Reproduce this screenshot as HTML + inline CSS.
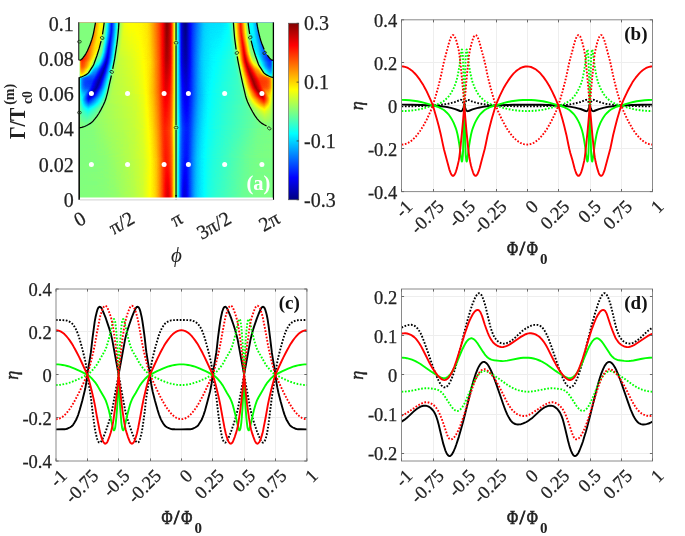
<!DOCTYPE html>
<html><head><meta charset="utf-8"><title>fig</title>
<style>html,body{margin:0;padding:0;background:#fff}svg{display:block}</style></head>
<body>
<svg width="685" height="536" viewBox="0 0 685 536">
<rect width="685" height="536" fill="#fff"/>
<g opacity="0.999">
<defs>
<filter id="jet" filterUnits="userSpaceOnUse" x="70" y="15" width="240" height="195" color-interpolation-filters="sRGB"><feComponentTransfer><feFuncR type="table" tableValues="0 0 0 0 .5 1 1 1 .5"/><feFuncG type="table" tableValues="0 0 .5 1 1 1 .5 0 0"/><feFuncB type="table" tableValues=".5 1 1 1 .5 0 0 0 0"/></feComponentTransfer></filter><filter id="inv" filterUnits="userSpaceOnUse" x="70" y="15" width="240" height="195" color-interpolation-filters="sRGB"><feComponentTransfer><feFuncR type="table" tableValues="1 0"/><feFuncG type="table" tableValues="1 0"/><feFuncB type="table" tableValues="1 0"/></feComponentTransfer></filter>
<linearGradient id="b0" gradientUnits="userSpaceOnUse" x1="79.1" x2="273.3" y1="0" y2="0"><stop offset="0" stop-color="#9d9d9d"/><stop offset=".2085" stop-color="#9d9d9d"/><stop offset=".3186" stop-color="#a2a2a2"/><stop offset=".3495" stop-color="#a6a6a6"/><stop offset=".3617" stop-color="#ababab"/><stop offset=".3946" stop-color="#c1c1c1"/><stop offset=".4119" stop-color="#cecece"/><stop offset=".4313" stop-color="#e1e1e1"/><stop offset=".4467" stop-color="#f9f9f9"/><stop offset=".4506" stop-color="#fdfdfd"/><stop offset=".4538" stop-color="#fdfdfd"/><stop offset=".4589" stop-color="#f9f9f9"/><stop offset=".4654" stop-color="#f2f2f2"/><stop offset=".4692" stop-color="#ececec"/><stop offset=".4731" stop-color="#e2e2e2"/><stop offset=".4815" stop-color="#c4c4c4"/><stop offset=".4898" stop-color="#9f9f9f"/><stop offset=".495" stop-color="#8d8d8d"/><stop offset=".5033" stop-color="#757575"/><stop offset=".5079" stop-color="#666"/><stop offset=".5111" stop-color="#5a5a5a"/><stop offset=".5182" stop-color="#3a3a3a"/><stop offset=".5246" stop-color="#232323"/><stop offset=".5278" stop-color="#181818"/><stop offset=".531" stop-color="#111"/><stop offset=".5375" stop-color="#080808"/><stop offset=".5426" stop-color="#030303"/><stop offset=".5471" stop-color="#010101"/><stop offset=".5503" stop-color="#020202"/><stop offset=".5542" stop-color="#060606"/><stop offset=".569" stop-color="#1e1e1e"/><stop offset=".5857" stop-color="#2e2e2e"/><stop offset=".6089" stop-color="#3f3f3f"/><stop offset=".6398" stop-color="#525252"/><stop offset=".6488" stop-color="#555"/><stop offset=".6752" stop-color="#585858"/><stop offset=".7273" stop-color="#595959"/><stop offset=".7924" stop-color="#5e5e5e"/><stop offset=".8381" stop-color="#5f5f5f"/><stop offset=".9996" stop-color="#626262"/></linearGradient>
<linearGradient id="b1" gradientUnits="userSpaceOnUse" x1="79.1" x2="273.3" y1="0" y2="0"><stop offset="0" stop-color="#909090"/><stop offset=".2015" stop-color="#919191"/><stop offset=".271" stop-color="#979797"/><stop offset=".3148" stop-color="#9d9d9d"/><stop offset=".3437" stop-color="#a2a2a2"/><stop offset=".3662" stop-color="#a8a8a8"/><stop offset=".3804" stop-color="#b1b1b1"/><stop offset=".4016" stop-color="#c1c1c1"/><stop offset=".4145" stop-color="#ccc"/><stop offset=".4454" stop-color="#f1f1f1"/><stop offset=".4493" stop-color="#f3f3f3"/><stop offset=".4531" stop-color="#f3f3f3"/><stop offset=".4602" stop-color="#efefef"/><stop offset=".4679" stop-color="#e8e8e8"/><stop offset=".4705" stop-color="#e4e4e4"/><stop offset=".4737" stop-color="#dcdcdc"/><stop offset=".4815" stop-color="#c2c2c2"/><stop offset=".4879" stop-color="#a6a6a6"/><stop offset=".4905" stop-color="#9d9d9d"/><stop offset=".4956" stop-color="#8b8b8b"/><stop offset=".5027" stop-color="#777"/><stop offset=".5072" stop-color="#686868"/><stop offset=".5111" stop-color="#5a5a5a"/><stop offset=".5182" stop-color="#3c3c3c"/><stop offset=".5239" stop-color="#292929"/><stop offset=".5278" stop-color="#1d1d1d"/><stop offset=".531" stop-color="#171717"/><stop offset=".5375" stop-color="#111"/><stop offset=".5433" stop-color="#0d0d0d"/><stop offset=".549" stop-color="#0b0b0b"/><stop offset=".5516" stop-color="#0c0c0c"/><stop offset=".5548" stop-color="#0e0e0e"/><stop offset=".5819" stop-color="#2e2e2e"/><stop offset=".598" stop-color="#3c3c3c"/><stop offset=".6276" stop-color="#515151"/><stop offset=".6347" stop-color="#545454"/><stop offset=".6482" stop-color="#585858"/><stop offset=".6861" stop-color="#5e5e5e"/><stop offset=".8072" stop-color="#6b6b6b"/><stop offset=".8947" stop-color="#6e6e6e"/><stop offset=".9996" stop-color="#6e6e6e"/></linearGradient>
<linearGradient id="mg1" gradientUnits="userSpaceOnUse" x1="0" x2="0" y1="22.6" y2="60"><stop offset="0" stop-color="#fff" stop-opacity="0"/><stop offset="1" stop-color="#fff" stop-opacity="1"/></linearGradient>
<mask id="m1" maskUnits="userSpaceOnUse" x="70" y="15" width="240" height="195"><rect x="70" y="22.6" width="240" height="187.4" fill="url(#mg1)"/></mask>
<linearGradient id="b2" gradientUnits="userSpaceOnUse" x1="79.1" x2="273.3" y1="0" y2="0"><stop offset="0" stop-color="#808080"/><stop offset=".0747" stop-color="#888"/><stop offset=".1815" stop-color="#8d8d8d"/><stop offset=".2588" stop-color="#929292"/><stop offset=".298" stop-color="#969696"/><stop offset=".3289" stop-color="#9b9b9b"/><stop offset=".354" stop-color="#a3a3a3"/><stop offset=".3811" stop-color="#b1b1b1"/><stop offset=".4062" stop-color="#c3c3c3"/><stop offset=".4248" stop-color="#d5d5d5"/><stop offset=".4383" stop-color="#e0e0e0"/><stop offset=".4441" stop-color="#e3e3e3"/><stop offset=".4493" stop-color="#e3e3e3"/><stop offset=".4576" stop-color="#e0e0e0"/><stop offset=".4667" stop-color="#dadada"/><stop offset=".4705" stop-color="#d4d4d4"/><stop offset=".4757" stop-color="#cacaca"/><stop offset=".4815" stop-color="#bbb"/><stop offset=".4905" stop-color="#9b9b9b"/><stop offset=".5104" stop-color="#5f5f5f"/><stop offset=".5182" stop-color="#434343"/><stop offset=".5233" stop-color="#363636"/><stop offset=".5278" stop-color="#2c2c2c"/><stop offset=".5323" stop-color="#252525"/><stop offset=".5375" stop-color="#212121"/><stop offset=".5458" stop-color="#1c1c1c"/><stop offset=".5529" stop-color="#1b1b1b"/><stop offset=".5568" stop-color="#1c1c1c"/><stop offset=".5619" stop-color="#1f1f1f"/><stop offset=".5748" stop-color="#292929"/><stop offset=".5928" stop-color="#393939"/><stop offset=".6147" stop-color="#4a4a4a"/><stop offset=".6398" stop-color="#565656"/><stop offset=".6591" stop-color="#5d5d5d"/><stop offset=".6861" stop-color="#626262"/><stop offset=".7196" stop-color="#666"/><stop offset=".8406" stop-color="#717171"/><stop offset=".9365" stop-color="#787878"/><stop offset=".9996" stop-color="#7f7f7f"/></linearGradient>
<linearGradient id="mg2" gradientUnits="userSpaceOnUse" x1="0" x2="0" y1="60" y2="94"><stop offset="0" stop-color="#fff" stop-opacity="0"/><stop offset="1" stop-color="#fff" stop-opacity="1"/></linearGradient>
<mask id="m2" maskUnits="userSpaceOnUse" x="70" y="15" width="240" height="195"><rect x="70" y="60" width="240" height="150" fill="url(#mg2)"/></mask>
<linearGradient id="b3" gradientUnits="userSpaceOnUse" x1="79.1" x2="273.3" y1="0" y2="0"><stop offset="0" stop-color="#808080"/><stop offset=".0708" stop-color="#818181"/><stop offset=".1558" stop-color="#898989"/><stop offset=".2375" stop-color="#8d8d8d"/><stop offset=".2871" stop-color="#919191"/><stop offset=".3238" stop-color="#969696"/><stop offset=".3559" stop-color="#9f9f9f"/><stop offset=".3759" stop-color="#a7a7a7"/><stop offset=".3907" stop-color="#b0b0b0"/><stop offset=".4016" stop-color="#b7b7b7"/><stop offset=".4126" stop-color="#c0c0c0"/><stop offset=".4287" stop-color="#d0d0d0"/><stop offset=".4396" stop-color="#d6d6d6"/><stop offset=".4473" stop-color="#d6d6d6"/><stop offset=".4564" stop-color="#d3d3d3"/><stop offset=".4654" stop-color="#cfcfcf"/><stop offset=".4712" stop-color="#c8c8c8"/><stop offset=".4776" stop-color="#bdbdbd"/><stop offset=".4802" stop-color="#b6b6b6"/><stop offset=".486" stop-color="#a1a1a1"/><stop offset=".4905" stop-color="#959595"/><stop offset=".4956" stop-color="#888"/><stop offset=".504" stop-color="#767676"/><stop offset=".5091" stop-color="#6a6a6a"/><stop offset=".5136" stop-color="#5d5d5d"/><stop offset=".5188" stop-color="#4a4a4a"/><stop offset=".5207" stop-color="#444"/><stop offset=".5272" stop-color="#393939"/><stop offset=".5317" stop-color="#323232"/><stop offset=".5362" stop-color="#2e2e2e"/><stop offset=".5471" stop-color="#292929"/><stop offset=".5561" stop-color="#282828"/><stop offset=".5619" stop-color="#292929"/><stop offset=".5716" stop-color="#2f2f2f"/><stop offset=".5928" stop-color="#424242"/><stop offset=".605" stop-color="#4b4b4b"/><stop offset=".616" stop-color="#515151"/><stop offset=".6385" stop-color="#5b5b5b"/><stop offset=".6668" stop-color="#626262"/><stop offset=".7035" stop-color="#676767"/><stop offset=".8355" stop-color="#737373"/><stop offset=".9217" stop-color="#7d7d7d"/><stop offset=".9996" stop-color="#7f7f7f"/></linearGradient>
<linearGradient id="mg3" gradientUnits="userSpaceOnUse" x1="0" x2="0" y1="94" y2="130"><stop offset="0" stop-color="#fff" stop-opacity="0"/><stop offset="1" stop-color="#fff" stop-opacity="1"/></linearGradient>
<mask id="m3" maskUnits="userSpaceOnUse" x="70" y="15" width="240" height="195"><rect x="70" y="94" width="240" height="116" fill="url(#mg3)"/></mask>
<linearGradient id="b4" gradientUnits="userSpaceOnUse" x1="79.1" x2="273.3" y1="0" y2="0"><stop offset="0" stop-color="#808080"/><stop offset=".0863" stop-color="#818181"/><stop offset=".1384" stop-color="#838383"/><stop offset=".2787" stop-color="#8f8f8f"/><stop offset=".3296" stop-color="#959595"/><stop offset=".365" stop-color="#9f9f9f"/><stop offset=".3849" stop-color="#a8a8a8"/><stop offset=".3978" stop-color="#afafaf"/><stop offset=".4081" stop-color="#b8b8b8"/><stop offset=".4177" stop-color="#c0c0c0"/><stop offset=".4338" stop-color="#d2d2d2"/><stop offset=".4441" stop-color="#d9d9d9"/><stop offset=".4512" stop-color="#d9d9d9"/><stop offset=".4596" stop-color="#d6d6d6"/><stop offset=".4692" stop-color="#cfcfcf"/><stop offset=".4737" stop-color="#cacaca"/><stop offset=".4789" stop-color="#c0c0c0"/><stop offset=".4821" stop-color="#b8b8b8"/><stop offset=".4873" stop-color="#a3a3a3"/><stop offset=".4924" stop-color="#929292"/><stop offset=".4969" stop-color="#868686"/><stop offset=".504" stop-color="#757575"/><stop offset=".5091" stop-color="#666"/><stop offset=".5124" stop-color="#5c5c5c"/><stop offset=".5162" stop-color="#4b4b4b"/><stop offset=".5182" stop-color="#454545"/><stop offset=".5239" stop-color="#383838"/><stop offset=".5291" stop-color="#313131"/><stop offset=".5349" stop-color="#2c2c2c"/><stop offset=".5439" stop-color="#262626"/><stop offset=".551" stop-color="#252525"/><stop offset=".5568" stop-color="#262626"/><stop offset=".5664" stop-color="#2d2d2d"/><stop offset=".5877" stop-color="#434343"/><stop offset=".5986" stop-color="#4b4b4b"/><stop offset=".6083" stop-color="#525252"/><stop offset=".6289" stop-color="#5b5b5b"/><stop offset=".6585" stop-color="#636363"/><stop offset=".6887" stop-color="#686868"/><stop offset=".8657" stop-color="#7b7b7b"/><stop offset=".9166" stop-color="#7e7e7e"/><stop offset=".9996" stop-color="#7f7f7f"/></linearGradient>
<linearGradient id="mg4" gradientUnits="userSpaceOnUse" x1="0" x2="0" y1="130" y2="158"><stop offset="0" stop-color="#fff" stop-opacity="0"/><stop offset="1" stop-color="#fff" stop-opacity="1"/></linearGradient>
<mask id="m4" maskUnits="userSpaceOnUse" x="70" y="15" width="240" height="195"><rect x="70" y="130" width="240" height="80" fill="url(#mg4)"/></mask>
<linearGradient id="b5" gradientUnits="userSpaceOnUse" x1="79.1" x2="273.3" y1="0" y2="0"><stop offset="0" stop-color="#808080"/><stop offset=".1126" stop-color="#818181"/><stop offset=".1757" stop-color="#838383"/><stop offset=".2781" stop-color="#8c8c8c"/><stop offset=".3257" stop-color="#939393"/><stop offset=".3733" stop-color="#a2a2a2"/><stop offset=".3868" stop-color="#a7a7a7"/><stop offset=".3971" stop-color="#adadad"/><stop offset=".4055" stop-color="#b4b4b4"/><stop offset=".4184" stop-color="#c1c1c1"/><stop offset=".448" stop-color="#e5e5e5"/><stop offset=".4525" stop-color="#e9e9e9"/><stop offset=".457" stop-color="#eaeaea"/><stop offset=".4609" stop-color="#e8e8e8"/><stop offset=".4654" stop-color="#e2e2e2"/><stop offset=".4737" stop-color="#d4d4d4"/><stop offset=".477" stop-color="#ccc"/><stop offset=".4815" stop-color="#bdbdbd"/><stop offset=".4873" stop-color="#a5a5a5"/><stop offset=".4898" stop-color="#9b9b9b"/><stop offset=".4956" stop-color="#8a8a8a"/><stop offset=".5033" stop-color="#777"/><stop offset=".5079" stop-color="#696969"/><stop offset=".5117" stop-color="#5c5c5c"/><stop offset=".5182" stop-color="#414141"/><stop offset=".5239" stop-color="#2f2f2f"/><stop offset=".5297" stop-color="#242424"/><stop offset=".5355" stop-color="#1a1a1a"/><stop offset=".5394" stop-color="#161616"/><stop offset=".5433" stop-color="#151515"/><stop offset=".5471" stop-color="#161616"/><stop offset=".5516" stop-color="#191919"/><stop offset=".5812" stop-color="#3d3d3d"/><stop offset=".5941" stop-color="#4a4a4a"/><stop offset=".6018" stop-color="#505050"/><stop offset=".6224" stop-color="#595959"/><stop offset=".6656" stop-color="#666"/><stop offset=".6997" stop-color="#6b6b6b"/><stop offset=".8432" stop-color="#7a7a7a"/><stop offset=".9095" stop-color="#7e7e7e"/><stop offset=".9996" stop-color="#7f7f7f"/></linearGradient>
<linearGradient id="mg5" gradientUnits="userSpaceOnUse" x1="0" x2="0" y1="158" y2="198.9"><stop offset="0" stop-color="#fff" stop-opacity="0"/><stop offset="1" stop-color="#fff" stop-opacity="1"/></linearGradient>
<mask id="m5" maskUnits="userSpaceOnUse" x="70" y="15" width="240" height="195"><rect x="70" y="158" width="240" height="52" fill="url(#mg5)"/></mask>
<linearGradient id="c0" gradientUnits="userSpaceOnUse" x1="79.1" x2="131.0" y1="0" y2="0"><stop offset="0" stop-color="#808080"/><stop offset=".3131" stop-color="#808080"/><stop offset=".3179" stop-color="#bababa"/><stop offset=".4046" stop-color="#a0a0a0"/><stop offset=".4624" stop-color="#9f9f9f"/><stop offset=".4672" stop-color="#9c9c9c"/><stop offset=".4817" stop-color="#818181"/><stop offset=".501" stop-color="#7c7c7c"/><stop offset=".5202" stop-color="#727272"/><stop offset=".6021" stop-color="#343434"/><stop offset=".6262" stop-color="#242424"/><stop offset=".6503" stop-color="#313131"/><stop offset=".7659" stop-color="#7f7f7f"/><stop offset=".8333" stop-color="#939393"/><stop offset=".8719" stop-color="#9b9b9b"/><stop offset=".9104" stop-color="#9e9e9e"/><stop offset=".9971" stop-color="#a0a0a0"/></linearGradient>
<linearGradient id="d0" gradientUnits="userSpaceOnUse" x1="221.30" x2="273.3" y1="0" y2="0"><stop offset="0" stop-color="#595959"/><stop offset=".0865" stop-color="#5b5b5b"/><stop offset=".125" stop-color="#5f5f5f"/><stop offset=".1635" stop-color="#676767"/><stop offset=".2308" stop-color="#7b7b7b"/><stop offset=".2356" stop-color="#818181"/><stop offset=".3365" stop-color="#c6c6c6"/><stop offset=".3654" stop-color="#d8d8d8"/><stop offset=".375" stop-color="#dbdbdb"/><stop offset=".476" stop-color="#8f8f8f"/><stop offset=".5" stop-color="#828282"/><stop offset=".5144" stop-color="#808080"/><stop offset=".5192" stop-color="#7a7a7a"/><stop offset=".5337" stop-color="#606060"/><stop offset=".5913" stop-color="#606060"/><stop offset=".6827" stop-color="#444"/><stop offset=".6875" stop-color="#808080"/><stop offset="1" stop-color="#808080"/></linearGradient>
<linearGradient id="c1" gradientUnits="userSpaceOnUse" x1="79.1" x2="131.0" y1="0" y2="0"><stop offset="0" stop-color="#808080"/><stop offset=".3083" stop-color="#808080"/><stop offset=".3131" stop-color="#bbb"/><stop offset=".4046" stop-color="#9f9f9f"/><stop offset=".4624" stop-color="#9f9f9f"/><stop offset=".4769" stop-color="#868686"/><stop offset=".4817" stop-color="#808080"/><stop offset=".4961" stop-color="#7e7e7e"/><stop offset=".5154" stop-color="#757575"/><stop offset=".6069" stop-color="#303030"/><stop offset=".6262" stop-color="#242424"/><stop offset=".6503" stop-color="#323232"/><stop offset=".7659" stop-color="#808080"/><stop offset=".8333" stop-color="#939393"/><stop offset=".8719" stop-color="#9b9b9b"/><stop offset=".9104" stop-color="#9e9e9e"/><stop offset=".9971" stop-color="#a0a0a0"/></linearGradient>
<linearGradient id="d1" gradientUnits="userSpaceOnUse" x1="221.30" x2="273.3" y1="0" y2="0"><stop offset="0" stop-color="#5a5a5a"/><stop offset=".125" stop-color="#5f5f5f"/><stop offset=".1635" stop-color="#676767"/><stop offset=".2308" stop-color="#7a7a7a"/><stop offset=".2356" stop-color="#808080"/><stop offset=".3413" stop-color="#c8c8c8"/><stop offset=".3654" stop-color="#d8d8d8"/><stop offset=".375" stop-color="#dbdbdb"/><stop offset=".4808" stop-color="#8c8c8c"/><stop offset=".5" stop-color="#828282"/><stop offset=".5192" stop-color="#7f7f7f"/><stop offset=".5337" stop-color="#646464"/><stop offset=".5385" stop-color="#606060"/><stop offset=".5962" stop-color="#5f5f5f"/><stop offset=".6827" stop-color="#454545"/><stop offset=".6875" stop-color="#808080"/><stop offset="1" stop-color="#808080"/></linearGradient>
<linearGradient id="c2" gradientUnits="userSpaceOnUse" x1="79.1" x2="131.0" y1="0" y2="0"><stop offset="0" stop-color="#808080"/><stop offset=".3035" stop-color="#808080"/><stop offset=".3083" stop-color="#bcbcbc"/><stop offset=".3998" stop-color="#a0a0a0"/><stop offset=".4576" stop-color="#9f9f9f"/><stop offset=".4624" stop-color="#9c9c9c"/><stop offset=".4769" stop-color="#818181"/><stop offset=".4961" stop-color="#7e7e7e"/><stop offset=".5154" stop-color="#747474"/><stop offset=".6069" stop-color="#2f2f2f"/><stop offset=".6262" stop-color="#242424"/><stop offset=".6503" stop-color="#323232"/><stop offset=".7659" stop-color="#808080"/><stop offset=".8333" stop-color="#939393"/><stop offset=".8719" stop-color="#9b9b9b"/><stop offset=".9971" stop-color="#a0a0a0"/></linearGradient>
<linearGradient id="d2" gradientUnits="userSpaceOnUse" x1="221.30" x2="273.3" y1="0" y2="0"><stop offset="0" stop-color="#5a5a5a"/><stop offset=".0913" stop-color="#5c5c5c"/><stop offset=".1298" stop-color="#5f5f5f"/><stop offset=".1683" stop-color="#686868"/><stop offset=".2308" stop-color="#7a7a7a"/><stop offset=".2356" stop-color="#808080"/><stop offset=".3413" stop-color="#c8c8c8"/><stop offset=".3654" stop-color="#d7d7d7"/><stop offset=".375" stop-color="#dbdbdb"/><stop offset=".399" stop-color="#cbcbcb"/><stop offset=".4808" stop-color="#8d8d8d"/><stop offset=".5048" stop-color="#818181"/><stop offset=".5192" stop-color="#808080"/><stop offset=".524" stop-color="#7a7a7a"/><stop offset=".5385" stop-color="#606060"/><stop offset=".5962" stop-color="#606060"/><stop offset=".6875" stop-color="#444"/><stop offset=".6923" stop-color="#808080"/><stop offset="1" stop-color="#808080"/></linearGradient>
<linearGradient id="c3" gradientUnits="userSpaceOnUse" x1="79.1" x2="131.0" y1="0" y2="0"><stop offset="0" stop-color="#808080"/><stop offset=".3035" stop-color="#808080"/><stop offset=".3083" stop-color="#bbb"/><stop offset=".3998" stop-color="#a0a0a0"/><stop offset=".4576" stop-color="#a0a0a0"/><stop offset=".4721" stop-color="#858585"/><stop offset=".4769" stop-color="#808080"/><stop offset=".4913" stop-color="#7f7f7f"/><stop offset=".5154" stop-color="#737373"/><stop offset=".6069" stop-color="#2e2e2e"/><stop offset=".6262" stop-color="#242424"/><stop offset=".6455" stop-color="#2f2f2f"/><stop offset=".7659" stop-color="#808080"/><stop offset=".8285" stop-color="#929292"/><stop offset=".8671" stop-color="#9a9a9a"/><stop offset=".9056" stop-color="#9d9d9d"/><stop offset=".9971" stop-color="#9f9f9f"/></linearGradient>
<linearGradient id="d3" gradientUnits="userSpaceOnUse" x1="221.30" x2="273.3" y1="0" y2="0"><stop offset="0" stop-color="#5a5a5a"/><stop offset=".1298" stop-color="#5f5f5f"/><stop offset=".1683" stop-color="#676767"/><stop offset=".2356" stop-color="#7b7b7b"/><stop offset=".2404" stop-color="#828282"/><stop offset=".3173" stop-color="#b7b7b7"/><stop offset=".3606" stop-color="#d4d4d4"/><stop offset=".375" stop-color="#dbdbdb"/><stop offset=".3942" stop-color="#cfcfcf"/><stop offset=".4856" stop-color="#8b8b8b"/><stop offset=".5048" stop-color="#818181"/><stop offset=".524" stop-color="#7f7f7f"/><stop offset=".5385" stop-color="#646464"/><stop offset=".5433" stop-color="#5f5f5f"/><stop offset=".601" stop-color="#5f5f5f"/><stop offset=".6923" stop-color="#444"/><stop offset=".6971" stop-color="#808080"/><stop offset="1" stop-color="#808080"/></linearGradient>
<linearGradient id="c4" gradientUnits="userSpaceOnUse" x1="79.1" x2="131.0" y1="0" y2="0"><stop offset="0" stop-color="#808080"/><stop offset=".2987" stop-color="#808080"/><stop offset=".3035" stop-color="#bcbcbc"/><stop offset=".395" stop-color="#a0a0a0"/><stop offset=".4528" stop-color="#a0a0a0"/><stop offset=".4576" stop-color="#9c9c9c"/><stop offset=".4721" stop-color="#808080"/><stop offset=".4913" stop-color="#7e7e7e"/><stop offset=".5106" stop-color="#757575"/><stop offset=".6069" stop-color="#2e2e2e"/><stop offset=".6262" stop-color="#252525"/><stop offset=".6503" stop-color="#333"/><stop offset=".7611" stop-color="#7f7f7f"/><stop offset=".8285" stop-color="#939393"/><stop offset=".8671" stop-color="#9a9a9a"/><stop offset=".9971" stop-color="#9f9f9f"/></linearGradient>
<linearGradient id="d4" gradientUnits="userSpaceOnUse" x1="221.30" x2="273.3" y1="0" y2="0"><stop offset="0" stop-color="#5a5a5a"/><stop offset=".0962" stop-color="#5d5d5d"/><stop offset=".1346" stop-color="#606060"/><stop offset=".1731" stop-color="#686868"/><stop offset=".2356" stop-color="#7b7b7b"/><stop offset=".2404" stop-color="#818181"/><stop offset=".3221" stop-color="#bababa"/><stop offset=".3606" stop-color="#d4d4d4"/><stop offset=".375" stop-color="#dbdbdb"/><stop offset=".3942" stop-color="#d0d0d0"/><stop offset=".4856" stop-color="#8c8c8c"/><stop offset=".5096" stop-color="#808080"/><stop offset=".524" stop-color="#808080"/><stop offset=".5288" stop-color="#7b7b7b"/><stop offset=".5433" stop-color="#606060"/><stop offset=".6058" stop-color="#5f5f5f"/><stop offset=".6971" stop-color="#434343"/><stop offset=".7019" stop-color="#808080"/><stop offset="1" stop-color="#808080"/></linearGradient>
<linearGradient id="c5" gradientUnits="userSpaceOnUse" x1="79.1" x2="131.0" y1="0" y2="0"><stop offset="0" stop-color="#808080"/><stop offset=".2938" stop-color="#808080"/><stop offset=".2987" stop-color="#bcbcbc"/><stop offset=".3902" stop-color="#a1a1a1"/><stop offset=".4528" stop-color="#a0a0a0"/><stop offset=".4672" stop-color="#848484"/><stop offset=".4721" stop-color="#808080"/><stop offset=".4865" stop-color="#7f7f7f"/><stop offset=".5106" stop-color="#747474"/><stop offset=".6021" stop-color="#303030"/><stop offset=".6214" stop-color="#242424"/><stop offset=".631" stop-color="#272727"/><stop offset=".6455" stop-color="#303030"/><stop offset=".7611" stop-color="#808080"/><stop offset=".8237" stop-color="#929292"/><stop offset=".8622" stop-color="#9a9a9a"/><stop offset=".9008" stop-color="#9d9d9d"/><stop offset=".9971" stop-color="#9f9f9f"/></linearGradient>
<linearGradient id="d5" gradientUnits="userSpaceOnUse" x1="221.30" x2="273.3" y1="0" y2="0"><stop offset="0" stop-color="#5b5b5b"/><stop offset=".1346" stop-color="#606060"/><stop offset=".1731" stop-color="#686868"/><stop offset=".2356" stop-color="#7a7a7a"/><stop offset=".2404" stop-color="#808080"/><stop offset=".3269" stop-color="#bdbdbd"/><stop offset=".3606" stop-color="#d3d3d3"/><stop offset=".375" stop-color="#dbdbdb"/><stop offset=".3942" stop-color="#d1d1d1"/><stop offset=".4904" stop-color="#898989"/><stop offset=".5096" stop-color="#808080"/><stop offset=".5288" stop-color="#808080"/><stop offset=".5433" stop-color="#656565"/><stop offset=".5481" stop-color="#5f5f5f"/><stop offset=".6058" stop-color="#5f5f5f"/><stop offset=".6971" stop-color="#444"/><stop offset=".7019" stop-color="#808080"/><stop offset="1" stop-color="#808080"/></linearGradient>
<linearGradient id="c6" gradientUnits="userSpaceOnUse" x1="79.1" x2="131.0" y1="0" y2="0"><stop offset="0" stop-color="#808080"/><stop offset=".289" stop-color="#808080"/><stop offset=".2938" stop-color="#bdbdbd"/><stop offset=".3902" stop-color="#a0a0a0"/><stop offset=".448" stop-color="#a0a0a0"/><stop offset=".4528" stop-color="#9a9a9a"/><stop offset=".4672" stop-color="#808080"/><stop offset=".4865" stop-color="#7f7f7f"/><stop offset=".5058" stop-color="#767676"/><stop offset=".5299" stop-color="#666"/><stop offset=".6021" stop-color="#2f2f2f"/><stop offset=".6214" stop-color="#232323"/><stop offset=".6407" stop-color="#2d2d2d"/><stop offset=".7611" stop-color="#808080"/><stop offset=".8237" stop-color="#929292"/><stop offset=".8622" stop-color="#9a9a9a"/><stop offset=".9971" stop-color="#9e9e9e"/></linearGradient>
<linearGradient id="d6" gradientUnits="userSpaceOnUse" x1="221.30" x2="273.3" y1="0" y2="0"><stop offset="0" stop-color="#5b5b5b"/><stop offset=".101" stop-color="#5d5d5d"/><stop offset=".1394" stop-color="#616161"/><stop offset=".1779" stop-color="#696969"/><stop offset=".2404" stop-color="#7b7b7b"/><stop offset=".2452" stop-color="#828282"/><stop offset=".351" stop-color="#cdcdcd"/><stop offset=".375" stop-color="#dbdbdb"/><stop offset=".3942" stop-color="#d2d2d2"/><stop offset=".4904" stop-color="#8a8a8a"/><stop offset=".5096" stop-color="#818181"/><stop offset=".5288" stop-color="#808080"/><stop offset=".5337" stop-color="#7c7c7c"/><stop offset=".5481" stop-color="#616161"/><stop offset=".5529" stop-color="#5f5f5f"/><stop offset=".6106" stop-color="#5f5f5f"/><stop offset=".7019" stop-color="#434343"/><stop offset=".7067" stop-color="#808080"/><stop offset="1" stop-color="#808080"/></linearGradient>
<linearGradient id="c7" gradientUnits="userSpaceOnUse" x1="79.1" x2="131.0" y1="0" y2="0"><stop offset="0" stop-color="#808080"/><stop offset=".289" stop-color="#808080"/><stop offset=".2938" stop-color="#bcbcbc"/><stop offset=".3854" stop-color="#a1a1a1"/><stop offset=".4432" stop-color="#a0a0a0"/><stop offset=".448" stop-color="#9e9e9e"/><stop offset=".4624" stop-color="#838383"/><stop offset=".4672" stop-color="#808080"/><stop offset=".4865" stop-color="#7f7f7f"/><stop offset=".5058" stop-color="#767676"/><stop offset=".6021" stop-color="#2e2e2e"/><stop offset=".6214" stop-color="#232323"/><stop offset=".6407" stop-color="#2e2e2e"/><stop offset=".7563" stop-color="#7f7f7f"/><stop offset=".7611" stop-color="#818181"/><stop offset=".8237" stop-color="#929292"/><stop offset=".8622" stop-color="#9a9a9a"/><stop offset=".9971" stop-color="#9e9e9e"/></linearGradient>
<linearGradient id="d7" gradientUnits="userSpaceOnUse" x1="221.30" x2="273.3" y1="0" y2="0"><stop offset="0" stop-color="#5b5b5b"/><stop offset=".1394" stop-color="#616161"/><stop offset=".1779" stop-color="#686868"/><stop offset=".2404" stop-color="#7b7b7b"/><stop offset=".2452" stop-color="#818181"/><stop offset=".3413" stop-color="#c5c5c5"/><stop offset=".3702" stop-color="#d8d8d8"/><stop offset=".3798" stop-color="#dcdcdc"/><stop offset=".399" stop-color="#d0d0d0"/><stop offset=".4712" stop-color="#989898"/><stop offset=".4952" stop-color="#888"/><stop offset=".5144" stop-color="#808080"/><stop offset=".5337" stop-color="#808080"/><stop offset=".5529" stop-color="#5f5f5f"/><stop offset=".6154" stop-color="#5e5e5e"/><stop offset=".7067" stop-color="#424242"/><stop offset=".7115" stop-color="#808080"/><stop offset="1" stop-color="#808080"/></linearGradient>
<linearGradient id="c8" gradientUnits="userSpaceOnUse" x1="79.1" x2="131.0" y1="0" y2="0"><stop offset="0" stop-color="#808080"/><stop offset=".2842" stop-color="#808080"/><stop offset=".289" stop-color="#bdbdbd"/><stop offset=".3805" stop-color="#a1a1a1"/><stop offset=".4432" stop-color="#a1a1a1"/><stop offset=".4576" stop-color="#868686"/><stop offset=".4624" stop-color="#808080"/><stop offset=".4817" stop-color="#808080"/><stop offset=".501" stop-color="#777"/><stop offset=".525" stop-color="#676767"/><stop offset=".6021" stop-color="#2d2d2d"/><stop offset=".6214" stop-color="#242424"/><stop offset=".6455" stop-color="#323232"/><stop offset=".7563" stop-color="#808080"/><stop offset=".8189" stop-color="#929292"/><stop offset=".8574" stop-color="#999"/><stop offset=".9971" stop-color="#9e9e9e"/></linearGradient>
<linearGradient id="d8" gradientUnits="userSpaceOnUse" x1="221.30" x2="273.3" y1="0" y2="0"><stop offset="0" stop-color="#5b5b5b"/><stop offset=".1394" stop-color="#616161"/><stop offset=".1779" stop-color="#686868"/><stop offset=".2404" stop-color="#7a7a7a"/><stop offset=".2452" stop-color="#808080"/><stop offset=".3413" stop-color="#c4c4c4"/><stop offset=".3702" stop-color="#d8d8d8"/><stop offset=".3798" stop-color="#dcdcdc"/><stop offset=".399" stop-color="#d1d1d1"/><stop offset=".4952" stop-color="#898989"/><stop offset=".5144" stop-color="#808080"/><stop offset=".5385" stop-color="#7e7e7e"/><stop offset=".5529" stop-color="#636363"/><stop offset=".5577" stop-color="#5e5e5e"/><stop offset=".6154" stop-color="#5e5e5e"/><stop offset=".7115" stop-color="#414141"/><stop offset=".7163" stop-color="#808080"/><stop offset="1" stop-color="#808080"/></linearGradient>
<linearGradient id="c9" gradientUnits="userSpaceOnUse" x1="79.1" x2="131.0" y1="0" y2="0"><stop offset="0" stop-color="#808080"/><stop offset=".2794" stop-color="#808080"/><stop offset=".2842" stop-color="#bebebe"/><stop offset=".3757" stop-color="#a2a2a2"/><stop offset=".4383" stop-color="#a1a1a1"/><stop offset=".4432" stop-color="#9c9c9c"/><stop offset=".4576" stop-color="#808080"/><stop offset=".4817" stop-color="#7f7f7f"/><stop offset=".501" stop-color="#767676"/><stop offset=".5973" stop-color="#2f2f2f"/><stop offset=".6166" stop-color="#232323"/><stop offset=".6358" stop-color="#2c2c2c"/><stop offset=".7563" stop-color="#808080"/><stop offset=".8189" stop-color="#929292"/><stop offset=".8574" stop-color="#999"/><stop offset=".9971" stop-color="#9e9e9e"/></linearGradient>
<linearGradient id="d9" gradientUnits="userSpaceOnUse" x1="221.30" x2="273.3" y1="0" y2="0"><stop offset="0" stop-color="#5c5c5c"/><stop offset=".1442" stop-color="#616161"/><stop offset=".1827" stop-color="#696969"/><stop offset=".2452" stop-color="#7b7b7b"/><stop offset=".25" stop-color="#828282"/><stop offset=".3558" stop-color="#cdcdcd"/><stop offset=".3798" stop-color="#dcdcdc"/><stop offset=".399" stop-color="#d2d2d2"/><stop offset=".476" stop-color="#989898"/><stop offset=".5" stop-color="#888"/><stop offset=".5192" stop-color="#808080"/><stop offset=".5385" stop-color="#808080"/><stop offset=".5433" stop-color="#7b7b7b"/><stop offset=".5577" stop-color="#5f5f5f"/><stop offset=".6202" stop-color="#5e5e5e"/><stop offset=".7163" stop-color="#404040"/><stop offset=".7212" stop-color="#808080"/><stop offset="1" stop-color="#808080"/></linearGradient>
<linearGradient id="c10" gradientUnits="userSpaceOnUse" x1="79.1" x2="131.0" y1="0" y2="0"><stop offset="0" stop-color="#808080"/><stop offset=".2746" stop-color="#808080"/><stop offset=".2794" stop-color="#bfbfbf"/><stop offset=".3757" stop-color="#a2a2a2"/><stop offset=".4335" stop-color="#a2a2a2"/><stop offset=".4383" stop-color="#9f9f9f"/><stop offset=".4528" stop-color="#848484"/><stop offset=".4576" stop-color="#808080"/><stop offset=".4817" stop-color="#7f7f7f"/><stop offset=".4961" stop-color="#787878"/><stop offset=".525" stop-color="#646464"/><stop offset=".5973" stop-color="#2d2d2d"/><stop offset=".6166" stop-color="#232323"/><stop offset=".6358" stop-color="#2e2e2e"/><stop offset=".7514" stop-color="#7f7f7f"/><stop offset=".7563" stop-color="#818181"/><stop offset=".8141" stop-color="#919191"/><stop offset=".8526" stop-color="#999"/><stop offset=".9971" stop-color="#9d9d9d"/></linearGradient>
<linearGradient id="d10" gradientUnits="userSpaceOnUse" x1="221.30" x2="273.3" y1="0" y2="0"><stop offset="0" stop-color="#5c5c5c"/><stop offset=".1442" stop-color="#616161"/><stop offset=".1827" stop-color="#696969"/><stop offset=".2452" stop-color="#7b7b7b"/><stop offset=".25" stop-color="#818181"/><stop offset=".3462" stop-color="#c6c6c6"/><stop offset=".375" stop-color="#d9d9d9"/><stop offset=".3846" stop-color="#dcdcdc"/><stop offset=".4038" stop-color="#d1d1d1"/><stop offset=".5" stop-color="#898989"/><stop offset=".5192" stop-color="#808080"/><stop offset=".5433" stop-color="#808080"/><stop offset=".5625" stop-color="#5d5d5d"/><stop offset=".625" stop-color="#5d5d5d"/><stop offset=".7212" stop-color="#3f3f3f"/><stop offset=".726" stop-color="#808080"/><stop offset="1" stop-color="#808080"/></linearGradient>
<linearGradient id="c11" gradientUnits="userSpaceOnUse" x1="79.1" x2="131.0" y1="0" y2="0"><stop offset="0" stop-color="#808080"/><stop offset=".2697" stop-color="#808080"/><stop offset=".2746" stop-color="#c0c0c0"/><stop offset=".3709" stop-color="#a2a2a2"/><stop offset=".4335" stop-color="#a2a2a2"/><stop offset=".448" stop-color="#868686"/><stop offset=".4528" stop-color="#808080"/><stop offset=".4769" stop-color="#7f7f7f"/><stop offset=".4961" stop-color="#767676"/><stop offset=".5925" stop-color="#2e2e2e"/><stop offset=".6118" stop-color="#222"/><stop offset=".6214" stop-color="#262626"/><stop offset=".6358" stop-color="#2f2f2f"/><stop offset=".7514" stop-color="#808080"/><stop offset=".8141" stop-color="#919191"/><stop offset=".8526" stop-color="#999"/><stop offset=".9971" stop-color="#9d9d9d"/></linearGradient>
<linearGradient id="d11" gradientUnits="userSpaceOnUse" x1="221.30" x2="273.3" y1="0" y2="0"><stop offset="0" stop-color="#5c5c5c"/><stop offset=".149" stop-color="#626262"/><stop offset=".1875" stop-color="#6a6a6a"/><stop offset=".2452" stop-color="#7a7a7a"/><stop offset=".25" stop-color="#808080"/><stop offset=".3462" stop-color="#c4c4c4"/><stop offset=".3846" stop-color="#dcdcdc"/><stop offset=".4038" stop-color="#d3d3d3"/><stop offset=".476" stop-color="#9c9c9c"/><stop offset=".5048" stop-color="#888"/><stop offset=".5192" stop-color="#818181"/><stop offset=".5481" stop-color="#7e7e7e"/><stop offset=".5625" stop-color="#626262"/><stop offset=".5673" stop-color="#5d5d5d"/><stop offset=".6298" stop-color="#5c5c5c"/><stop offset=".726" stop-color="#3e3e3e"/><stop offset=".7308" stop-color="#808080"/><stop offset="1" stop-color="#808080"/></linearGradient>
<linearGradient id="c12" gradientUnits="userSpaceOnUse" x1="79.1" x2="131.0" y1="0" y2="0"><stop offset="0" stop-color="#808080"/><stop offset=".2649" stop-color="#808080"/><stop offset=".2697" stop-color="#c1c1c1"/><stop offset=".3661" stop-color="#a3a3a3"/><stop offset=".4287" stop-color="#a2a2a2"/><stop offset=".4335" stop-color="#9c9c9c"/><stop offset=".448" stop-color="#808080"/><stop offset=".4769" stop-color="#7f7f7f"/><stop offset=".4913" stop-color="#777"/><stop offset=".5202" stop-color="#646464"/><stop offset=".5925" stop-color="#2c2c2c"/><stop offset=".6118" stop-color="#222"/><stop offset=".631" stop-color="#2d2d2d"/><stop offset=".7514" stop-color="#808080"/><stop offset=".8092" stop-color="#919191"/><stop offset=".8478" stop-color="#989898"/><stop offset=".9971" stop-color="#9d9d9d"/></linearGradient>
<linearGradient id="d12" gradientUnits="userSpaceOnUse" x1="221.30" x2="273.3" y1="0" y2="0"><stop offset="0" stop-color="#5d5d5d"/><stop offset=".149" stop-color="#626262"/><stop offset=".1875" stop-color="#696969"/><stop offset=".25" stop-color="#7b7b7b"/><stop offset=".2548" stop-color="#828282"/><stop offset=".3462" stop-color="#c3c3c3"/><stop offset=".375" stop-color="#d6d6d6"/><stop offset=".3894" stop-color="#ddd"/><stop offset=".4087" stop-color="#d1d1d1"/><stop offset=".4808" stop-color="#9a9a9a"/><stop offset=".5096" stop-color="#878787"/><stop offset=".524" stop-color="#808080"/><stop offset=".5481" stop-color="#808080"/><stop offset=".5529" stop-color="#7b7b7b"/><stop offset=".5673" stop-color="#5f5f5f"/><stop offset=".5721" stop-color="#5d5d5d"/><stop offset=".6346" stop-color="#5c5c5c"/><stop offset=".726" stop-color="#3f3f3f"/><stop offset=".7308" stop-color="#808080"/><stop offset="1" stop-color="#808080"/></linearGradient>
<linearGradient id="c13" gradientUnits="userSpaceOnUse" x1="79.1" x2="131.0" y1="0" y2="0"><stop offset="0" stop-color="#808080"/><stop offset=".2601" stop-color="#808080"/><stop offset=".2649" stop-color="#c1c1c1"/><stop offset=".3613" stop-color="#a3a3a3"/><stop offset=".4239" stop-color="#a3a3a3"/><stop offset=".4287" stop-color="#9e9e9e"/><stop offset=".4432" stop-color="#828282"/><stop offset=".448" stop-color="#808080"/><stop offset=".4721" stop-color="#7f7f7f"/><stop offset=".4865" stop-color="#787878"/><stop offset=".5154" stop-color="#656565"/><stop offset=".5877" stop-color="#2e2e2e"/><stop offset=".6069" stop-color="#222"/><stop offset=".6166" stop-color="#252525"/><stop offset=".631" stop-color="#2e2e2e"/><stop offset=".7466" stop-color="#808080"/><stop offset=".8044" stop-color="#909090"/><stop offset=".843" stop-color="#979797"/><stop offset=".9971" stop-color="#9d9d9d"/></linearGradient>
<linearGradient id="d13" gradientUnits="userSpaceOnUse" x1="221.30" x2="273.3" y1="0" y2="0"><stop offset="0" stop-color="#5d5d5d"/><stop offset=".1538" stop-color="#626262"/><stop offset=".1923" stop-color="#6a6a6a"/><stop offset=".25" stop-color="#7b7b7b"/><stop offset=".2548" stop-color="#818181"/><stop offset=".3413" stop-color="#bebebe"/><stop offset=".375" stop-color="#d5d5d5"/><stop offset=".3894" stop-color="#ddd"/><stop offset=".4087" stop-color="#d3d3d3"/><stop offset=".4856" stop-color="#999"/><stop offset=".5144" stop-color="#858585"/><stop offset=".5288" stop-color="#808080"/><stop offset=".5529" stop-color="#808080"/><stop offset=".5577" stop-color="#797979"/><stop offset=".5721" stop-color="#5d5d5d"/><stop offset=".6346" stop-color="#5c5c5c"/><stop offset=".7356" stop-color="#3d3d3d"/><stop offset=".7404" stop-color="#808080"/><stop offset="1" stop-color="#808080"/></linearGradient>
<linearGradient id="c14" gradientUnits="userSpaceOnUse" x1="79.1" x2="131.0" y1="0" y2="0"><stop offset="0" stop-color="#808080"/><stop offset=".2553" stop-color="#808080"/><stop offset=".2601" stop-color="#c2c2c2"/><stop offset=".3565" stop-color="#a4a4a4"/><stop offset=".4191" stop-color="#a3a3a3"/><stop offset=".4239" stop-color="#a1a1a1"/><stop offset=".4383" stop-color="#848484"/><stop offset=".4432" stop-color="#808080"/><stop offset=".4672" stop-color="#808080"/><stop offset=".4817" stop-color="#7a7a7a"/><stop offset=".5106" stop-color="#666"/><stop offset=".5877" stop-color="#2b2b2b"/><stop offset=".6069" stop-color="#222"/><stop offset=".631" stop-color="#303030"/><stop offset=".7466" stop-color="#808080"/><stop offset=".8044" stop-color="#909090"/><stop offset=".843" stop-color="#979797"/><stop offset=".9971" stop-color="#9c9c9c"/></linearGradient>
<linearGradient id="d14" gradientUnits="userSpaceOnUse" x1="221.30" x2="273.3" y1="0" y2="0"><stop offset="0" stop-color="#5d5d5d"/><stop offset=".1538" stop-color="#636363"/><stop offset=".1923" stop-color="#6a6a6a"/><stop offset=".2548" stop-color="#7c7c7c"/><stop offset=".2596" stop-color="#838383"/><stop offset=".3365" stop-color="#b9b9b9"/><stop offset=".3798" stop-color="#d7d7d7"/><stop offset=".3942" stop-color="#dedede"/><stop offset=".4135" stop-color="#d2d2d2"/><stop offset=".4856" stop-color="#9b9b9b"/><stop offset=".5144" stop-color="#878787"/><stop offset=".5288" stop-color="#808080"/><stop offset=".5577" stop-color="#808080"/><stop offset=".5769" stop-color="#5c5c5c"/><stop offset=".6394" stop-color="#5c5c5c"/><stop offset=".7404" stop-color="#3c3c3c"/><stop offset=".7452" stop-color="#808080"/><stop offset="1" stop-color="#808080"/></linearGradient>
<linearGradient id="c15" gradientUnits="userSpaceOnUse" x1="79.1" x2="131.0" y1="0" y2="0"><stop offset="0" stop-color="#808080"/><stop offset=".2505" stop-color="#808080"/><stop offset=".2553" stop-color="#c2c2c2"/><stop offset=".3516" stop-color="#a4a4a4"/><stop offset=".4191" stop-color="#a2a2a2"/><stop offset=".4335" stop-color="#868686"/><stop offset=".4383" stop-color="#808080"/><stop offset=".4672" stop-color="#7f7f7f"/><stop offset=".4817" stop-color="#787878"/><stop offset=".5106" stop-color="#646464"/><stop offset=".5829" stop-color="#2c2c2c"/><stop offset=".6021" stop-color="#212121"/><stop offset=".6214" stop-color="#2b2b2b"/><stop offset=".7418" stop-color="#7f7f7f"/><stop offset=".7466" stop-color="#818181"/><stop offset=".8044" stop-color="#919191"/><stop offset=".843" stop-color="#979797"/><stop offset=".9971" stop-color="#9c9c9c"/></linearGradient>
<linearGradient id="d15" gradientUnits="userSpaceOnUse" x1="221.30" x2="273.3" y1="0" y2="0"><stop offset="0" stop-color="#5d5d5d"/><stop offset=".1587" stop-color="#636363"/><stop offset=".1971" stop-color="#6a6a6a"/><stop offset=".2548" stop-color="#7b7b7b"/><stop offset=".2596" stop-color="#818181"/><stop offset=".3125" stop-color="#a7a7a7"/><stop offset=".375" stop-color="#d2d2d2"/><stop offset=".3942" stop-color="#ddd"/><stop offset=".4038" stop-color="#dbdbdb"/><stop offset=".4135" stop-color="#d5d5d5"/><stop offset=".4904" stop-color="#9a9a9a"/><stop offset=".5192" stop-color="#868686"/><stop offset=".5337" stop-color="#808080"/><stop offset=".5625" stop-color="#7e7e7e"/><stop offset=".5769" stop-color="#626262"/><stop offset=".5817" stop-color="#5c5c5c"/><stop offset=".6442" stop-color="#5c5c5c"/><stop offset=".7452" stop-color="#3c3c3c"/><stop offset=".75" stop-color="#808080"/><stop offset="1" stop-color="#808080"/></linearGradient>
<linearGradient id="c16" gradientUnits="userSpaceOnUse" x1="79.1" x2="131.0" y1="0" y2="0"><stop offset="0" stop-color="#808080"/><stop offset=".2457" stop-color="#808080"/><stop offset=".2505" stop-color="#c3c3c3"/><stop offset=".3468" stop-color="#a4a4a4"/><stop offset=".4143" stop-color="#a4a4a4"/><stop offset=".4335" stop-color="#808080"/><stop offset=".4624" stop-color="#808080"/><stop offset=".4769" stop-color="#797979"/><stop offset=".5058" stop-color="#656565"/><stop offset=".5829" stop-color="#2a2a2a"/><stop offset=".5925" stop-color="#242424"/><stop offset=".6021" stop-color="#212121"/><stop offset=".6262" stop-color="#303030"/><stop offset=".7418" stop-color="#808080"/><stop offset=".7996" stop-color="#909090"/><stop offset=".8382" stop-color="#979797"/><stop offset=".9971" stop-color="#9c9c9c"/></linearGradient>
<linearGradient id="d16" gradientUnits="userSpaceOnUse" x1="221.30" x2="273.3" y1="0" y2="0"><stop offset="0" stop-color="#5e5e5e"/><stop offset=".1587" stop-color="#636363"/><stop offset=".1971" stop-color="#6a6a6a"/><stop offset=".2548" stop-color="#7b7b7b"/><stop offset=".2596" stop-color="#808080"/><stop offset=".3606" stop-color="#c7c7c7"/><stop offset=".3894" stop-color="#dadada"/><stop offset=".399" stop-color="#dedede"/><stop offset=".4183" stop-color="#d4d4d4"/><stop offset=".4952" stop-color="#999"/><stop offset=".524" stop-color="#858585"/><stop offset=".5385" stop-color="#808080"/><stop offset=".5625" stop-color="#808080"/><stop offset=".5673" stop-color="#7d7d7d"/><stop offset=".5817" stop-color="#616161"/><stop offset=".5865" stop-color="#5b5b5b"/><stop offset=".649" stop-color="#5b5b5b"/><stop offset=".75" stop-color="#3c3c3c"/><stop offset=".7548" stop-color="#808080"/><stop offset="1" stop-color="#808080"/></linearGradient>
<linearGradient id="c17" gradientUnits="userSpaceOnUse" x1="79.1" x2="131.0" y1="0" y2="0"><stop offset="0" stop-color="#808080"/><stop offset=".2408" stop-color="#808080"/><stop offset=".2457" stop-color="#c3c3c3"/><stop offset=".342" stop-color="#a5a5a5"/><stop offset=".4094" stop-color="#a4a4a4"/><stop offset=".4287" stop-color="#808080"/><stop offset=".4576" stop-color="#808080"/><stop offset=".4721" stop-color="#7a7a7a"/><stop offset=".501" stop-color="#666"/><stop offset=".578" stop-color="#2a2a2a"/><stop offset=".5973" stop-color="#202020"/><stop offset=".6214" stop-color="#2e2e2e"/><stop offset=".7418" stop-color="#808080"/><stop offset=".7996" stop-color="#909090"/><stop offset=".8333" stop-color="#969696"/><stop offset=".9971" stop-color="#9c9c9c"/></linearGradient>
<linearGradient id="d17" gradientUnits="userSpaceOnUse" x1="221.30" x2="273.3" y1="0" y2="0"><stop offset="0" stop-color="#5e5e5e"/><stop offset=".1635" stop-color="#646464"/><stop offset=".2019" stop-color="#6b6b6b"/><stop offset=".2596" stop-color="#7b7b7b"/><stop offset=".2644" stop-color="#828282"/><stop offset=".3654" stop-color="#c9c9c9"/><stop offset=".3942" stop-color="#dcdcdc"/><stop offset=".4038" stop-color="#dfdfdf"/><stop offset=".4231" stop-color="#d3d3d3"/><stop offset=".4952" stop-color="#9b9b9b"/><stop offset=".524" stop-color="#878787"/><stop offset=".5385" stop-color="#808080"/><stop offset=".5673" stop-color="#808080"/><stop offset=".5721" stop-color="#7c7c7c"/><stop offset=".5865" stop-color="#606060"/><stop offset=".5913" stop-color="#5b5b5b"/><stop offset=".6538" stop-color="#5b5b5b"/><stop offset=".7548" stop-color="#3b3b3b"/><stop offset=".7596" stop-color="#808080"/><stop offset="1" stop-color="#808080"/></linearGradient>
<linearGradient id="c18" gradientUnits="userSpaceOnUse" x1="79.1" x2="131.0" y1="0" y2="0"><stop offset="0" stop-color="#808080"/><stop offset=".2312" stop-color="#808080"/><stop offset=".236" stop-color="#c5c5c5"/><stop offset=".3372" stop-color="#a5a5a5"/><stop offset=".4046" stop-color="#a4a4a4"/><stop offset=".4239" stop-color="#808080"/><stop offset=".4576" stop-color="#7f7f7f"/><stop offset=".4672" stop-color="#7a7a7a"/><stop offset=".4961" stop-color="#676767"/><stop offset=".5732" stop-color="#2b2b2b"/><stop offset=".5925" stop-color="#1f1f1f"/><stop offset=".6166" stop-color="#2c2c2c"/><stop offset=".737" stop-color="#808080"/><stop offset=".7948" stop-color="#909090"/><stop offset=".8333" stop-color="#969696"/><stop offset=".9971" stop-color="#9b9b9b"/></linearGradient>
<linearGradient id="d18" gradientUnits="userSpaceOnUse" x1="221.30" x2="273.3" y1="0" y2="0"><stop offset="0" stop-color="#5e5e5e"/><stop offset=".1683" stop-color="#646464"/><stop offset=".2067" stop-color="#6b6b6b"/><stop offset=".2596" stop-color="#7b7b7b"/><stop offset=".2644" stop-color="#808080"/><stop offset=".3558" stop-color="#c0c0c0"/><stop offset=".3894" stop-color="#d7d7d7"/><stop offset=".4038" stop-color="#dfdfdf"/><stop offset=".4135" stop-color="#dcdcdc"/><stop offset=".4231" stop-color="#d6d6d6"/><stop offset=".5" stop-color="#9a9a9a"/><stop offset=".5288" stop-color="#868686"/><stop offset=".5433" stop-color="#808080"/><stop offset=".5721" stop-color="#808080"/><stop offset=".5769" stop-color="#7b7b7b"/><stop offset=".5913" stop-color="#5f5f5f"/><stop offset=".5962" stop-color="#5b5b5b"/><stop offset=".6587" stop-color="#5b5b5b"/><stop offset=".7596" stop-color="#3b3b3b"/><stop offset=".7644" stop-color="#808080"/><stop offset="1" stop-color="#808080"/></linearGradient>
<linearGradient id="c19" gradientUnits="userSpaceOnUse" x1="79.1" x2="131.0" y1="0" y2="0"><stop offset="0" stop-color="#808080"/><stop offset=".2264" stop-color="#808080"/><stop offset=".2312" stop-color="#c5c5c5"/><stop offset=".3324" stop-color="#a5a5a5"/><stop offset=".3998" stop-color="#a5a5a5"/><stop offset=".4191" stop-color="#808080"/><stop offset=".4528" stop-color="#808080"/><stop offset=".4624" stop-color="#7b7b7b"/><stop offset=".4913" stop-color="#686868"/><stop offset=".5732" stop-color="#282828"/><stop offset=".5829" stop-color="#222"/><stop offset=".5925" stop-color="#1f1f1f"/><stop offset=".6166" stop-color="#2e2e2e"/><stop offset=".737" stop-color="#808080"/><stop offset=".79" stop-color="#8f8f8f"/><stop offset=".8285" stop-color="#969696"/><stop offset=".9971" stop-color="#9b9b9b"/></linearGradient>
<linearGradient id="d19" gradientUnits="userSpaceOnUse" x1="221.30" x2="273.3" y1="0" y2="0"><stop offset="0" stop-color="#5e5e5e"/><stop offset=".1683" stop-color="#646464"/><stop offset=".2067" stop-color="#6b6b6b"/><stop offset=".2644" stop-color="#7b7b7b"/><stop offset=".2692" stop-color="#828282"/><stop offset=".3558" stop-color="#bfbfbf"/><stop offset=".3942" stop-color="#d9d9d9"/><stop offset=".4087" stop-color="#e0e0e0"/><stop offset=".4279" stop-color="#d6d6d6"/><stop offset=".5048" stop-color="#999"/><stop offset=".5337" stop-color="#858585"/><stop offset=".5481" stop-color="#808080"/><stop offset=".5769" stop-color="#808080"/><stop offset=".5817" stop-color="#7b7b7b"/><stop offset=".5962" stop-color="#5f5f5f"/><stop offset=".601" stop-color="#5a5a5a"/><stop offset=".6635" stop-color="#5a5a5a"/><stop offset=".7692" stop-color="#3a3a3a"/><stop offset=".774" stop-color="#808080"/><stop offset="1" stop-color="#808080"/></linearGradient>
<linearGradient id="c20" gradientUnits="userSpaceOnUse" x1="79.1" x2="131.0" y1="0" y2="0"><stop offset="0" stop-color="#808080"/><stop offset=".2216" stop-color="#808080"/><stop offset=".2264" stop-color="#c5c5c5"/><stop offset=".3276" stop-color="#a5a5a5"/><stop offset=".395" stop-color="#a5a5a5"/><stop offset=".4143" stop-color="#808080"/><stop offset=".448" stop-color="#808080"/><stop offset=".4576" stop-color="#7c7c7c"/><stop offset=".4865" stop-color="#696969"/><stop offset=".5684" stop-color="#292929"/><stop offset=".5877" stop-color="#1e1e1e"/><stop offset=".6118" stop-color="#2c2c2c"/><stop offset=".7322" stop-color="#808080"/><stop offset=".7852" stop-color="#8e8e8e"/><stop offset=".8237" stop-color="#959595"/><stop offset=".9971" stop-color="#9b9b9b"/></linearGradient>
<linearGradient id="d20" gradientUnits="userSpaceOnUse" x1="221.30" x2="273.3" y1="0" y2="0"><stop offset="0" stop-color="#5f5f5f"/><stop offset=".1731" stop-color="#656565"/><stop offset=".2115" stop-color="#6c6c6c"/><stop offset=".2644" stop-color="#7b7b7b"/><stop offset=".2692" stop-color="#808080"/><stop offset=".3798" stop-color="#cecece"/><stop offset=".4038" stop-color="#dedede"/><stop offset=".4135" stop-color="#e1e1e1"/><stop offset=".4327" stop-color="#d5d5d5"/><stop offset=".5096" stop-color="#989898"/><stop offset=".5385" stop-color="#858585"/><stop offset=".5481" stop-color="#808080"/><stop offset=".5817" stop-color="#808080"/><stop offset=".5865" stop-color="#7b7b7b"/><stop offset=".601" stop-color="#5f5f5f"/><stop offset=".6058" stop-color="#5a5a5a"/><stop offset=".6731" stop-color="#595959"/><stop offset=".774" stop-color="#393939"/><stop offset=".7788" stop-color="#808080"/><stop offset="1" stop-color="#808080"/></linearGradient>
<linearGradient id="c21" gradientUnits="userSpaceOnUse" x1="79.1" x2="131.0" y1="0" y2="0"><stop offset="0" stop-color="#808080"/><stop offset=".2119" stop-color="#808080"/><stop offset=".2168" stop-color="#c7c7c7"/><stop offset=".3227" stop-color="#a5a5a5"/><stop offset=".3902" stop-color="#a5a5a5"/><stop offset=".4094" stop-color="#808080"/><stop offset=".448" stop-color="#7f7f7f"/><stop offset=".4576" stop-color="#7a7a7a"/><stop offset=".4865" stop-color="#666"/><stop offset=".5636" stop-color="#292929"/><stop offset=".5829" stop-color="#1e1e1e"/><stop offset=".5925" stop-color="#212121"/><stop offset=".6069" stop-color="#2a2a2a"/><stop offset=".7322" stop-color="#808080"/><stop offset=".7852" stop-color="#8f8f8f"/><stop offset=".8237" stop-color="#959595"/><stop offset=".9971" stop-color="#9b9b9b"/></linearGradient>
<linearGradient id="d21" gradientUnits="userSpaceOnUse" x1="221.30" x2="273.3" y1="0" y2="0"><stop offset="0" stop-color="#5f5f5f"/><stop offset=".1779" stop-color="#656565"/><stop offset=".2163" stop-color="#6c6c6c"/><stop offset=".2692" stop-color="#7b7b7b"/><stop offset=".274" stop-color="#828282"/><stop offset=".351" stop-color="#b8b8b8"/><stop offset=".399" stop-color="#d9d9d9"/><stop offset=".4135" stop-color="#e1e1e1"/><stop offset=".4231" stop-color="#dedede"/><stop offset=".4327" stop-color="#d8d8d8"/><stop offset=".5144" stop-color="#979797"/><stop offset=".5433" stop-color="#848484"/><stop offset=".5529" stop-color="#808080"/><stop offset=".5865" stop-color="#808080"/><stop offset=".5913" stop-color="#7b7b7b"/><stop offset=".6058" stop-color="#5f5f5f"/><stop offset=".6106" stop-color="#5a5a5a"/><stop offset=".6779" stop-color="#595959"/><stop offset=".7788" stop-color="#393939"/><stop offset=".7837" stop-color="#808080"/><stop offset="1" stop-color="#808080"/></linearGradient>
<linearGradient id="c22" gradientUnits="userSpaceOnUse" x1="79.1" x2="131.0" y1="0" y2="0"><stop offset="0" stop-color="#808080"/><stop offset=".2071" stop-color="#808080"/><stop offset=".2119" stop-color="#c6c6c6"/><stop offset=".3131" stop-color="#a7a7a7"/><stop offset=".3854" stop-color="#a5a5a5"/><stop offset=".4046" stop-color="#808080"/><stop offset=".448" stop-color="#7e7e7e"/><stop offset=".4817" stop-color="#676767"/><stop offset=".5636" stop-color="#272727"/><stop offset=".5732" stop-color="#202020"/><stop offset=".5829" stop-color="#1d1d1d"/><stop offset=".6069" stop-color="#2b2b2b"/><stop offset=".7274" stop-color="#808080"/><stop offset=".7803" stop-color="#8e8e8e"/><stop offset=".8189" stop-color="#959595"/><stop offset=".9971" stop-color="#9a9a9a"/></linearGradient>
<linearGradient id="d22" gradientUnits="userSpaceOnUse" x1="221.30" x2="273.3" y1="0" y2="0"><stop offset="0" stop-color="#5f5f5f"/><stop offset=".1779" stop-color="#656565"/><stop offset=".2163" stop-color="#6c6c6c"/><stop offset=".2692" stop-color="#7b7b7b"/><stop offset=".274" stop-color="#808080"/><stop offset=".3846" stop-color="#cecece"/><stop offset=".4087" stop-color="#dedede"/><stop offset=".4183" stop-color="#e2e2e2"/><stop offset=".4375" stop-color="#d7d7d7"/><stop offset=".5192" stop-color="#969696"/><stop offset=".5481" stop-color="#838383"/><stop offset=".5577" stop-color="#808080"/><stop offset=".5913" stop-color="#808080"/><stop offset=".5962" stop-color="#7c7c7c"/><stop offset=".6106" stop-color="#606060"/><stop offset=".6154" stop-color="#595959"/><stop offset=".6827" stop-color="#595959"/><stop offset=".7885" stop-color="#383838"/><stop offset=".7933" stop-color="#808080"/><stop offset="1" stop-color="#808080"/></linearGradient>
<linearGradient id="c23" gradientUnits="userSpaceOnUse" x1="79.1" x2="131.0" y1="0" y2="0"><stop offset="0" stop-color="#808080"/><stop offset=".1975" stop-color="#808080"/><stop offset=".2023" stop-color="#c8c8c8"/><stop offset=".3083" stop-color="#a7a7a7"/><stop offset=".3757" stop-color="#a4a4a4"/><stop offset=".3805" stop-color="#a2a2a2"/><stop offset=".3998" stop-color="#808080"/><stop offset=".4383" stop-color="#808080"/><stop offset=".448" stop-color="#7c7c7c"/><stop offset=".4769" stop-color="#686868"/><stop offset=".5588" stop-color="#272727"/><stop offset=".578" stop-color="#1c1c1c"/><stop offset=".6021" stop-color="#292929"/><stop offset=".7225" stop-color="#7f7f7f"/><stop offset=".7274" stop-color="#818181"/><stop offset=".7803" stop-color="#8f8f8f"/><stop offset=".8189" stop-color="#959595"/><stop offset=".9971" stop-color="#9a9a9a"/></linearGradient>
<linearGradient id="d23" gradientUnits="userSpaceOnUse" x1="221.30" x2="273.3" y1="0" y2="0"><stop offset="0" stop-color="#5f5f5f"/><stop offset=".1827" stop-color="#666"/><stop offset=".2212" stop-color="#6c6c6c"/><stop offset=".274" stop-color="#7b7b7b"/><stop offset=".2788" stop-color="#828282"/><stop offset=".3558" stop-color="#b9b9b9"/><stop offset=".4038" stop-color="#dadada"/><stop offset=".4183" stop-color="#e2e2e2"/><stop offset=".4279" stop-color="#e0e0e0"/><stop offset=".4375" stop-color="#dadada"/><stop offset=".524" stop-color="#959595"/><stop offset=".5529" stop-color="#828282"/><stop offset=".5577" stop-color="#808080"/><stop offset=".5962" stop-color="#808080"/><stop offset=".601" stop-color="#7d7d7d"/><stop offset=".6202" stop-color="#5b5b5b"/><stop offset=".6875" stop-color="#585858"/><stop offset=".7981" stop-color="#363636"/><stop offset=".8029" stop-color="#808080"/><stop offset="1" stop-color="#808080"/></linearGradient>
<linearGradient id="c24" gradientUnits="userSpaceOnUse" x1="79.1" x2="131.0" y1="0" y2="0"><stop offset="0" stop-color="#808080"/><stop offset=".1879" stop-color="#808080"/><stop offset=".1927" stop-color="#c9c9c9"/><stop offset=".3035" stop-color="#a8a8a8"/><stop offset=".3709" stop-color="#a3a3a3"/><stop offset=".3757" stop-color="#a0a0a0"/><stop offset=".395" stop-color="#808080"/><stop offset=".4383" stop-color="#808080"/><stop offset=".4432" stop-color="#7d7d7d"/><stop offset=".4721" stop-color="#6a6a6a"/><stop offset=".5588" stop-color="#252525"/><stop offset=".5684" stop-color="#1e1e1e"/><stop offset=".578" stop-color="#1c1c1c"/><stop offset=".6021" stop-color="#2b2b2b"/><stop offset=".7225" stop-color="#808080"/><stop offset=".7755" stop-color="#8e8e8e"/><stop offset=".8141" stop-color="#949494"/><stop offset=".9971" stop-color="#9a9a9a"/></linearGradient>
<linearGradient id="d24" gradientUnits="userSpaceOnUse" x1="221.30" x2="273.3" y1="0" y2="0"><stop offset="0" stop-color="#606060"/><stop offset=".1827" stop-color="#666"/><stop offset=".2212" stop-color="#6c6c6c"/><stop offset=".274" stop-color="#7b7b7b"/><stop offset=".2788" stop-color="#808080"/><stop offset=".3894" stop-color="#cfcfcf"/><stop offset=".4135" stop-color="#dfdfdf"/><stop offset=".4231" stop-color="#e3e3e3"/><stop offset=".4423" stop-color="#d9d9d9"/><stop offset=".524" stop-color="#989898"/><stop offset=".5577" stop-color="#818181"/><stop offset=".6058" stop-color="#7e7e7e"/><stop offset=".625" stop-color="#5c5c5c"/><stop offset=".6971" stop-color="#575757"/><stop offset=".8029" stop-color="#363636"/><stop offset=".8077" stop-color="#808080"/><stop offset="1" stop-color="#808080"/></linearGradient>
<linearGradient id="c25" gradientUnits="userSpaceOnUse" x1="79.1" x2="131.0" y1="0" y2="0"><stop offset="0" stop-color="#808080"/><stop offset=".183" stop-color="#808080"/><stop offset=".1879" stop-color="#c9c9c9"/><stop offset=".2987" stop-color="#a9a9a9"/><stop offset=".3661" stop-color="#a2a2a2"/><stop offset=".3709" stop-color="#9d9d9d"/><stop offset=".3854" stop-color="#858585"/><stop offset=".3902" stop-color="#808080"/><stop offset=".4383" stop-color="#7e7e7e"/><stop offset=".4721" stop-color="#676767"/><stop offset=".5539" stop-color="#252525"/><stop offset=".5732" stop-color="#1b1b1b"/><stop offset=".5925" stop-color="#252525"/><stop offset=".7177" stop-color="#7f7f7f"/><stop offset=".7225" stop-color="#818181"/><stop offset=".7707" stop-color="#8e8e8e"/><stop offset=".8092" stop-color="#949494"/><stop offset=".9971" stop-color="#9a9a9a"/></linearGradient>
<linearGradient id="d25" gradientUnits="userSpaceOnUse" x1="221.30" x2="273.3" y1="0" y2="0"><stop offset="0" stop-color="#606060"/><stop offset=".1875" stop-color="#666"/><stop offset=".226" stop-color="#6c6c6c"/><stop offset=".2788" stop-color="#7b7b7b"/><stop offset=".2837" stop-color="#818181"/><stop offset=".3654" stop-color="#bcbcbc"/><stop offset=".4231" stop-color="#e3e3e3"/><stop offset=".4327" stop-color="#e2e2e2"/><stop offset=".4423" stop-color="#dcdcdc"/><stop offset=".5288" stop-color="#979797"/><stop offset=".5625" stop-color="#808080"/><stop offset=".6106" stop-color="#7f7f7f"/><stop offset=".6298" stop-color="#5f5f5f"/><stop offset=".7019" stop-color="#565656"/><stop offset=".8125" stop-color="#353535"/><stop offset=".8173" stop-color="#808080"/><stop offset="1" stop-color="#808080"/></linearGradient>
<linearGradient id="c26" gradientUnits="userSpaceOnUse" x1="79.1" x2="131.0" y1="0" y2="0"><stop offset="0" stop-color="#808080"/><stop offset=".1734" stop-color="#808080"/><stop offset=".1782" stop-color="#cbcbcb"/><stop offset=".289" stop-color="#aaa"/><stop offset=".3613" stop-color="#a0a0a0"/><stop offset=".3805" stop-color="#838383"/><stop offset=".3854" stop-color="#808080"/><stop offset=".4335" stop-color="#808080"/><stop offset=".4672" stop-color="#686868"/><stop offset=".5539" stop-color="#232323"/><stop offset=".5636" stop-color="#1d1d1d"/><stop offset=".5732" stop-color="#1b1b1b"/><stop offset=".5973" stop-color="#2a2a2a"/><stop offset=".7177" stop-color="#808080"/><stop offset=".7707" stop-color="#8e8e8e"/><stop offset=".8044" stop-color="#949494"/><stop offset=".9971" stop-color="#999"/></linearGradient>
<linearGradient id="d26" gradientUnits="userSpaceOnUse" x1="221.30" x2="273.3" y1="0" y2="0"><stop offset="0" stop-color="#606060"/><stop offset=".1923" stop-color="#676767"/><stop offset=".2308" stop-color="#6d6d6d"/><stop offset=".2837" stop-color="#7c7c7c"/><stop offset=".2885" stop-color="#838383"/><stop offset=".3702" stop-color="#bebebe"/><stop offset=".4135" stop-color="#ddd"/><stop offset=".4279" stop-color="#e4e4e4"/><stop offset=".4375" stop-color="#e1e1e1"/><stop offset=".4471" stop-color="#dbdbdb"/><stop offset=".5288" stop-color="#999"/><stop offset=".5625" stop-color="#818181"/><stop offset=".6154" stop-color="#808080"/><stop offset=".6346" stop-color="#626262"/><stop offset=".6394" stop-color="#5f5f5f"/><stop offset=".7115" stop-color="#545454"/><stop offset=".8221" stop-color="#343434"/><stop offset=".8269" stop-color="#808080"/><stop offset="1" stop-color="#808080"/></linearGradient>
<linearGradient id="c27" gradientUnits="userSpaceOnUse" x1="79.1" x2="131.0" y1="0" y2="0"><stop offset="0" stop-color="#808080"/><stop offset=".1638" stop-color="#808080"/><stop offset=".1686" stop-color="#ccc"/><stop offset=".2216" stop-color="#bebebe"/><stop offset=".2842" stop-color="#ababab"/><stop offset=".3565" stop-color="#9e9e9e"/><stop offset=".3757" stop-color="#828282"/><stop offset=".3805" stop-color="#7f7f7f"/><stop offset=".4335" stop-color="#7e7e7e"/><stop offset=".4624" stop-color="#696969"/><stop offset=".5491" stop-color="#232323"/><stop offset=".5588" stop-color="#1d1d1d"/><stop offset=".5684" stop-color="#1a1a1a"/><stop offset=".5925" stop-color="#282828"/><stop offset=".7129" stop-color="#808080"/><stop offset=".7659" stop-color="#8e8e8e"/><stop offset=".8044" stop-color="#949494"/><stop offset=".9971" stop-color="#999"/></linearGradient>
<linearGradient id="d27" gradientUnits="userSpaceOnUse" x1="221.30" x2="273.3" y1="0" y2="0"><stop offset="0" stop-color="#606060"/><stop offset=".1971" stop-color="#676767"/><stop offset=".2356" stop-color="#6e6e6e"/><stop offset=".2837" stop-color="#7b7b7b"/><stop offset=".2885" stop-color="#818181"/><stop offset=".399" stop-color="#d2d2d2"/><stop offset=".4231" stop-color="#e2e2e2"/><stop offset=".4327" stop-color="#e6e6e6"/><stop offset=".4519" stop-color="#dadada"/><stop offset=".5337" stop-color="#989898"/><stop offset=".5673" stop-color="#808080"/><stop offset=".6202" stop-color="#808080"/><stop offset=".6442" stop-color="#606060"/><stop offset=".7163" stop-color="#545454"/><stop offset=".7788" stop-color="#404040"/><stop offset=".8317" stop-color="#333"/><stop offset=".8365" stop-color="#808080"/><stop offset="1" stop-color="#808080"/></linearGradient>
<linearGradient id="c28" gradientUnits="userSpaceOnUse" x1="79.1" x2="131.0" y1="0" y2="0"><stop offset="0" stop-color="#808080"/><stop offset=".1541" stop-color="#808080"/><stop offset=".159" stop-color="#cdcdcd"/><stop offset=".2119" stop-color="#c0c0c0"/><stop offset=".2746" stop-color="#acacac"/><stop offset=".3468" stop-color="#9e9e9e"/><stop offset=".3516" stop-color="#9b9b9b"/><stop offset=".3709" stop-color="#818181"/><stop offset=".4287" stop-color="#7f7f7f"/><stop offset=".4624" stop-color="#666"/><stop offset=".5443" stop-color="#242424"/><stop offset=".5636" stop-color="#191919"/><stop offset=".5732" stop-color="#1d1d1d"/><stop offset=".5877" stop-color="#262626"/><stop offset=".7081" stop-color="#7e7e7e"/><stop offset=".7129" stop-color="#808080"/><stop offset=".7611" stop-color="#8d8d8d"/><stop offset=".7996" stop-color="#939393"/><stop offset=".9971" stop-color="#999"/></linearGradient>
<linearGradient id="d28" gradientUnits="userSpaceOnUse" x1="221.30" x2="273.3" y1="0" y2="0"><stop offset="0" stop-color="#616161"/><stop offset=".2019" stop-color="#686868"/><stop offset=".2404" stop-color="#6e6e6e"/><stop offset=".2885" stop-color="#7c7c7c"/><stop offset=".2933" stop-color="#828282"/><stop offset=".3798" stop-color="#c2c2c2"/><stop offset=".4183" stop-color="#dedede"/><stop offset=".4327" stop-color="#e6e6e6"/><stop offset=".4423" stop-color="#e4e4e4"/><stop offset=".4519" stop-color="#ddd"/><stop offset=".5433" stop-color="#939393"/><stop offset=".5721" stop-color="#808080"/><stop offset=".625" stop-color="#808080"/><stop offset=".6298" stop-color="#7c7c7c"/><stop offset=".649" stop-color="#626262"/><stop offset=".7212" stop-color="#535353"/><stop offset=".7885" stop-color="#3f3f3f"/><stop offset=".8413" stop-color="#323232"/><stop offset=".8462" stop-color="#808080"/><stop offset="1" stop-color="#808080"/></linearGradient>
<linearGradient id="c29" gradientUnits="userSpaceOnUse" x1="79.1" x2="131.0" y1="0" y2="0"><stop offset="0" stop-color="#808080"/><stop offset=".1445" stop-color="#808080"/><stop offset=".1493" stop-color="#cecece"/><stop offset=".1541" stop-color="#cdcdcd"/><stop offset=".2071" stop-color="#c0c0c0"/><stop offset=".2697" stop-color="#adadad"/><stop offset=".342" stop-color="#9c9c9c"/><stop offset=".3661" stop-color="#7f7f7f"/><stop offset=".4239" stop-color="#7e7e7e"/><stop offset=".4528" stop-color="#6b6b6b"/><stop offset=".5443" stop-color="#212121"/><stop offset=".5539" stop-color="#1b1b1b"/><stop offset=".5636" stop-color="#191919"/><stop offset=".5877" stop-color="#272727"/><stop offset=".7081" stop-color="#808080"/><stop offset=".7563" stop-color="#8d8d8d"/><stop offset=".7948" stop-color="#939393"/><stop offset=".9971" stop-color="#989898"/></linearGradient>
<linearGradient id="d29" gradientUnits="userSpaceOnUse" x1="221.30" x2="273.3" y1="0" y2="0"><stop offset="0" stop-color="#616161"/><stop offset=".2019" stop-color="#686868"/><stop offset=".2404" stop-color="#6e6e6e"/><stop offset=".2885" stop-color="#7b7b7b"/><stop offset=".4038" stop-color="#d2d2d2"/><stop offset=".4279" stop-color="#e3e3e3"/><stop offset=".4375" stop-color="#e7e7e7"/><stop offset=".4471" stop-color="#e3e3e3"/><stop offset=".4567" stop-color="#ddd"/><stop offset=".5433" stop-color="#979797"/><stop offset=".5721" stop-color="#828282"/><stop offset=".6298" stop-color="#808080"/><stop offset=".6346" stop-color="#7d7d7d"/><stop offset=".6538" stop-color="#656565"/><stop offset=".6587" stop-color="#626262"/><stop offset=".7308" stop-color="#525252"/><stop offset=".7933" stop-color="#3e3e3e"/><stop offset=".8462" stop-color="#323232"/><stop offset=".851" stop-color="#313131"/><stop offset=".8558" stop-color="#808080"/><stop offset="1" stop-color="#808080"/></linearGradient>
<linearGradient id="c30" gradientUnits="userSpaceOnUse" x1="79.1" x2="131.0" y1="0" y2="0"><stop offset="0" stop-color="#808080"/><stop offset=".1349" stop-color="#808080"/><stop offset=".1397" stop-color="#cfcfcf"/><stop offset=".1493" stop-color="#cdcdcd"/><stop offset=".1975" stop-color="#c2c2c2"/><stop offset=".2601" stop-color="#aeaeae"/><stop offset=".3372" stop-color="#9a9a9a"/><stop offset=".3613" stop-color="#7f7f7f"/><stop offset=".4239" stop-color="#7c7c7c"/><stop offset=".4528" stop-color="#676767"/><stop offset=".5395" stop-color="#212121"/><stop offset=".5491" stop-color="#1b1b1b"/><stop offset=".5588" stop-color="#171717"/><stop offset=".578" stop-color="#222"/><stop offset=".7033" stop-color="#7f7f7f"/><stop offset=".7081" stop-color="#818181"/><stop offset=".7563" stop-color="#8d8d8d"/><stop offset=".7948" stop-color="#939393"/><stop offset=".9971" stop-color="#989898"/></linearGradient>
<linearGradient id="d30" gradientUnits="userSpaceOnUse" x1="221.30" x2="273.3" y1="0" y2="0"><stop offset="0" stop-color="#616161"/><stop offset=".2067" stop-color="#686868"/><stop offset=".2452" stop-color="#6e6e6e"/><stop offset=".2933" stop-color="#7b7b7b"/><stop offset=".2981" stop-color="#818181"/><stop offset=".4087" stop-color="#d4d4d4"/><stop offset=".4327" stop-color="#e5e5e5"/><stop offset=".4423" stop-color="#e8e8e8"/><stop offset=".4615" stop-color="#dcdcdc"/><stop offset=".5481" stop-color="#979797"/><stop offset=".5769" stop-color="#828282"/><stop offset=".6394" stop-color="#7f7f7f"/><stop offset=".6587" stop-color="#686868"/><stop offset=".6635" stop-color="#646464"/><stop offset=".7404" stop-color="#505050"/><stop offset=".8029" stop-color="#3c3c3c"/><stop offset=".8462" stop-color="#323232"/><stop offset=".8606" stop-color="#303030"/><stop offset=".8654" stop-color="#808080"/><stop offset="1" stop-color="#808080"/></linearGradient>
<linearGradient id="c31" gradientUnits="userSpaceOnUse" x1="79.1" x2="131.0" y1="0" y2="0"><stop offset="0" stop-color="#808080"/><stop offset=".1252" stop-color="#808080"/><stop offset=".1301" stop-color="#d0d0d0"/><stop offset=".1445" stop-color="#cecece"/><stop offset=".1975" stop-color="#c1c1c1"/><stop offset=".3276" stop-color="#9a9a9a"/><stop offset=".3324" stop-color="#979797"/><stop offset=".3516" stop-color="#828282"/><stop offset=".3565" stop-color="#7f7f7f"/><stop offset=".4191" stop-color="#7b7b7b"/><stop offset=".5347" stop-color="#212121"/><stop offset=".5539" stop-color="#161616"/><stop offset=".5636" stop-color="#1a1a1a"/><stop offset=".578" stop-color="#232323"/><stop offset=".7033" stop-color="#808080"/><stop offset=".7514" stop-color="#8d8d8d"/><stop offset=".79" stop-color="#929292"/><stop offset=".9971" stop-color="#989898"/></linearGradient>
<linearGradient id="d31" gradientUnits="userSpaceOnUse" x1="221.30" x2="273.3" y1="0" y2="0"><stop offset="0" stop-color="#616161"/><stop offset=".2115" stop-color="#696969"/><stop offset=".25" stop-color="#6f6f6f"/><stop offset=".2981" stop-color="#7c7c7c"/><stop offset=".3029" stop-color="#838383"/><stop offset=".3894" stop-color="#c4c4c4"/><stop offset=".4279" stop-color="#e0e0e0"/><stop offset=".4423" stop-color="#e8e8e8"/><stop offset=".4519" stop-color="#e6e6e6"/><stop offset=".4615" stop-color="#e0e0e0"/><stop offset=".5529" stop-color="#979797"/><stop offset=".5817" stop-color="#838383"/><stop offset=".6442" stop-color="#808080"/><stop offset=".6683" stop-color="#666"/><stop offset=".7981" stop-color="#3e3e3e"/><stop offset=".851" stop-color="#323232"/><stop offset=".8702" stop-color="#2e2e2e"/><stop offset=".875" stop-color="#808080"/><stop offset="1" stop-color="#808080"/></linearGradient>
<linearGradient id="c32" gradientUnits="userSpaceOnUse" x1="79.1" x2="131.0" y1="0" y2="0"><stop offset="0" stop-color="#808080"/><stop offset=".1108" stop-color="#808080"/><stop offset=".1156" stop-color="#d2d2d2"/><stop offset=".1397" stop-color="#cfcfcf"/><stop offset=".1975" stop-color="#c0c0c0"/><stop offset=".3227" stop-color="#989898"/><stop offset=".3468" stop-color="#808080"/><stop offset=".4143" stop-color="#7a7a7a"/><stop offset=".4383" stop-color="#696969"/><stop offset=".5347" stop-color="#1e1e1e"/><stop offset=".5443" stop-color="#181818"/><stop offset=".5539" stop-color="#161616"/><stop offset=".578" stop-color="#252525"/><stop offset=".6985" stop-color="#808080"/><stop offset=".7466" stop-color="#8c8c8c"/><stop offset=".7852" stop-color="#929292"/><stop offset=".9971" stop-color="#989898"/></linearGradient>
<linearGradient id="d32" gradientUnits="userSpaceOnUse" x1="221.30" x2="273.3" y1="0" y2="0"><stop offset="0" stop-color="#626262"/><stop offset=".2115" stop-color="#696969"/><stop offset=".25" stop-color="#6e6e6e"/><stop offset=".2981" stop-color="#7b7b7b"/><stop offset=".3029" stop-color="#808080"/><stop offset=".4135" stop-color="#d4d4d4"/><stop offset=".4375" stop-color="#e5e5e5"/><stop offset=".4471" stop-color="#eaeaea"/><stop offset=".4567" stop-color="#e6e6e6"/><stop offset=".4663" stop-color="#e0e0e0"/><stop offset=".5817" stop-color="#878787"/><stop offset=".649" stop-color="#808080"/><stop offset=".6779" stop-color="#676767"/><stop offset=".7981" stop-color="#404040"/><stop offset=".8558" stop-color="#313131"/><stop offset=".8846" stop-color="#2d2d2d"/><stop offset=".8894" stop-color="#808080"/><stop offset="1" stop-color="#808080"/></linearGradient>
<linearGradient id="c33" gradientUnits="userSpaceOnUse" x1="79.1" x2="131.0" y1="0" y2="0"><stop offset="0" stop-color="#808080"/><stop offset=".0963" stop-color="#808080"/><stop offset=".1012" stop-color="#d4d4d4"/><stop offset=".1349" stop-color="#cfcfcf"/><stop offset=".1927" stop-color="#c0c0c0"/><stop offset=".2987" stop-color="#9d9d9d"/><stop offset=".3179" stop-color="#959595"/><stop offset=".342" stop-color="#7f7f7f"/><stop offset=".4143" stop-color="#767676"/><stop offset=".5299" stop-color="#1e1e1e"/><stop offset=".5395" stop-color="#171717"/><stop offset=".5491" stop-color="#151515"/><stop offset=".5732" stop-color="#232323"/><stop offset=".6936" stop-color="#7f7f7f"/><stop offset=".6985" stop-color="#808080"/><stop offset=".7466" stop-color="#8d8d8d"/><stop offset=".7803" stop-color="#919191"/><stop offset=".9971" stop-color="#979797"/></linearGradient>
<linearGradient id="d33" gradientUnits="userSpaceOnUse" x1="221.30" x2="273.3" y1="0" y2="0"><stop offset="0" stop-color="#626262"/><stop offset=".2163" stop-color="#696969"/><stop offset=".2548" stop-color="#6f6f6f"/><stop offset=".3029" stop-color="#7c7c7c"/><stop offset=".3077" stop-color="#828282"/><stop offset=".4183" stop-color="#d6d6d6"/><stop offset=".4423" stop-color="#e7e7e7"/><stop offset=".4519" stop-color="#ebebeb"/><stop offset=".4712" stop-color="#e0e0e0"/><stop offset=".5865" stop-color="#888"/><stop offset=".6538" stop-color="#808080"/><stop offset=".6587" stop-color="#7f7f7f"/><stop offset=".6827" stop-color="#696969"/><stop offset=".7019" stop-color="#626262"/><stop offset=".8029" stop-color="#3f3f3f"/><stop offset=".8606" stop-color="#313131"/><stop offset=".8942" stop-color="#2b2b2b"/><stop offset=".899" stop-color="#808080"/><stop offset="1" stop-color="#808080"/></linearGradient>
<linearGradient id="c34" gradientUnits="userSpaceOnUse" x1="79.1" x2="131.0" y1="0" y2="0"><stop offset="0" stop-color="#808080"/><stop offset=".0819" stop-color="#808080"/><stop offset=".0867" stop-color="#d5d5d5"/><stop offset=".1301" stop-color="#cfcfcf"/><stop offset=".1879" stop-color="#c0c0c0"/><stop offset=".2746" stop-color="#a2a2a2"/><stop offset=".3083" stop-color="#949494"/><stop offset=".3372" stop-color="#7f7f7f"/><stop offset=".3661" stop-color="#797979"/><stop offset=".4094" stop-color="#747474"/><stop offset=".5202" stop-color="#212121"/><stop offset=".5347" stop-color="#171717"/><stop offset=".5443" stop-color="#131313"/><stop offset=".5539" stop-color="#171717"/><stop offset=".5684" stop-color="#212121"/><stop offset=".6936" stop-color="#808080"/><stop offset=".7418" stop-color="#8c8c8c"/><stop offset=".7755" stop-color="#919191"/><stop offset=".9971" stop-color="#979797"/></linearGradient>
<linearGradient id="d34" gradientUnits="userSpaceOnUse" x1="221.30" x2="273.3" y1="0" y2="0"><stop offset="0" stop-color="#626262"/><stop offset=".2212" stop-color="#6a6a6a"/><stop offset=".2596" stop-color="#6f6f6f"/><stop offset=".3077" stop-color="#7c7c7c"/><stop offset=".3125" stop-color="#838383"/><stop offset=".3894" stop-color="#bebebe"/><stop offset=".4375" stop-color="#e3e3e3"/><stop offset=".4519" stop-color="#ebebeb"/><stop offset=".4615" stop-color="#e9e9e9"/><stop offset=".4712" stop-color="#e4e4e4"/><stop offset=".5913" stop-color="#8a8a8a"/><stop offset=".6346" stop-color="#868686"/><stop offset=".6635" stop-color="#808080"/><stop offset=".6875" stop-color="#6d6d6d"/><stop offset=".726" stop-color="#5c5c5c"/><stop offset=".8125" stop-color="#3e3e3e"/><stop offset=".8702" stop-color="#2f2f2f"/><stop offset=".9087" stop-color="#2a2a2a"/><stop offset=".9135" stop-color="#808080"/><stop offset="1" stop-color="#808080"/></linearGradient>
<linearGradient id="c35" gradientUnits="userSpaceOnUse" x1="79.1" x2="131.0" y1="0" y2="0"><stop offset="0" stop-color="#808080"/><stop offset=".0674" stop-color="#808080"/><stop offset=".0723" stop-color="#d7d7d7"/><stop offset=".1252" stop-color="#cfcfcf"/><stop offset=".1782" stop-color="#c2c2c2"/><stop offset=".2505" stop-color="#a8a8a8"/><stop offset=".2987" stop-color="#949494"/><stop offset=".3324" stop-color="#7e7e7e"/><stop offset=".3613" stop-color="#777"/><stop offset=".4046" stop-color="#727272"/><stop offset=".5154" stop-color="#202020"/><stop offset=".5299" stop-color="#171717"/><stop offset=".5395" stop-color="#131313"/><stop offset=".5491" stop-color="#161616"/><stop offset=".5636" stop-color="#202020"/><stop offset=".6888" stop-color="#7f7f7f"/><stop offset=".737" stop-color="#8c8c8c"/><stop offset=".7707" stop-color="#909090"/><stop offset=".9971" stop-color="#979797"/></linearGradient>
<linearGradient id="d35" gradientUnits="userSpaceOnUse" x1="221.30" x2="273.3" y1="0" y2="0"><stop offset="0" stop-color="#626262"/><stop offset=".226" stop-color="#6a6a6a"/><stop offset=".2644" stop-color="#707070"/><stop offset=".3077" stop-color="#7b7b7b"/><stop offset=".3125" stop-color="#818181"/><stop offset=".4231" stop-color="#d6d6d6"/><stop offset=".4471" stop-color="#e7e7e7"/><stop offset=".4567" stop-color="#ececec"/><stop offset=".4663" stop-color="#eaeaea"/><stop offset=".4808" stop-color="#e1e1e1"/><stop offset=".5913" stop-color="#8f8f8f"/><stop offset=".6394" stop-color="#888"/><stop offset=".6635" stop-color="#828282"/><stop offset=".6731" stop-color="#7e7e7e"/><stop offset=".6971" stop-color="#6d6d6d"/><stop offset=".75" stop-color="#565656"/><stop offset=".8221" stop-color="#3d3d3d"/><stop offset=".875" stop-color="#2f2f2f"/><stop offset=".9231" stop-color="#282828"/><stop offset=".9279" stop-color="#808080"/><stop offset="1" stop-color="#808080"/></linearGradient>
<linearGradient id="c36" gradientUnits="userSpaceOnUse" x1="79.1" x2="131.0" y1="0" y2="0"><stop offset="0" stop-color="#808080"/><stop offset=".053" stop-color="#808080"/><stop offset=".0578" stop-color="#d8d8d8"/><stop offset=".1156" stop-color="#d0d0d0"/><stop offset=".1686" stop-color="#c2c2c2"/><stop offset=".2264" stop-color="#aeaeae"/><stop offset=".289" stop-color="#929292"/><stop offset=".3324" stop-color="#7b7b7b"/><stop offset=".3613" stop-color="#747474"/><stop offset=".3998" stop-color="#6f6f6f"/><stop offset=".5106" stop-color="#202020"/><stop offset=".5347" stop-color="#121212"/><stop offset=".5395" stop-color="#121212"/><stop offset=".5539" stop-color="#1b1b1b"/><stop offset=".684" stop-color="#7f7f7f"/><stop offset=".6888" stop-color="#808080"/><stop offset=".7322" stop-color="#8b8b8b"/><stop offset=".7707" stop-color="#909090"/><stop offset=".9971" stop-color="#979797"/></linearGradient>
<linearGradient id="d36" gradientUnits="userSpaceOnUse" x1="221.30" x2="273.3" y1="0" y2="0"><stop offset="0" stop-color="#636363"/><stop offset=".2308" stop-color="#6b6b6b"/><stop offset=".2692" stop-color="#707070"/><stop offset=".3125" stop-color="#7c7c7c"/><stop offset=".3173" stop-color="#828282"/><stop offset=".4231" stop-color="#d4d4d4"/><stop offset=".4519" stop-color="#e9e9e9"/><stop offset=".4615" stop-color="#ededed"/><stop offset=".4712" stop-color="#ebebeb"/><stop offset=".4856" stop-color="#e1e1e1"/><stop offset=".5962" stop-color="#919191"/><stop offset=".6394" stop-color="#8b8b8b"/><stop offset=".6635" stop-color="#858585"/><stop offset=".6779" stop-color="#808080"/><stop offset=".7163" stop-color="#696969"/><stop offset=".774" stop-color="#505050"/><stop offset=".8317" stop-color="#3c3c3c"/><stop offset=".8846" stop-color="#2f2f2f"/><stop offset=".9423" stop-color="#272727"/><stop offset=".9471" stop-color="#808080"/><stop offset="1" stop-color="#808080"/></linearGradient>
<linearGradient id="c37" gradientUnits="userSpaceOnUse" x1="79.1" x2="131.0" y1="0" y2="0"><stop offset="0" stop-color="#d9d9d9"/><stop offset=".0674" stop-color="#d6d6d6"/><stop offset=".1397" stop-color="#c7c7c7"/><stop offset=".183" stop-color="#bababa"/><stop offset=".2264" stop-color="#a9a9a9"/><stop offset=".3276" stop-color="#797979"/><stop offset=".3565" stop-color="#717171"/><stop offset=".395" stop-color="#6d6d6d"/><stop offset=".5058" stop-color="#1f1f1f"/><stop offset=".5299" stop-color="#111"/><stop offset=".5395" stop-color="#131313"/><stop offset=".5539" stop-color="#1d1d1d"/><stop offset=".684" stop-color="#808080"/><stop offset=".7274" stop-color="#8b8b8b"/><stop offset=".7659" stop-color="#909090"/><stop offset=".9971" stop-color="#969696"/></linearGradient>
<linearGradient id="d37" gradientUnits="userSpaceOnUse" x1="221.30" x2="273.3" y1="0" y2="0"><stop offset="0" stop-color="#636363"/><stop offset=".2356" stop-color="#6b6b6b"/><stop offset=".274" stop-color="#717171"/><stop offset=".3173" stop-color="#7c7c7c"/><stop offset=".3221" stop-color="#838383"/><stop offset=".4279" stop-color="#d5d5d5"/><stop offset=".4567" stop-color="#eaeaea"/><stop offset=".4663" stop-color="#eee"/><stop offset=".476" stop-color="#ebebeb"/><stop offset=".4904" stop-color="#e2e2e2"/><stop offset=".601" stop-color="#939393"/><stop offset=".6442" stop-color="#8d8d8d"/><stop offset=".6683" stop-color="#878787"/><stop offset=".774" stop-color="#555"/><stop offset=".8173" stop-color="#454545"/><stop offset=".8606" stop-color="#373737"/><stop offset=".9327" stop-color="#282828"/><stop offset="1" stop-color="#262626"/></linearGradient>
<linearGradient id="c38" gradientUnits="userSpaceOnUse" x1="79.1" x2="131.0" y1="0" y2="0"><stop offset="0" stop-color="#808080"/><stop offset=".0048" stop-color="#808080"/><stop offset=".0145" stop-color="#a3a3a3"/><stop offset=".0193" stop-color="#b0b0b0"/><stop offset=".0241" stop-color="#bababa"/><stop offset=".0289" stop-color="#c1c1c1"/><stop offset=".0385" stop-color="#cbcbcb"/><stop offset=".0482" stop-color="#d0d0d0"/><stop offset=".0626" stop-color="#d2d2d2"/><stop offset=".1012" stop-color="#cecece"/><stop offset=".1541" stop-color="#c0c0c0"/><stop offset=".2071" stop-color="#adadad"/><stop offset=".2601" stop-color="#969696"/><stop offset=".3276" stop-color="#757575"/><stop offset=".3565" stop-color="#6e6e6e"/><stop offset=".3902" stop-color="#6a6a6a"/><stop offset=".5058" stop-color="#1a1a1a"/><stop offset=".5202" stop-color="#121212"/><stop offset=".5299" stop-color="#101010"/><stop offset=".5539" stop-color="#1f1f1f"/><stop offset=".6792" stop-color="#808080"/><stop offset=".7225" stop-color="#8b8b8b"/><stop offset=".7611" stop-color="#909090"/><stop offset=".9971" stop-color="#969696"/></linearGradient>
<linearGradient id="d38" gradientUnits="userSpaceOnUse" x1="221.30" x2="273.3" y1="0" y2="0"><stop offset="0" stop-color="#636363"/><stop offset=".2356" stop-color="#6b6b6b"/><stop offset=".274" stop-color="#707070"/><stop offset=".3173" stop-color="#7b7b7b"/><stop offset=".4423" stop-color="#dedede"/><stop offset=".4615" stop-color="#ebebeb"/><stop offset=".4712" stop-color="#efefef"/><stop offset=".4808" stop-color="#ececec"/><stop offset=".4952" stop-color="#e3e3e3"/><stop offset=".6058" stop-color="#969696"/><stop offset=".6442" stop-color="#919191"/><stop offset=".6683" stop-color="#8b8b8b"/><stop offset=".7452" stop-color="#666"/><stop offset=".7933" stop-color="#515151"/><stop offset=".8462" stop-color="#3f3f3f"/><stop offset=".8942" stop-color="#323232"/><stop offset=".9375" stop-color="#2d2d2d"/><stop offset=".9519" stop-color="#303030"/><stop offset=".9615" stop-color="#363636"/><stop offset=".9712" stop-color="#404040"/><stop offset=".976" stop-color="#494949"/><stop offset=".9808" stop-color="#545454"/><stop offset=".9856" stop-color="#626262"/><stop offset=".9904" stop-color="#767676"/><stop offset=".9952" stop-color="#808080"/><stop offset="1" stop-color="#808080"/></linearGradient>
<linearGradient id="c39" gradientUnits="userSpaceOnUse" x1="79.1" x2="131.0" y1="0" y2="0"><stop offset="0" stop-color="#808080"/><stop offset=".0048" stop-color="#808080"/><stop offset=".0145" stop-color="#a3a3a3"/><stop offset=".0193" stop-color="#b0b0b0"/><stop offset=".0241" stop-color="#b9b9b9"/><stop offset=".0289" stop-color="#c0c0c0"/><stop offset=".0385" stop-color="#c9c9c9"/><stop offset=".0482" stop-color="#cecece"/><stop offset=".0626" stop-color="#d0d0d0"/><stop offset=".1012" stop-color="#cbcbcb"/><stop offset=".1541" stop-color="#bcbcbc"/><stop offset=".2071" stop-color="#a9a9a9"/><stop offset=".2649" stop-color="#909090"/><stop offset=".3276" stop-color="#717171"/><stop offset=".3516" stop-color="#6a6a6a"/><stop offset=".3854" stop-color="#666"/><stop offset=".501" stop-color="#191919"/><stop offset=".5154" stop-color="#111"/><stop offset=".525" stop-color="#0f0f0f"/><stop offset=".5539" stop-color="#222"/><stop offset=".6744" stop-color="#7f7f7f"/><stop offset=".7177" stop-color="#8b8b8b"/><stop offset=".7563" stop-color="#909090"/><stop offset=".9971" stop-color="#969696"/></linearGradient>
<linearGradient id="d39" gradientUnits="userSpaceOnUse" x1="221.30" x2="273.3" y1="0" y2="0"><stop offset="0" stop-color="#636363"/><stop offset=".2404" stop-color="#6b6b6b"/><stop offset=".2788" stop-color="#707070"/><stop offset=".3221" stop-color="#7c7c7c"/><stop offset=".4423" stop-color="#dbdbdb"/><stop offset=".4663" stop-color="#ececec"/><stop offset=".476" stop-color="#f0f0f0"/><stop offset=".4856" stop-color="#ededed"/><stop offset=".5" stop-color="#e5e5e5"/><stop offset=".6106" stop-color="#9a9a9a"/><stop offset=".649" stop-color="#949494"/><stop offset=".6731" stop-color="#8d8d8d"/><stop offset=".7308" stop-color="#707070"/><stop offset=".7885" stop-color="#575757"/><stop offset=".8462" stop-color="#424242"/><stop offset=".899" stop-color="#343434"/><stop offset=".9375" stop-color="#2f2f2f"/><stop offset=".9519" stop-color="#323232"/><stop offset=".9615" stop-color="#373737"/><stop offset=".9712" stop-color="#414141"/><stop offset=".976" stop-color="#494949"/><stop offset=".9808" stop-color="#545454"/><stop offset=".9856" stop-color="#636363"/><stop offset=".9904" stop-color="#767676"/><stop offset=".9952" stop-color="#808080"/><stop offset="1" stop-color="#808080"/></linearGradient>
<linearGradient id="c40" gradientUnits="userSpaceOnUse" x1="79.1" x2="131.0" y1="0" y2="0"><stop offset="0" stop-color="#808080"/><stop offset=".0048" stop-color="#808080"/><stop offset=".0145" stop-color="#a2a2a2"/><stop offset=".0193" stop-color="#afafaf"/><stop offset=".0241" stop-color="#b9b9b9"/><stop offset=".0337" stop-color="#c5c5c5"/><stop offset=".0434" stop-color="#cbcbcb"/><stop offset=".0578" stop-color="#cfcfcf"/><stop offset=".0963" stop-color="#cbcbcb"/><stop offset=".1493" stop-color="#bcbcbc"/><stop offset=".2071" stop-color="#a7a7a7"/><stop offset=".2746" stop-color="#888"/><stop offset=".3227" stop-color="#6e6e6e"/><stop offset=".3468" stop-color="#676767"/><stop offset=".3805" stop-color="#626262"/><stop offset=".4865" stop-color="#1d1d1d"/><stop offset=".5058" stop-color="#121212"/><stop offset=".5154" stop-color="#0e0e0e"/><stop offset=".5202" stop-color="#0f0f0f"/><stop offset=".5347" stop-color="#171717"/><stop offset=".6696" stop-color="#7f7f7f"/><stop offset=".6792" stop-color="#828282"/><stop offset=".7177" stop-color="#8b8b8b"/><stop offset=".7563" stop-color="#909090"/><stop offset=".9971" stop-color="#969696"/></linearGradient>
<linearGradient id="d40" gradientUnits="userSpaceOnUse" x1="221.30" x2="273.3" y1="0" y2="0"><stop offset="0" stop-color="#636363"/><stop offset=".2452" stop-color="#6b6b6b"/><stop offset=".2788" stop-color="#707070"/><stop offset=".3221" stop-color="#7b7b7b"/><stop offset=".3269" stop-color="#7c7c7c"/><stop offset=".3317" stop-color="#818181"/><stop offset=".4567" stop-color="#e2e2e2"/><stop offset=".4808" stop-color="#f1f1f1"/><stop offset=".4904" stop-color="#efefef"/><stop offset=".5048" stop-color="#e7e7e7"/><stop offset=".6154" stop-color="#9f9f9f"/><stop offset=".6731" stop-color="#939393"/><stop offset=".6875" stop-color="#8c8c8c"/><stop offset=".726" stop-color="#767676"/><stop offset=".7885" stop-color="#595959"/><stop offset=".8462" stop-color="#444"/><stop offset=".899" stop-color="#353535"/><stop offset=".9375" stop-color="#303030"/><stop offset=".9519" stop-color="#333"/><stop offset=".9615" stop-color="#383838"/><stop offset=".9712" stop-color="#424242"/><stop offset=".976" stop-color="#4a4a4a"/><stop offset=".9808" stop-color="#545454"/><stop offset=".9856" stop-color="#636363"/><stop offset=".9904" stop-color="#767676"/><stop offset=".9952" stop-color="#808080"/><stop offset="1" stop-color="#808080"/></linearGradient>
<linearGradient id="c41" gradientUnits="userSpaceOnUse" x1="79.1" x2="131.0" y1="0" y2="0"><stop offset="0" stop-color="#808080"/><stop offset=".0048" stop-color="#808080"/><stop offset=".0145" stop-color="#a2a2a2"/><stop offset=".0193" stop-color="#afafaf"/><stop offset=".0241" stop-color="#b8b8b8"/><stop offset=".0337" stop-color="#c4c4c4"/><stop offset=".0434" stop-color="#cacaca"/><stop offset=".0578" stop-color="#cecece"/><stop offset=".0963" stop-color="#c9c9c9"/><stop offset=".1493" stop-color="#bababa"/><stop offset=".2119" stop-color="#a2a2a2"/><stop offset=".2794" stop-color="#828282"/><stop offset=".2987" stop-color="#747474"/><stop offset=".3179" stop-color="#6a6a6a"/><stop offset=".342" stop-color="#626262"/><stop offset=".3757" stop-color="#5d5d5d"/><stop offset=".4817" stop-color="#1b1b1b"/><stop offset=".501" stop-color="#101010"/><stop offset=".5106" stop-color="#0d0d0d"/><stop offset=".5202" stop-color="#111"/><stop offset=".5395" stop-color="#1e1e1e"/><stop offset=".6647" stop-color="#7f7f7f"/><stop offset=".6744" stop-color="#828282"/><stop offset=".7129" stop-color="#8b8b8b"/><stop offset=".7514" stop-color="#909090"/><stop offset=".9971" stop-color="#969696"/></linearGradient>
<linearGradient id="d41" gradientUnits="userSpaceOnUse" x1="221.30" x2="273.3" y1="0" y2="0"><stop offset="0" stop-color="#636363"/><stop offset=".25" stop-color="#6c6c6c"/><stop offset=".2837" stop-color="#707070"/><stop offset=".3269" stop-color="#7b7b7b"/><stop offset=".3317" stop-color="#7c7c7c"/><stop offset=".3365" stop-color="#828282"/><stop offset=".4567" stop-color="#dedede"/><stop offset=".4856" stop-color="#f1f1f1"/><stop offset=".4952" stop-color="#f0f0f0"/><stop offset=".5096" stop-color="#e9e9e9"/><stop offset=".625" stop-color="#a2a2a2"/><stop offset=".6538" stop-color="#9d9d9d"/><stop offset=".6779" stop-color="#979797"/><stop offset=".6971" stop-color="#8d8d8d"/><stop offset=".7163" stop-color="#7f7f7f"/><stop offset=".7885" stop-color="#5c5c5c"/><stop offset=".851" stop-color="#444"/><stop offset=".9038" stop-color="#353535"/><stop offset=".9375" stop-color="#313131"/><stop offset=".9519" stop-color="#343434"/><stop offset=".9615" stop-color="#383838"/><stop offset=".9712" stop-color="#424242"/><stop offset=".976" stop-color="#4a4a4a"/><stop offset=".9808" stop-color="#555"/><stop offset=".9856" stop-color="#636363"/><stop offset=".9904" stop-color="#767676"/><stop offset=".9952" stop-color="#808080"/><stop offset="1" stop-color="#808080"/></linearGradient>
<linearGradient id="c42" gradientUnits="userSpaceOnUse" x1="79.1" x2="131.0" y1="0" y2="0"><stop offset="0" stop-color="#808080"/><stop offset=".0048" stop-color="#808080"/><stop offset=".0145" stop-color="#a2a2a2"/><stop offset=".0193" stop-color="#aeaeae"/><stop offset=".0241" stop-color="#b7b7b7"/><stop offset=".0337" stop-color="#c3c3c3"/><stop offset=".0434" stop-color="#c9c9c9"/><stop offset=".0578" stop-color="#ccc"/><stop offset=".0963" stop-color="#c8c8c8"/><stop offset=".1541" stop-color="#b6b6b6"/><stop offset=".2168" stop-color="#9d9d9d"/><stop offset=".2746" stop-color="#808080"/><stop offset=".2938" stop-color="#707070"/><stop offset=".3131" stop-color="#656565"/><stop offset=".3372" stop-color="#5d5d5d"/><stop offset=".3709" stop-color="#575757"/><stop offset=".4769" stop-color="#191919"/><stop offset=".4961" stop-color="#0f0f0f"/><stop offset=".5058" stop-color="#0d0d0d"/><stop offset=".5154" stop-color="#111"/><stop offset=".5347" stop-color="#1f1f1f"/><stop offset=".6599" stop-color="#7e7e7e"/><stop offset=".6696" stop-color="#818181"/><stop offset=".7081" stop-color="#8b8b8b"/><stop offset=".7466" stop-color="#8f8f8f"/><stop offset=".9971" stop-color="#969696"/></linearGradient>
<linearGradient id="d42" gradientUnits="userSpaceOnUse" x1="221.30" x2="273.3" y1="0" y2="0"><stop offset="0" stop-color="#646464"/><stop offset=".25" stop-color="#6b6b6b"/><stop offset=".2885" stop-color="#707070"/><stop offset=".3269" stop-color="#7a7a7a"/><stop offset=".3365" stop-color="#7c7c7c"/><stop offset=".3413" stop-color="#828282"/><stop offset=".4712" stop-color="#e5e5e5"/><stop offset=".4856" stop-color="#efefef"/><stop offset=".4952" stop-color="#f2f2f2"/><stop offset=".5288" stop-color="#e3e3e3"/><stop offset=".6298" stop-color="#a7a7a7"/><stop offset=".6587" stop-color="#a2a2a2"/><stop offset=".6827" stop-color="#9b9b9b"/><stop offset=".7019" stop-color="#919191"/><stop offset=".726" stop-color="#7e7e7e"/><stop offset=".7837" stop-color="#616161"/><stop offset=".8462" stop-color="#484848"/><stop offset=".9038" stop-color="#373737"/><stop offset=".9375" stop-color="#333"/><stop offset=".9519" stop-color="#353535"/><stop offset=".9615" stop-color="#3a3a3a"/><stop offset=".9712" stop-color="#434343"/><stop offset=".976" stop-color="#4b4b4b"/><stop offset=".9808" stop-color="#565656"/><stop offset=".9856" stop-color="#646464"/><stop offset=".9904" stop-color="#767676"/><stop offset=".9952" stop-color="#808080"/><stop offset="1" stop-color="#808080"/></linearGradient>
<linearGradient id="c43" gradientUnits="userSpaceOnUse" x1="79.1" x2="131.0" y1="0" y2="0"><stop offset="0" stop-color="#808080"/><stop offset=".0048" stop-color="#808080"/><stop offset=".0145" stop-color="#a1a1a1"/><stop offset=".0193" stop-color="#adadad"/><stop offset=".0241" stop-color="#b6b6b6"/><stop offset=".0337" stop-color="#c2c2c2"/><stop offset=".0434" stop-color="#c7c7c7"/><stop offset=".0578" stop-color="#cacaca"/><stop offset=".0915" stop-color="#c6c6c6"/><stop offset=".1445" stop-color="#b6b6b6"/><stop offset=".2071" stop-color="#9d9d9d"/><stop offset=".2649" stop-color="#808080"/><stop offset=".2842" stop-color="#6e6e6e"/><stop offset=".3035" stop-color="#626262"/><stop offset=".3276" stop-color="#5a5a5a"/><stop offset=".3613" stop-color="#545454"/><stop offset=".4624" stop-color="#1b1b1b"/><stop offset=".4961" stop-color="#0d0d0d"/><stop offset=".5058" stop-color="#0f0f0f"/><stop offset=".5154" stop-color="#151515"/><stop offset=".6551" stop-color="#7d7d7d"/><stop offset=".6696" stop-color="#838383"/><stop offset=".7081" stop-color="#8c8c8c"/><stop offset=".7418" stop-color="#8f8f8f"/><stop offset=".9971" stop-color="#969696"/></linearGradient>
<linearGradient id="d43" gradientUnits="userSpaceOnUse" x1="221.30" x2="273.3" y1="0" y2="0"><stop offset="0" stop-color="#646464"/><stop offset=".2548" stop-color="#6c6c6c"/><stop offset=".2933" stop-color="#707070"/><stop offset=".3317" stop-color="#7a7a7a"/><stop offset=".3413" stop-color="#7d7d7d"/><stop offset=".3462" stop-color="#838383"/><stop offset=".4567" stop-color="#d7d7d7"/><stop offset=".4856" stop-color="#ebebeb"/><stop offset=".5" stop-color="#f3f3f3"/><stop offset=".5096" stop-color="#f1f1f1"/><stop offset=".5288" stop-color="#e8e8e8"/><stop offset=".6346" stop-color="#adadad"/><stop offset=".6731" stop-color="#a5a5a5"/><stop offset=".6971" stop-color="#9c9c9c"/><stop offset=".7163" stop-color="#909090"/><stop offset=".7356" stop-color="#7e7e7e"/><stop offset=".7885" stop-color="#636363"/><stop offset=".851" stop-color="#4a4a4a"/><stop offset=".9038" stop-color="#3a3a3a"/><stop offset=".9375" stop-color="#353535"/><stop offset=".9519" stop-color="#373737"/><stop offset=".9615" stop-color="#3b3b3b"/><stop offset=".9712" stop-color="#454545"/><stop offset=".976" stop-color="#4c4c4c"/><stop offset=".9808" stop-color="#575757"/><stop offset=".9856" stop-color="#646464"/><stop offset=".9904" stop-color="#777"/><stop offset=".9952" stop-color="#808080"/><stop offset="1" stop-color="#808080"/></linearGradient>
<linearGradient id="c44" gradientUnits="userSpaceOnUse" x1="79.1" x2="131.0" y1="0" y2="0"><stop offset="0" stop-color="#808080"/><stop offset=".0048" stop-color="#808080"/><stop offset=".0145" stop-color="#9f9f9f"/><stop offset=".0193" stop-color="#ababab"/><stop offset=".0241" stop-color="#b4b4b4"/><stop offset=".0337" stop-color="#bfbfbf"/><stop offset=".0434" stop-color="#c4c4c4"/><stop offset=".0578" stop-color="#c7c7c7"/><stop offset=".0915" stop-color="#c3c3c3"/><stop offset=".1397" stop-color="#b4b4b4"/><stop offset=".1975" stop-color="#9c9c9c"/><stop offset=".2505" stop-color="#818181"/><stop offset=".2746" stop-color="#6a6a6a"/><stop offset=".2938" stop-color="#5e5e5e"/><stop offset=".3179" stop-color="#555"/><stop offset=".3565" stop-color="#4e4e4e"/><stop offset=".4576" stop-color="#191919"/><stop offset=".4817" stop-color="#0e0e0e"/><stop offset=".4913" stop-color="#0c0c0c"/><stop offset=".501" stop-color="#0f0f0f"/><stop offset=".5202" stop-color="#1c1c1c"/><stop offset=".6503" stop-color="#7d7d7d"/><stop offset=".6696" stop-color="#848484"/><stop offset=".7081" stop-color="#8c8c8c"/><stop offset=".7418" stop-color="#8f8f8f"/><stop offset=".9971" stop-color="#969696"/></linearGradient>
<linearGradient id="d44" gradientUnits="userSpaceOnUse" x1="221.30" x2="273.3" y1="0" y2="0"><stop offset="0" stop-color="#646464"/><stop offset=".2596" stop-color="#6c6c6c"/><stop offset=".2933" stop-color="#707070"/><stop offset=".3317" stop-color="#797979"/><stop offset=".3413" stop-color="#7c7c7c"/><stop offset=".4856" stop-color="#e8e8e8"/><stop offset=".5" stop-color="#f1f1f1"/><stop offset=".5096" stop-color="#f3f3f3"/><stop offset=".5433" stop-color="#e5e5e5"/><stop offset=".6442" stop-color="#b0b0b0"/><stop offset=".6779" stop-color="#ababab"/><stop offset=".7067" stop-color="#a0a0a0"/><stop offset=".726" stop-color="#939393"/><stop offset=".7452" stop-color="#7f7f7f"/><stop offset=".8029" stop-color="#626262"/><stop offset=".8606" stop-color="#4b4b4b"/><stop offset=".9087" stop-color="#3c3c3c"/><stop offset=".9423" stop-color="#383838"/><stop offset=".9615" stop-color="#3e3e3e"/><stop offset=".9712" stop-color="#474747"/><stop offset=".976" stop-color="#4e4e4e"/><stop offset=".9808" stop-color="#585858"/><stop offset=".9856" stop-color="#656565"/><stop offset=".9904" stop-color="#777"/><stop offset=".9952" stop-color="#808080"/><stop offset="1" stop-color="#808080"/></linearGradient>
<linearGradient id="c45" gradientUnits="userSpaceOnUse" x1="79.1" x2="131.0" y1="0" y2="0"><stop offset="0" stop-color="#808080"/><stop offset=".0048" stop-color="#808080"/><stop offset=".0145" stop-color="#9e9e9e"/><stop offset=".0193" stop-color="#a9a9a9"/><stop offset=".0241" stop-color="#b1b1b1"/><stop offset=".0337" stop-color="#bcbcbc"/><stop offset=".0434" stop-color="#c1c1c1"/><stop offset=".053" stop-color="#c3c3c3"/><stop offset=".0867" stop-color="#bfbfbf"/><stop offset=".1493" stop-color="#ababab"/><stop offset=".2168" stop-color="#8c8c8c"/><stop offset=".2408" stop-color="#7f7f7f"/><stop offset=".2505" stop-color="#737373"/><stop offset=".2649" stop-color="#656565"/><stop offset=".289" stop-color="#575757"/><stop offset=".3131" stop-color="#4f4f4f"/><stop offset=".3516" stop-color="#484848"/><stop offset=".4576" stop-color="#141414"/><stop offset=".4769" stop-color="#0c0c0c"/><stop offset=".4865" stop-color="#0b0b0b"/><stop offset=".5154" stop-color="#1d1d1d"/><stop offset=".6503" stop-color="#7f7f7f"/><stop offset=".6647" stop-color="#838383"/><stop offset=".7033" stop-color="#8c8c8c"/><stop offset=".737" stop-color="#8f8f8f"/><stop offset=".9971" stop-color="#959595"/></linearGradient>
<linearGradient id="d45" gradientUnits="userSpaceOnUse" x1="221.30" x2="273.3" y1="0" y2="0"><stop offset="0" stop-color="#646464"/><stop offset=".2596" stop-color="#6c6c6c"/><stop offset=".2981" stop-color="#707070"/><stop offset=".3317" stop-color="#787878"/><stop offset=".3462" stop-color="#7c7c7c"/><stop offset=".4808" stop-color="#e0e0e0"/><stop offset=".5048" stop-color="#f0f0f0"/><stop offset=".5144" stop-color="#f4f4f4"/><stop offset=".524" stop-color="#f2f2f2"/><stop offset=".5481" stop-color="#e8e8e8"/><stop offset=".649" stop-color="#b6b6b6"/><stop offset=".6875" stop-color="#afafaf"/><stop offset=".7115" stop-color="#a7a7a7"/><stop offset=".7356" stop-color="#989898"/><stop offset=".7596" stop-color="#7f7f7f"/><stop offset=".7788" stop-color="#747474"/><stop offset=".8462" stop-color="#555"/><stop offset=".9087" stop-color="#404040"/><stop offset=".9423" stop-color="#3c3c3c"/><stop offset=".9615" stop-color="#414141"/><stop offset=".9712" stop-color="#4a4a4a"/><stop offset=".976" stop-color="#515151"/><stop offset=".9808" stop-color="#5a5a5a"/><stop offset=".9856" stop-color="#666"/><stop offset=".9904" stop-color="#777"/><stop offset=".9952" stop-color="#808080"/><stop offset="1" stop-color="#808080"/></linearGradient>
<linearGradient id="c46" gradientUnits="userSpaceOnUse" x1="79.1" x2="131.0" y1="0" y2="0"><stop offset="0" stop-color="#808080"/><stop offset=".0048" stop-color="#808080"/><stop offset=".0145" stop-color="#9c9c9c"/><stop offset=".0193" stop-color="#a7a7a7"/><stop offset=".0241" stop-color="#afafaf"/><stop offset=".0337" stop-color="#b8b8b8"/><stop offset=".053" stop-color="#bfbfbf"/><stop offset=".0867" stop-color="#bbb"/><stop offset=".1493" stop-color="#a5a5a5"/><stop offset=".2216" stop-color="#838383"/><stop offset=".2264" stop-color="#808080"/><stop offset=".2505" stop-color="#656565"/><stop offset=".2746" stop-color="#565656"/><stop offset=".3035" stop-color="#4c4c4c"/><stop offset=".342" stop-color="#464646"/><stop offset=".4383" stop-color="#191919"/><stop offset=".4769" stop-color="#0a0a0a"/><stop offset=".4865" stop-color="#0e0e0e"/><stop offset=".5058" stop-color="#1a1a1a"/><stop offset=".6455" stop-color="#7f7f7f"/><stop offset=".6647" stop-color="#848484"/><stop offset=".6985" stop-color="#8c8c8c"/><stop offset=".7322" stop-color="#8f8f8f"/><stop offset=".9971" stop-color="#959595"/></linearGradient>
<linearGradient id="d46" gradientUnits="userSpaceOnUse" x1="221.30" x2="273.3" y1="0" y2="0"><stop offset="0" stop-color="#646464"/><stop offset=".2644" stop-color="#6c6c6c"/><stop offset=".2981" stop-color="#6f6f6f"/><stop offset=".3365" stop-color="#787878"/><stop offset=".351" stop-color="#7c7c7c"/><stop offset=".3558" stop-color="#828282"/><stop offset=".4952" stop-color="#e6e6e6"/><stop offset=".5144" stop-color="#f2f2f2"/><stop offset=".524" stop-color="#f4f4f4"/><stop offset=".5577" stop-color="#e8e8e8"/><stop offset=".6587" stop-color="#b9b9b9"/><stop offset=".6923" stop-color="#b4b4b4"/><stop offset=".7212" stop-color="#ababab"/><stop offset=".7452" stop-color="#9c9c9c"/><stop offset=".7596" stop-color="#8e8e8e"/><stop offset=".7692" stop-color="#828282"/><stop offset=".7788" stop-color="#7b7b7b"/><stop offset=".851" stop-color="#595959"/><stop offset=".9135" stop-color="#444"/><stop offset=".9471" stop-color="#404040"/><stop offset=".9567" stop-color="#434343"/><stop offset=".9663" stop-color="#484848"/><stop offset=".976" stop-color="#535353"/><stop offset=".9808" stop-color="#5c5c5c"/><stop offset=".9856" stop-color="#686868"/><stop offset=".9904" stop-color="#787878"/><stop offset=".9952" stop-color="#808080"/><stop offset="1" stop-color="#808080"/></linearGradient>
<linearGradient id="c47" gradientUnits="userSpaceOnUse" x1="79.1" x2="131.0" y1="0" y2="0"><stop offset="0" stop-color="#808080"/><stop offset=".0048" stop-color="#808080"/><stop offset=".0145" stop-color="#9b9b9b"/><stop offset=".0193" stop-color="#a5a5a5"/><stop offset=".0241" stop-color="#acacac"/><stop offset=".0337" stop-color="#b5b5b5"/><stop offset=".053" stop-color="#bbb"/><stop offset=".0867" stop-color="#b6b6b6"/><stop offset=".1445" stop-color="#a2a2a2"/><stop offset=".2119" stop-color="#828282"/><stop offset=".2168" stop-color="#7f7f7f"/><stop offset=".2264" stop-color="#727272"/><stop offset=".2408" stop-color="#636363"/><stop offset=".2553" stop-color="#585858"/><stop offset=".2697" stop-color="#515151"/><stop offset=".2938" stop-color="#494949"/><stop offset=".3372" stop-color="#424242"/><stop offset=".4432" stop-color="#131313"/><stop offset=".4624" stop-color="#0b0b0b"/><stop offset=".4721" stop-color="#0a0a0a"/><stop offset=".501" stop-color="#1b1b1b"/><stop offset=".6407" stop-color="#7e7e7e"/><stop offset=".6599" stop-color="#848484"/><stop offset=".6936" stop-color="#8b8b8b"/><stop offset=".7274" stop-color="#8f8f8f"/><stop offset=".9971" stop-color="#959595"/></linearGradient>
<linearGradient id="d47" gradientUnits="userSpaceOnUse" x1="221.30" x2="273.3" y1="0" y2="0"><stop offset="0" stop-color="#646464"/><stop offset=".2692" stop-color="#6c6c6c"/><stop offset=".3029" stop-color="#707070"/><stop offset=".3365" stop-color="#777"/><stop offset=".3558" stop-color="#7d7d7d"/><stop offset=".3606" stop-color="#828282"/><stop offset=".4904" stop-color="#dfdfdf"/><stop offset=".5144" stop-color="#efefef"/><stop offset=".5288" stop-color="#f5f5f5"/><stop offset=".5625" stop-color="#eaeaea"/><stop offset=".6635" stop-color="#bcbcbc"/><stop offset=".7019" stop-color="#b7b7b7"/><stop offset=".7308" stop-color="#adadad"/><stop offset=".7452" stop-color="#a6a6a6"/><stop offset=".7596" stop-color="#9b9b9b"/><stop offset=".7837" stop-color="#7f7f7f"/><stop offset=".851" stop-color="#5e5e5e"/><stop offset=".9135" stop-color="#494949"/><stop offset=".9471" stop-color="#444"/><stop offset=".9567" stop-color="#464646"/><stop offset=".9663" stop-color="#4b4b4b"/><stop offset=".976" stop-color="#565656"/><stop offset=".9808" stop-color="#5e5e5e"/><stop offset=".9856" stop-color="#696969"/><stop offset=".9904" stop-color="#787878"/><stop offset=".9952" stop-color="#808080"/><stop offset="1" stop-color="#808080"/></linearGradient>
<linearGradient id="c48" gradientUnits="userSpaceOnUse" x1="79.1" x2="131.0" y1="0" y2="0"><stop offset="0" stop-color="#808080"/><stop offset=".0048" stop-color="#808080"/><stop offset=".0145" stop-color="#999"/><stop offset=".0193" stop-color="#a2a2a2"/><stop offset=".0241" stop-color="#a9a9a9"/><stop offset=".0337" stop-color="#b2b2b2"/><stop offset=".053" stop-color="#b7b7b7"/><stop offset=".0819" stop-color="#b3b3b3"/><stop offset=".1397" stop-color="#9f9f9f"/><stop offset=".2023" stop-color="#818181"/><stop offset=".2264" stop-color="#646464"/><stop offset=".2408" stop-color="#595959"/><stop offset=".2553" stop-color="#505050"/><stop offset=".2842" stop-color="#474747"/><stop offset=".3276" stop-color="#404040"/><stop offset=".4239" stop-color="#171717"/><stop offset=".4624" stop-color="#090909"/><stop offset=".4721" stop-color="#0c0c0c"/><stop offset=".4913" stop-color="#181818"/><stop offset=".6358" stop-color="#7d7d7d"/><stop offset=".6599" stop-color="#858585"/><stop offset=".6936" stop-color="#8c8c8c"/><stop offset=".7274" stop-color="#8f8f8f"/><stop offset=".9971" stop-color="#959595"/></linearGradient>
<linearGradient id="d48" gradientUnits="userSpaceOnUse" x1="221.30" x2="273.3" y1="0" y2="0"><stop offset="0" stop-color="#646464"/><stop offset=".274" stop-color="#6d6d6d"/><stop offset=".3077" stop-color="#707070"/><stop offset=".3413" stop-color="#787878"/><stop offset=".3558" stop-color="#7c7c7c"/><stop offset=".5" stop-color="#e2e2e2"/><stop offset=".524" stop-color="#f1f1f1"/><stop offset=".5337" stop-color="#f5f5f5"/><stop offset=".5433" stop-color="#f4f4f4"/><stop offset=".5625" stop-color="#ededed"/><stop offset=".6683" stop-color="#c0c0c0"/><stop offset=".7115" stop-color="#b9b9b9"/><stop offset=".7404" stop-color="#b0b0b0"/><stop offset=".7548" stop-color="#a8a8a8"/><stop offset=".7692" stop-color="#9d9d9d"/><stop offset=".7837" stop-color="#8e8e8e"/><stop offset=".7933" stop-color="#808080"/><stop offset=".7981" stop-color="#7d7d7d"/><stop offset=".8606" stop-color="#5f5f5f"/><stop offset=".9135" stop-color="#4d4d4d"/><stop offset=".9471" stop-color="#484848"/><stop offset=".9663" stop-color="#4f4f4f"/><stop offset=".976" stop-color="#585858"/><stop offset=".9808" stop-color="#606060"/><stop offset=".9856" stop-color="#6b6b6b"/><stop offset=".9904" stop-color="#797979"/><stop offset=".9952" stop-color="#808080"/><stop offset="1" stop-color="#808080"/></linearGradient>
<linearGradient id="c49" gradientUnits="userSpaceOnUse" x1="79.1" x2="131.0" y1="0" y2="0"><stop offset="0" stop-color="#808080"/><stop offset=".0048" stop-color="#808080"/><stop offset=".0145" stop-color="#979797"/><stop offset=".0193" stop-color="#a0a0a0"/><stop offset=".0241" stop-color="#a6a6a6"/><stop offset=".0337" stop-color="#aeaeae"/><stop offset=".053" stop-color="#b2b2b2"/><stop offset=".0819" stop-color="#aeaeae"/><stop offset=".1301" stop-color="#9d9d9d"/><stop offset=".1879" stop-color="#828282"/><stop offset=".1927" stop-color="#7e7e7e"/><stop offset=".2023" stop-color="#707070"/><stop offset=".2168" stop-color="#606060"/><stop offset=".2312" stop-color="#555"/><stop offset=".2457" stop-color="#4d4d4d"/><stop offset=".2746" stop-color="#444"/><stop offset=".3227" stop-color="#3d3d3d"/><stop offset=".4287" stop-color="#111"/><stop offset=".448" stop-color="#0a0a0a"/><stop offset=".4576" stop-color="#090909"/><stop offset=".4672" stop-color="#0d0d0d"/><stop offset=".4913" stop-color="#1c1c1c"/><stop offset=".631" stop-color="#7d7d7d"/><stop offset=".6551" stop-color="#858585"/><stop offset=".6888" stop-color="#8c8c8c"/><stop offset=".7225" stop-color="#8f8f8f"/><stop offset=".9971" stop-color="#959595"/></linearGradient>
<linearGradient id="d49" gradientUnits="userSpaceOnUse" x1="221.30" x2="273.3" y1="0" y2="0"><stop offset="0" stop-color="#646464"/><stop offset=".2788" stop-color="#6d6d6d"/><stop offset=".3125" stop-color="#707070"/><stop offset=".3462" stop-color="#787878"/><stop offset=".3606" stop-color="#7c7c7c"/><stop offset=".5096" stop-color="#e4e4e4"/><stop offset=".5337" stop-color="#f3f3f3"/><stop offset=".5433" stop-color="#f6f6f6"/><stop offset=".5769" stop-color="#ececec"/><stop offset=".6779" stop-color="#c1c1c1"/><stop offset=".7212" stop-color="#bbb"/><stop offset=".7548" stop-color="#b1b1b1"/><stop offset=".7692" stop-color="#a9a9a9"/><stop offset=".7837" stop-color="#9d9d9d"/><stop offset=".7933" stop-color="#939393"/><stop offset=".8077" stop-color="#7f7f7f"/><stop offset=".8654" stop-color="#636363"/><stop offset=".9183" stop-color="#515151"/><stop offset=".9471" stop-color="#4d4d4d"/><stop offset=".9663" stop-color="#525252"/><stop offset=".976" stop-color="#5b5b5b"/><stop offset=".9808" stop-color="#626262"/><stop offset=".9856" stop-color="#6c6c6c"/><stop offset=".9904" stop-color="#797979"/><stop offset=".9952" stop-color="#808080"/><stop offset="1" stop-color="#808080"/></linearGradient>
<linearGradient id="c50" gradientUnits="userSpaceOnUse" x1="79.1" x2="131.0" y1="0" y2="0"><stop offset="0" stop-color="#808080"/><stop offset=".0048" stop-color="#808080"/><stop offset=".0145" stop-color="#959595"/><stop offset=".0193" stop-color="#9d9d9d"/><stop offset=".0241" stop-color="#a3a3a3"/><stop offset=".0337" stop-color="#a9a9a9"/><stop offset=".053" stop-color="#adadad"/><stop offset=".0771" stop-color="#a9a9a9"/><stop offset=".1204" stop-color="#9a9a9a"/><stop offset=".1734" stop-color="#818181"/><stop offset=".1879" stop-color="#6d6d6d"/><stop offset=".2023" stop-color="#5e5e5e"/><stop offset=".2168" stop-color="#535353"/><stop offset=".2312" stop-color="#4c4c4c"/><stop offset=".2649" stop-color="#424242"/><stop offset=".3131" stop-color="#3c3c3c"/><stop offset=".4191" stop-color="#111"/><stop offset=".448" stop-color="#080808"/><stop offset=".4576" stop-color="#0b0b0b"/><stop offset=".4817" stop-color="#1a1a1a"/><stop offset=".631" stop-color="#7f7f7f"/><stop offset=".6503" stop-color="#848484"/><stop offset=".684" stop-color="#8c8c8c"/><stop offset=".7177" stop-color="#8f8f8f"/><stop offset=".9971" stop-color="#959595"/></linearGradient>
<linearGradient id="d50" gradientUnits="userSpaceOnUse" x1="221.30" x2="273.3" y1="0" y2="0"><stop offset="0" stop-color="#646464"/><stop offset=".2788" stop-color="#6d6d6d"/><stop offset=".3125" stop-color="#707070"/><stop offset=".3462" stop-color="#777"/><stop offset=".3654" stop-color="#7c7c7c"/><stop offset=".5192" stop-color="#e6e6e6"/><stop offset=".5433" stop-color="#f4f4f4"/><stop offset=".5529" stop-color="#f7f7f7"/><stop offset=".5865" stop-color="#ececec"/><stop offset=".6875" stop-color="#c3c3c3"/><stop offset=".7356" stop-color="#bdbdbd"/><stop offset=".7692" stop-color="#b3b3b3"/><stop offset=".7837" stop-color="#ababab"/><stop offset=".7981" stop-color="#9f9f9f"/><stop offset=".8125" stop-color="#8f8f8f"/><stop offset=".8221" stop-color="#818181"/><stop offset=".8269" stop-color="#7d7d7d"/><stop offset=".875" stop-color="#666"/><stop offset=".9183" stop-color="#575757"/><stop offset=".9471" stop-color="#525252"/><stop offset=".9663" stop-color="#575757"/><stop offset=".976" stop-color="#5e5e5e"/><stop offset=".9808" stop-color="#656565"/><stop offset=".9856" stop-color="#6e6e6e"/><stop offset=".9904" stop-color="#7a7a7a"/><stop offset=".9952" stop-color="#808080"/><stop offset="1" stop-color="#808080"/></linearGradient>
<linearGradient id="c51" gradientUnits="userSpaceOnUse" x1="79.1" x2="131.0" y1="0" y2="0"><stop offset="0" stop-color="#808080"/><stop offset=".0048" stop-color="#808080"/><stop offset=".0145" stop-color="#929292"/><stop offset=".0193" stop-color="#999"/><stop offset=".0289" stop-color="#a2a2a2"/><stop offset=".0482" stop-color="#a6a6a6"/><stop offset=".0723" stop-color="#a2a2a2"/><stop offset=".106" stop-color="#969696"/><stop offset=".1493" stop-color="#818181"/><stop offset=".1541" stop-color="#7d7d7d"/><stop offset=".1638" stop-color="#6f6f6f"/><stop offset=".1782" stop-color="#5e5e5e"/><stop offset=".1927" stop-color="#535353"/><stop offset=".2119" stop-color="#494949"/><stop offset=".2505" stop-color="#3f3f3f"/><stop offset=".3035" stop-color="#3a3a3a"/><stop offset=".4094" stop-color="#111"/><stop offset=".4383" stop-color="#080808"/><stop offset=".448" stop-color="#0a0a0a"/><stop offset=".4672" stop-color="#151515"/><stop offset=".6262" stop-color="#7f7f7f"/><stop offset=".6503" stop-color="#858585"/><stop offset=".6792" stop-color="#8b8b8b"/><stop offset=".7129" stop-color="#8e8e8e"/><stop offset=".9971" stop-color="#959595"/></linearGradient>
<linearGradient id="d51" gradientUnits="userSpaceOnUse" x1="221.30" x2="273.3" y1="0" y2="0"><stop offset="0" stop-color="#656565"/><stop offset=".2837" stop-color="#6d6d6d"/><stop offset=".3173" stop-color="#707070"/><stop offset=".351" stop-color="#777"/><stop offset=".3702" stop-color="#7d7d7d"/><stop offset=".375" stop-color="#828282"/><stop offset=".5144" stop-color="#dfdfdf"/><stop offset=".5433" stop-color="#f1f1f1"/><stop offset=".5577" stop-color="#f7f7f7"/><stop offset=".5817" stop-color="#f1f1f1"/><stop offset=".6923" stop-color="#c6c6c6"/><stop offset=".75" stop-color="#c0c0c0"/><stop offset=".7885" stop-color="#b5b5b5"/><stop offset=".8077" stop-color="#ababab"/><stop offset=".8221" stop-color="#9f9f9f"/><stop offset=".8317" stop-color="#949494"/><stop offset=".8462" stop-color="#7f7f7f"/><stop offset=".8894" stop-color="#6a6a6a"/><stop offset=".9279" stop-color="#5c5c5c"/><stop offset=".9519" stop-color="#595959"/><stop offset=".9663" stop-color="#5c5c5c"/><stop offset=".976" stop-color="#636363"/><stop offset=".9808" stop-color="#686868"/><stop offset=".9904" stop-color="#7a7a7a"/><stop offset=".9952" stop-color="#808080"/><stop offset="1" stop-color="#808080"/></linearGradient>
<linearGradient id="c52" gradientUnits="userSpaceOnUse" x1="79.1" x2="131.0" y1="0" y2="0"><stop offset="0" stop-color="#808080"/><stop offset=".0048" stop-color="#808080"/><stop offset=".0145" stop-color="#8f8f8f"/><stop offset=".0289" stop-color="#9a9a9a"/><stop offset=".0434" stop-color="#9d9d9d"/><stop offset=".0626" stop-color="#9a9a9a"/><stop offset=".0915" stop-color="#8f8f8f"/><stop offset=".1204" stop-color="#818181"/><stop offset=".1397" stop-color="#676767"/><stop offset=".1493" stop-color="#5d5d5d"/><stop offset=".1638" stop-color="#515151"/><stop offset=".183" stop-color="#474747"/><stop offset=".2264" stop-color="#3d3d3d"/><stop offset=".2987" stop-color="#373737"/><stop offset=".3998" stop-color="#111"/><stop offset=".4287" stop-color="#080808"/><stop offset=".4383" stop-color="#090909"/><stop offset=".4576" stop-color="#131313"/><stop offset=".6214" stop-color="#7e7e7e"/><stop offset=".6455" stop-color="#858585"/><stop offset=".6744" stop-color="#8b8b8b"/><stop offset=".7081" stop-color="#8e8e8e"/><stop offset=".9971" stop-color="#959595"/></linearGradient>
<linearGradient id="d52" gradientUnits="userSpaceOnUse" x1="221.30" x2="273.3" y1="0" y2="0"><stop offset="0" stop-color="#656565"/><stop offset=".2885" stop-color="#6d6d6d"/><stop offset=".3221" stop-color="#707070"/><stop offset=".351" stop-color="#767676"/><stop offset=".375" stop-color="#7d7d7d"/><stop offset=".3798" stop-color="#828282"/><stop offset=".5288" stop-color="#e4e4e4"/><stop offset=".5529" stop-color="#f2f2f2"/><stop offset=".5673" stop-color="#f8f8f8"/><stop offset=".5913" stop-color="#f1f1f1"/><stop offset=".7019" stop-color="#c7c7c7"/><stop offset=".7692" stop-color="#c3c3c3"/><stop offset=".8125" stop-color="#b9b9b9"/><stop offset=".8317" stop-color="#afafaf"/><stop offset=".8462" stop-color="#a5a5a5"/><stop offset=".8606" stop-color="#969696"/><stop offset=".875" stop-color="#808080"/><stop offset=".9038" stop-color="#717171"/><stop offset=".9327" stop-color="#666"/><stop offset=".9519" stop-color="#636363"/><stop offset=".9663" stop-color="#646464"/><stop offset=".9808" stop-color="#6d6d6d"/><stop offset=".9904" stop-color="#7b7b7b"/><stop offset=".9952" stop-color="#808080"/><stop offset="1" stop-color="#808080"/></linearGradient>
<linearGradient id="c53" gradientUnits="userSpaceOnUse" x1="79.1" x2="131.0" y1="0" y2="0"><stop offset="0" stop-color="#808080"/><stop offset=".0048" stop-color="#808080"/><stop offset=".0145" stop-color="#898989"/><stop offset=".0241" stop-color="#8e8e8e"/><stop offset=".0385" stop-color="#8f8f8f"/><stop offset=".053" stop-color="#8c8c8c"/><stop offset=".0819" stop-color="#818181"/><stop offset=".1012" stop-color="#666"/><stop offset=".1108" stop-color="#5c5c5c"/><stop offset=".1301" stop-color="#4d4d4d"/><stop offset=".1493" stop-color="#444"/><stop offset=".1975" stop-color="#3a3a3a"/><stop offset=".289" stop-color="#353535"/><stop offset=".3998" stop-color="#0d0d0d"/><stop offset=".4239" stop-color="#070707"/><stop offset=".4335" stop-color="#0a0a0a"/><stop offset=".4576" stop-color="#181818"/><stop offset=".6166" stop-color="#7e7e7e"/><stop offset=".6407" stop-color="#858585"/><stop offset=".6696" stop-color="#8b8b8b"/><stop offset=".7033" stop-color="#8e8e8e"/><stop offset=".9971" stop-color="#959595"/></linearGradient>
<linearGradient id="d53" gradientUnits="userSpaceOnUse" x1="221.30" x2="273.3" y1="0" y2="0"><stop offset="0" stop-color="#656565"/><stop offset=".2933" stop-color="#6d6d6d"/><stop offset=".3269" stop-color="#717171"/><stop offset=".3558" stop-color="#777"/><stop offset=".375" stop-color="#7c7c7c"/><stop offset=".5433" stop-color="#e8e8e8"/><stop offset=".5673" stop-color="#f6f6f6"/><stop offset=".5769" stop-color="#f8f8f8"/><stop offset=".601" stop-color="#f1f1f1"/><stop offset=".7115" stop-color="#c9c9c9"/><stop offset=".7981" stop-color="#c5c5c5"/><stop offset=".8462" stop-color="#bcbcbc"/><stop offset=".8654" stop-color="#b3b3b3"/><stop offset=".8846" stop-color="#a6a6a6"/><stop offset=".899" stop-color="#969696"/><stop offset=".9135" stop-color="#808080"/><stop offset=".9471" stop-color="#727272"/><stop offset=".9712" stop-color="#707070"/><stop offset=".9808" stop-color="#747474"/><stop offset=".9952" stop-color="#808080"/><stop offset="1" stop-color="#808080"/></linearGradient>
<linearGradient id="c54" gradientUnits="userSpaceOnUse" x1="79.1" x2="131.0" y1="0" y2="0"><stop offset="0" stop-color="#808080"/><stop offset=".0193" stop-color="#828282"/><stop offset=".0289" stop-color="#808080"/><stop offset=".0337" stop-color="#7b7b7b"/><stop offset=".0482" stop-color="#666"/><stop offset=".0626" stop-color="#575757"/><stop offset=".0819" stop-color="#4a4a4a"/><stop offset=".106" stop-color="#404040"/><stop offset=".1301" stop-color="#3a3a3a"/><stop offset=".1638" stop-color="#373737"/><stop offset=".2794" stop-color="#343434"/><stop offset=".3902" stop-color="#0d0d0d"/><stop offset=".4143" stop-color="#070707"/><stop offset=".4287" stop-color="#0b0b0b"/><stop offset=".448" stop-color="#161616"/><stop offset=".6118" stop-color="#7d7d7d"/><stop offset=".6407" stop-color="#868686"/><stop offset=".6696" stop-color="#8b8b8b"/><stop offset=".7033" stop-color="#8e8e8e"/><stop offset=".9971" stop-color="#949494"/></linearGradient>
<linearGradient id="d54" gradientUnits="userSpaceOnUse" x1="221.30" x2="273.3" y1="0" y2="0"><stop offset="0" stop-color="#656565"/><stop offset=".2981" stop-color="#6e6e6e"/><stop offset=".3317" stop-color="#717171"/><stop offset=".3606" stop-color="#777"/><stop offset=".3798" stop-color="#7c7c7c"/><stop offset=".5529" stop-color="#eaeaea"/><stop offset=".5721" stop-color="#f5f5f5"/><stop offset=".5865" stop-color="#f8f8f8"/><stop offset=".7212" stop-color="#cbcbcb"/><stop offset=".8317" stop-color="#c9c9c9"/><stop offset=".8894" stop-color="#c0c0c0"/><stop offset=".9135" stop-color="#b7b7b7"/><stop offset=".9327" stop-color="#ababab"/><stop offset=".9519" stop-color="#979797"/><stop offset=".9663" stop-color="#808080"/><stop offset=".9808" stop-color="#7d7d7d"/><stop offset="1" stop-color="#808080"/></linearGradient>
<linearGradient id="c55" gradientUnits="userSpaceOnUse" x1="79.1" x2="131.0" y1="0" y2="0"><stop offset="0" stop-color="#808080"/><stop offset=".0145" stop-color="#686868"/><stop offset=".0337" stop-color="#535353"/><stop offset=".053" stop-color="#474747"/><stop offset=".0771" stop-color="#3d3d3d"/><stop offset=".106" stop-color="#373737"/><stop offset=".1397" stop-color="#343434"/><stop offset=".2697" stop-color="#323232"/><stop offset=".4046" stop-color="#070707"/><stop offset=".4191" stop-color="#0a0a0a"/><stop offset=".4383" stop-color="#151515"/><stop offset=".6069" stop-color="#7d7d7d"/><stop offset=".6358" stop-color="#868686"/><stop offset=".6647" stop-color="#8b8b8b"/><stop offset=".6985" stop-color="#8e8e8e"/><stop offset=".9971" stop-color="#949494"/></linearGradient>
<linearGradient id="d55" gradientUnits="userSpaceOnUse" x1="221.30" x2="273.3" y1="0" y2="0"><stop offset="0" stop-color="#656565"/><stop offset=".2981" stop-color="#6e6e6e"/><stop offset=".3317" stop-color="#707070"/><stop offset=".3606" stop-color="#767676"/><stop offset=".3846" stop-color="#7c7c7c"/><stop offset=".5529" stop-color="#e6e6e6"/><stop offset=".5769" stop-color="#f3f3f3"/><stop offset=".5913" stop-color="#f8f8f8"/><stop offset=".6154" stop-color="#f3f3f3"/><stop offset=".726" stop-color="#cecece"/><stop offset=".8606" stop-color="#cbcbcb"/><stop offset=".8942" stop-color="#c7c7c7"/><stop offset=".9231" stop-color="#c1c1c1"/><stop offset=".9471" stop-color="#b7b7b7"/><stop offset=".9663" stop-color="#aaa"/><stop offset=".9808" stop-color="#9b9b9b"/><stop offset="1" stop-color="#808080"/></linearGradient>
<linearGradient id="c56" gradientUnits="userSpaceOnUse" x1="79.1" x2="131.0" y1="0" y2="0"><stop offset="0" stop-color="#808080"/><stop offset=".0145" stop-color="#676767"/><stop offset=".0337" stop-color="#525252"/><stop offset=".053" stop-color="#454545"/><stop offset=".0771" stop-color="#3b3b3b"/><stop offset=".106" stop-color="#353535"/><stop offset=".1397" stop-color="#323232"/><stop offset=".2649" stop-color="#2f2f2f"/><stop offset=".3757" stop-color="#0c0c0c"/><stop offset=".3998" stop-color="#070707"/><stop offset=".4143" stop-color="#0c0c0c"/><stop offset=".4383" stop-color="#191919"/><stop offset=".6069" stop-color="#7f7f7f"/><stop offset=".631" stop-color="#868686"/><stop offset=".6599" stop-color="#8b8b8b"/><stop offset=".6936" stop-color="#8e8e8e"/><stop offset=".9971" stop-color="#949494"/></linearGradient>
<linearGradient id="d56" gradientUnits="userSpaceOnUse" x1="221.30" x2="273.3" y1="0" y2="0"><stop offset="0" stop-color="#656565"/><stop offset=".3029" stop-color="#6e6e6e"/><stop offset=".3365" stop-color="#717171"/><stop offset=".3654" stop-color="#767676"/><stop offset=".3894" stop-color="#7d7d7d"/><stop offset=".5625" stop-color="#e7e7e7"/><stop offset=".5865" stop-color="#f4f4f4"/><stop offset=".601" stop-color="#f9f9f9"/><stop offset=".625" stop-color="#f3f3f3"/><stop offset=".7356" stop-color="#cfcfcf"/><stop offset=".8606" stop-color="#cdcdcd"/><stop offset=".8942" stop-color="#c9c9c9"/><stop offset=".9231" stop-color="#c3c3c3"/><stop offset=".9471" stop-color="#b9b9b9"/><stop offset=".9663" stop-color="#ababab"/><stop offset=".9808" stop-color="#9b9b9b"/><stop offset="1" stop-color="#808080"/></linearGradient>
<linearGradient id="c57" gradientUnits="userSpaceOnUse" x1="79.1" x2="131.0" y1="0" y2="0"><stop offset="0" stop-color="#808080"/><stop offset=".0145" stop-color="#676767"/><stop offset=".0337" stop-color="#515151"/><stop offset=".053" stop-color="#444"/><stop offset=".0771" stop-color="#3a3a3a"/><stop offset=".106" stop-color="#343434"/><stop offset=".1397" stop-color="#313131"/><stop offset=".2553" stop-color="#2e2e2e"/><stop offset=".3661" stop-color="#0c0c0c"/><stop offset=".3902" stop-color="#060606"/><stop offset=".4046" stop-color="#0a0a0a"/><stop offset=".4239" stop-color="#151515"/><stop offset=".6021" stop-color="#7f7f7f"/><stop offset=".631" stop-color="#868686"/><stop offset=".6888" stop-color="#8e8e8e"/><stop offset=".9971" stop-color="#949494"/></linearGradient>
<linearGradient id="d57" gradientUnits="userSpaceOnUse" x1="221.30" x2="273.3" y1="0" y2="0"><stop offset="0" stop-color="#656565"/><stop offset=".3077" stop-color="#6e6e6e"/><stop offset=".3413" stop-color="#717171"/><stop offset=".3702" stop-color="#767676"/><stop offset=".3942" stop-color="#7d7d7d"/><stop offset=".5625" stop-color="#e3e3e3"/><stop offset=".5913" stop-color="#f3f3f3"/><stop offset=".6058" stop-color="#f8f8f8"/><stop offset=".625" stop-color="#f5f5f5"/><stop offset=".7452" stop-color="#d1d1d1"/><stop offset=".8606" stop-color="#cecece"/><stop offset=".8942" stop-color="#cbcbcb"/><stop offset=".9231" stop-color="#c4c4c4"/><stop offset=".9471" stop-color="#bababa"/><stop offset=".9663" stop-color="#acacac"/><stop offset=".9808" stop-color="#9c9c9c"/><stop offset="1" stop-color="#808080"/></linearGradient>
<linearGradient id="c58" gradientUnits="userSpaceOnUse" x1="79.1" x2="131.0" y1="0" y2="0"><stop offset="0" stop-color="#808080"/><stop offset=".0145" stop-color="#676767"/><stop offset=".0337" stop-color="#515151"/><stop offset=".053" stop-color="#434343"/><stop offset=".0771" stop-color="#393939"/><stop offset=".1012" stop-color="#343434"/><stop offset=".1349" stop-color="#303030"/><stop offset=".2505" stop-color="#2c2c2c"/><stop offset=".3613" stop-color="#0b0b0b"/><stop offset=".3854" stop-color="#070707"/><stop offset=".3998" stop-color="#0c0c0c"/><stop offset=".4239" stop-color="#181818"/><stop offset=".5973" stop-color="#7f7f7f"/><stop offset=".6262" stop-color="#868686"/><stop offset=".6551" stop-color="#8b8b8b"/><stop offset=".6888" stop-color="#8e8e8e"/><stop offset=".9971" stop-color="#949494"/></linearGradient>
<linearGradient id="d58" gradientUnits="userSpaceOnUse" x1="221.30" x2="273.3" y1="0" y2="0"><stop offset="0" stop-color="#656565"/><stop offset=".3125" stop-color="#6e6e6e"/><stop offset=".3462" stop-color="#717171"/><stop offset=".375" stop-color="#777"/><stop offset=".399" stop-color="#7d7d7d"/><stop offset=".4038" stop-color="#828282"/><stop offset=".5721" stop-color="#e5e5e5"/><stop offset=".601" stop-color="#f4f4f4"/><stop offset=".6154" stop-color="#f9f9f9"/><stop offset=".6394" stop-color="#f3f3f3"/><stop offset=".75" stop-color="#d2d2d2"/><stop offset=".8654" stop-color="#cfcfcf"/><stop offset=".899" stop-color="#cbcbcb"/><stop offset=".9231" stop-color="#c5c5c5"/><stop offset=".9471" stop-color="#bbb"/><stop offset=".9663" stop-color="#acacac"/><stop offset=".9808" stop-color="#9c9c9c"/><stop offset=".9952" stop-color="#858585"/><stop offset="1" stop-color="#808080"/></linearGradient>
<linearGradient id="c59" gradientUnits="userSpaceOnUse" x1="79.1" x2="131.0" y1="0" y2="0"><stop offset="0" stop-color="#808080"/><stop offset=".0145" stop-color="#676767"/><stop offset=".0337" stop-color="#515151"/><stop offset=".053" stop-color="#434343"/><stop offset=".0771" stop-color="#393939"/><stop offset=".1012" stop-color="#333"/><stop offset=".1349" stop-color="#303030"/><stop offset=".2408" stop-color="#2d2d2d"/><stop offset=".3516" stop-color="#0c0c0c"/><stop offset=".3757" stop-color="#060606"/><stop offset=".3902" stop-color="#0a0a0a"/><stop offset=".4143" stop-color="#171717"/><stop offset=".5925" stop-color="#7e7e7e"/><stop offset=".6214" stop-color="#868686"/><stop offset=".6503" stop-color="#8b8b8b"/><stop offset=".684" stop-color="#8e8e8e"/><stop offset=".9971" stop-color="#949494"/></linearGradient>
<linearGradient id="d59" gradientUnits="userSpaceOnUse" x1="221.30" x2="273.3" y1="0" y2="0"><stop offset="0" stop-color="#666"/><stop offset=".3125" stop-color="#6e6e6e"/><stop offset=".3462" stop-color="#717171"/><stop offset=".375" stop-color="#767676"/><stop offset=".4038" stop-color="#7d7d7d"/><stop offset=".4087" stop-color="#828282"/><stop offset=".5721" stop-color="#e1e1e1"/><stop offset=".6058" stop-color="#f3f3f3"/><stop offset=".6202" stop-color="#f8f8f8"/><stop offset=".6394" stop-color="#f5f5f5"/><stop offset=".7596" stop-color="#d2d2d2"/><stop offset=".8654" stop-color="#cfcfcf"/><stop offset=".899" stop-color="#cbcbcb"/><stop offset=".9231" stop-color="#c5c5c5"/><stop offset=".9471" stop-color="#bbb"/><stop offset=".9663" stop-color="#adadad"/><stop offset=".9808" stop-color="#9c9c9c"/><stop offset=".9952" stop-color="#858585"/><stop offset="1" stop-color="#808080"/></linearGradient>
<linearGradient id="c60" gradientUnits="userSpaceOnUse" x1="79.1" x2="131.0" y1="0" y2="0"><stop offset="0" stop-color="#808080"/><stop offset=".0145" stop-color="#676767"/><stop offset=".0289" stop-color="#555"/><stop offset=".0482" stop-color="#464646"/><stop offset=".0723" stop-color="#3b3b3b"/><stop offset=".0963" stop-color="#353535"/><stop offset=".1252" stop-color="#313131"/><stop offset=".236" stop-color="#2c2c2c"/><stop offset=".3468" stop-color="#0b0b0b"/><stop offset=".3709" stop-color="#070707"/><stop offset=".3854" stop-color="#0b0b0b"/><stop offset=".4094" stop-color="#181818"/><stop offset=".5877" stop-color="#7e7e7e"/><stop offset=".6166" stop-color="#868686"/><stop offset=".6455" stop-color="#8b8b8b"/><stop offset=".6792" stop-color="#8d8d8d"/><stop offset=".9971" stop-color="#949494"/></linearGradient>
<linearGradient id="d60" gradientUnits="userSpaceOnUse" x1="221.30" x2="273.3" y1="0" y2="0"><stop offset="0" stop-color="#666"/><stop offset=".3173" stop-color="#6e6e6e"/><stop offset=".351" stop-color="#717171"/><stop offset=".3798" stop-color="#767676"/><stop offset=".4087" stop-color="#7d7d7d"/><stop offset=".4135" stop-color="#828282"/><stop offset=".5865" stop-color="#e6e6e6"/><stop offset=".6154" stop-color="#f5f5f5"/><stop offset=".6298" stop-color="#f9f9f9"/><stop offset=".6538" stop-color="#f3f3f3"/><stop offset=".7644" stop-color="#d2d2d2"/><stop offset=".8654" stop-color="#cfcfcf"/><stop offset=".899" stop-color="#cbcbcb"/><stop offset=".9231" stop-color="#c5c5c5"/><stop offset=".9471" stop-color="#bbb"/><stop offset=".9663" stop-color="#acacac"/><stop offset=".9808" stop-color="#9c9c9c"/><stop offset=".9952" stop-color="#858585"/><stop offset="1" stop-color="#808080"/></linearGradient>
<linearGradient id="c61" gradientUnits="userSpaceOnUse" x1="79.1" x2="131.0" y1="0" y2="0"><stop offset="0" stop-color="#808080"/><stop offset=".0145" stop-color="#676767"/><stop offset=".0289" stop-color="#565656"/><stop offset=".0482" stop-color="#464646"/><stop offset=".0723" stop-color="#3b3b3b"/><stop offset=".0963" stop-color="#353535"/><stop offset=".1252" stop-color="#313131"/><stop offset=".2264" stop-color="#2e2e2e"/><stop offset=".3372" stop-color="#0c0c0c"/><stop offset=".3613" stop-color="#060606"/><stop offset=".3757" stop-color="#0a0a0a"/><stop offset=".3998" stop-color="#161616"/><stop offset=".5829" stop-color="#7e7e7e"/><stop offset=".6118" stop-color="#868686"/><stop offset=".6407" stop-color="#8b8b8b"/><stop offset=".6744" stop-color="#8d8d8d"/><stop offset=".9971" stop-color="#949494"/></linearGradient>
<linearGradient id="d61" gradientUnits="userSpaceOnUse" x1="221.30" x2="273.3" y1="0" y2="0"><stop offset="0" stop-color="#666"/><stop offset=".3221" stop-color="#6f6f6f"/><stop offset=".3558" stop-color="#717171"/><stop offset=".3846" stop-color="#767676"/><stop offset=".4087" stop-color="#7c7c7c"/><stop offset=".601" stop-color="#eaeaea"/><stop offset=".625" stop-color="#f5f5f5"/><stop offset=".6394" stop-color="#f9f9f9"/><stop offset=".774" stop-color="#d1d1d1"/><stop offset=".8702" stop-color="#cecece"/><stop offset=".9231" stop-color="#c5c5c5"/><stop offset=".9471" stop-color="#bababa"/><stop offset=".9663" stop-color="#acacac"/><stop offset=".9808" stop-color="#9c9c9c"/><stop offset="1" stop-color="#808080"/></linearGradient>
<linearGradient id="c62" gradientUnits="userSpaceOnUse" x1="79.1" x2="131.0" y1="0" y2="0"><stop offset="0" stop-color="#808080"/><stop offset=".0145" stop-color="#676767"/><stop offset=".0289" stop-color="#565656"/><stop offset=".0482" stop-color="#474747"/><stop offset=".0723" stop-color="#3c3c3c"/><stop offset=".0963" stop-color="#363636"/><stop offset=".1252" stop-color="#323232"/><stop offset=".2168" stop-color="#2f2f2f"/><stop offset=".3516" stop-color="#060606"/><stop offset=".3661" stop-color="#0a0a0a"/><stop offset=".3902" stop-color="#151515"/><stop offset=".578" stop-color="#7e7e7e"/><stop offset=".6118" stop-color="#878787"/><stop offset=".6696" stop-color="#8d8d8d"/><stop offset=".9971" stop-color="#949494"/></linearGradient>
<linearGradient id="d62" gradientUnits="userSpaceOnUse" x1="221.30" x2="273.3" y1="0" y2="0"><stop offset="0" stop-color="#666"/><stop offset=".3269" stop-color="#6f6f6f"/><stop offset=".3606" stop-color="#717171"/><stop offset=".3894" stop-color="#767676"/><stop offset=".4135" stop-color="#7c7c7c"/><stop offset=".601" stop-color="#e6e6e6"/><stop offset=".6298" stop-color="#f4f4f4"/><stop offset=".6442" stop-color="#f9f9f9"/><stop offset=".6683" stop-color="#f4f4f4"/><stop offset=".7788" stop-color="#d1d1d1"/><stop offset=".875" stop-color="#cdcdcd"/><stop offset=".9038" stop-color="#c9c9c9"/><stop offset=".9279" stop-color="#c2c2c2"/><stop offset=".9471" stop-color="#bababa"/><stop offset=".9663" stop-color="#acacac"/><stop offset=".9808" stop-color="#9c9c9c"/><stop offset="1" stop-color="#808080"/></linearGradient>
<linearGradient id="c63" gradientUnits="userSpaceOnUse" x1="79.1" x2="131.0" y1="0" y2="0"><stop offset="0" stop-color="#808080"/><stop offset=".0145" stop-color="#686868"/><stop offset=".0289" stop-color="#575757"/><stop offset=".0482" stop-color="#484848"/><stop offset=".0723" stop-color="#3d3d3d"/><stop offset=".1204" stop-color="#343434"/><stop offset=".2119" stop-color="#2f2f2f"/><stop offset=".3227" stop-color="#0b0b0b"/><stop offset=".3468" stop-color="#070707"/><stop offset=".3613" stop-color="#0b0b0b"/><stop offset=".3854" stop-color="#171717"/><stop offset=".5732" stop-color="#7d7d7d"/><stop offset=".6069" stop-color="#878787"/><stop offset=".6647" stop-color="#8d8d8d"/><stop offset=".9971" stop-color="#939393"/></linearGradient>
<linearGradient id="d63" gradientUnits="userSpaceOnUse" x1="221.30" x2="273.3" y1="0" y2="0"><stop offset="0" stop-color="#666"/><stop offset=".3317" stop-color="#6f6f6f"/><stop offset=".3654" stop-color="#717171"/><stop offset=".3942" stop-color="#767676"/><stop offset=".4183" stop-color="#7d7d7d"/><stop offset=".6106" stop-color="#e6e6e6"/><stop offset=".6394" stop-color="#f5f5f5"/><stop offset=".6538" stop-color="#f9f9f9"/><stop offset=".6779" stop-color="#f3f3f3"/><stop offset=".7885" stop-color="#cfcfcf"/><stop offset=".875" stop-color="#ccc"/><stop offset=".9038" stop-color="#c8c8c8"/><stop offset=".9279" stop-color="#c1c1c1"/><stop offset=".9471" stop-color="#b9b9b9"/><stop offset=".9663" stop-color="#ababab"/><stop offset=".9808" stop-color="#9b9b9b"/><stop offset="1" stop-color="#808080"/></linearGradient>
<linearGradient id="c64" gradientUnits="userSpaceOnUse" x1="79.1" x2="131.0" y1="0" y2="0"><stop offset="0" stop-color="#808080"/><stop offset=".0145" stop-color="#686868"/><stop offset=".0289" stop-color="#575757"/><stop offset=".0482" stop-color="#494949"/><stop offset=".0674" stop-color="#404040"/><stop offset=".1156" stop-color="#363636"/><stop offset=".1975" stop-color="#323232"/><stop offset=".3324" stop-color="#070707"/><stop offset=".3468" stop-color="#090909"/><stop offset=".3709" stop-color="#141414"/><stop offset=".5684" stop-color="#7d7d7d"/><stop offset=".6021" stop-color="#868686"/><stop offset=".6599" stop-color="#8d8d8d"/><stop offset=".9971" stop-color="#939393"/></linearGradient>
<linearGradient id="d64" gradientUnits="userSpaceOnUse" x1="221.30" x2="273.3" y1="0" y2="0"><stop offset="0" stop-color="#666"/><stop offset=".3365" stop-color="#6f6f6f"/><stop offset=".3702" stop-color="#727272"/><stop offset=".399" stop-color="#777"/><stop offset=".4231" stop-color="#7d7d7d"/><stop offset=".6202" stop-color="#e7e7e7"/><stop offset=".649" stop-color="#f5f5f5"/><stop offset=".6635" stop-color="#f9f9f9"/><stop offset=".6875" stop-color="#f3f3f3"/><stop offset=".7981" stop-color="#cecece"/><stop offset=".8798" stop-color="#cacaca"/><stop offset=".9279" stop-color="#c0c0c0"/><stop offset=".9471" stop-color="#b8b8b8"/><stop offset=".9663" stop-color="#aaa"/><stop offset=".9808" stop-color="#9b9b9b"/><stop offset="1" stop-color="#808080"/></linearGradient>
<linearGradient id="c65" gradientUnits="userSpaceOnUse" x1="79.1" x2="131.0" y1="0" y2="0"><stop offset="0" stop-color="#808080"/><stop offset=".0145" stop-color="#696969"/><stop offset=".0289" stop-color="#595959"/><stop offset=".0482" stop-color="#4b4b4b"/><stop offset=".0674" stop-color="#424242"/><stop offset=".1156" stop-color="#383838"/><stop offset=".1879" stop-color="#343434"/><stop offset=".2987" stop-color="#0d0d0d"/><stop offset=".3227" stop-color="#060606"/><stop offset=".3372" stop-color="#0a0a0a"/><stop offset=".3661" stop-color="#171717"/><stop offset=".5636" stop-color="#7d7d7d"/><stop offset=".5973" stop-color="#868686"/><stop offset=".6551" stop-color="#8d8d8d"/><stop offset=".9971" stop-color="#939393"/></linearGradient>
<linearGradient id="d65" gradientUnits="userSpaceOnUse" x1="221.30" x2="273.3" y1="0" y2="0"><stop offset="0" stop-color="#666"/><stop offset=".3365" stop-color="#6f6f6f"/><stop offset=".399" stop-color="#767676"/><stop offset=".4279" stop-color="#7d7d7d"/><stop offset=".6346" stop-color="#e9e9e9"/><stop offset=".6635" stop-color="#f6f6f6"/><stop offset=".6779" stop-color="#f8f8f8"/><stop offset=".8125" stop-color="#cacaca"/><stop offset=".8846" stop-color="#c7c7c7"/><stop offset=".9087" stop-color="#c3c3c3"/><stop offset=".9327" stop-color="#bcbcbc"/><stop offset=".9519" stop-color="#b3b3b3"/><stop offset=".9663" stop-color="#a9a9a9"/><stop offset=".9808" stop-color="#9a9a9a"/><stop offset="1" stop-color="#808080"/></linearGradient>
<linearGradient id="c66" gradientUnits="userSpaceOnUse" x1="79.1" x2="131.0" y1="0" y2="0"><stop offset="0" stop-color="#808080"/><stop offset=".0145" stop-color="#6a6a6a"/><stop offset=".0289" stop-color="#5b5b5b"/><stop offset=".0434" stop-color="#505050"/><stop offset=".0626" stop-color="#474747"/><stop offset=".106" stop-color="#3d3d3d"/><stop offset=".1734" stop-color="#393939"/><stop offset=".2842" stop-color="#0e0e0e"/><stop offset=".3083" stop-color="#070707"/><stop offset=".3227" stop-color="#0a0a0a"/><stop offset=".3516" stop-color="#161616"/><stop offset=".5588" stop-color="#7d7d7d"/><stop offset=".5925" stop-color="#868686"/><stop offset=".6551" stop-color="#8d8d8d"/><stop offset=".9971" stop-color="#939393"/></linearGradient>
<linearGradient id="d66" gradientUnits="userSpaceOnUse" x1="221.30" x2="273.3" y1="0" y2="0"><stop offset="0" stop-color="#666"/><stop offset=".3413" stop-color="#6f6f6f"/><stop offset=".4038" stop-color="#767676"/><stop offset=".4327" stop-color="#7d7d7d"/><stop offset=".6394" stop-color="#e5e5e5"/><stop offset=".6731" stop-color="#f4f4f4"/><stop offset=".6875" stop-color="#f8f8f8"/><stop offset=".7115" stop-color="#f2f2f2"/><stop offset=".8221" stop-color="#c7c7c7"/><stop offset=".8942" stop-color="#c2c2c2"/><stop offset=".9375" stop-color="#b7b7b7"/><stop offset=".9567" stop-color="#adadad"/><stop offset=".9712" stop-color="#a2a2a2"/><stop offset=".9808" stop-color="#989898"/><stop offset="1" stop-color="#808080"/></linearGradient>
<linearGradient id="c67" gradientUnits="userSpaceOnUse" x1="79.1" x2="131.0" y1="0" y2="0"><stop offset="0" stop-color="#808080"/><stop offset=".0096" stop-color="#717171"/><stop offset=".0241" stop-color="#616161"/><stop offset=".0385" stop-color="#565656"/><stop offset=".0578" stop-color="#4c4c4c"/><stop offset=".0963" stop-color="#424242"/><stop offset=".159" stop-color="#3d3d3d"/><stop offset=".2697" stop-color="#0e0e0e"/><stop offset=".2938" stop-color="#070707"/><stop offset=".3083" stop-color="#0a0a0a"/><stop offset=".3372" stop-color="#161616"/><stop offset=".5588" stop-color="#7f7f7f"/><stop offset=".5877" stop-color="#868686"/><stop offset=".6503" stop-color="#8c8c8c"/><stop offset=".9971" stop-color="#939393"/></linearGradient>
<linearGradient id="d67" gradientUnits="userSpaceOnUse" x1="221.30" x2="273.3" y1="0" y2="0"><stop offset="0" stop-color="#666"/><stop offset=".3462" stop-color="#707070"/><stop offset=".4087" stop-color="#767676"/><stop offset=".4375" stop-color="#7d7d7d"/><stop offset=".649" stop-color="#e3e3e3"/><stop offset=".6827" stop-color="#f2f2f2"/><stop offset=".7019" stop-color="#f8f8f8"/><stop offset=".7115" stop-color="#f7f7f7"/><stop offset=".726" stop-color="#f2f2f2"/><stop offset=".8413" stop-color="#c2c2c2"/><stop offset=".9038" stop-color="#bdbdbd"/><stop offset=".9423" stop-color="#b2b2b2"/><stop offset=".9567" stop-color="#ababab"/><stop offset=".9712" stop-color="#a0a0a0"/><stop offset=".9808" stop-color="#979797"/><stop offset="1" stop-color="#808080"/></linearGradient>
<linearGradient id="c68" gradientUnits="userSpaceOnUse" x1="79.1" x2="131.0" y1="0" y2="0"><stop offset="0" stop-color="#808080"/><stop offset=".0096" stop-color="#727272"/><stop offset=".0241" stop-color="#636363"/><stop offset=".0385" stop-color="#585858"/><stop offset=".053" stop-color="#515151"/><stop offset=".0867" stop-color="#474747"/><stop offset=".1445" stop-color="#414141"/><stop offset=".2553" stop-color="#0e0e0e"/><stop offset=".2794" stop-color="#070707"/><stop offset=".2987" stop-color="#0c0c0c"/><stop offset=".3276" stop-color="#181818"/><stop offset=".5539" stop-color="#7f7f7f"/><stop offset=".5877" stop-color="#878787"/><stop offset=".6455" stop-color="#8c8c8c"/><stop offset=".9971" stop-color="#939393"/></linearGradient>
<linearGradient id="d68" gradientUnits="userSpaceOnUse" x1="221.30" x2="273.3" y1="0" y2="0"><stop offset="0" stop-color="#676767"/><stop offset=".351" stop-color="#707070"/><stop offset=".4135" stop-color="#767676"/><stop offset=".4423" stop-color="#7d7d7d"/><stop offset=".6683" stop-color="#e6e6e6"/><stop offset=".7019" stop-color="#f4f4f4"/><stop offset=".7212" stop-color="#f8f8f8"/><stop offset=".75" stop-color="#eee"/><stop offset=".8558" stop-color="#bdbdbd"/><stop offset=".9087" stop-color="#b8b8b8"/><stop offset=".9471" stop-color="#adadad"/><stop offset=".9615" stop-color="#a5a5a5"/><stop offset=".976" stop-color="#9a9a9a"/><stop offset="1" stop-color="#808080"/></linearGradient>
<linearGradient id="c69" gradientUnits="userSpaceOnUse" x1="79.1" x2="131.0" y1="0" y2="0"><stop offset="0" stop-color="#808080"/><stop offset=".0096" stop-color="#737373"/><stop offset=".0241" stop-color="#656565"/><stop offset=".0482" stop-color="#565656"/><stop offset=".0771" stop-color="#4d4d4d"/><stop offset=".1301" stop-color="#454545"/><stop offset=".2408" stop-color="#0f0f0f"/><stop offset=".2553" stop-color="#090909"/><stop offset=".2649" stop-color="#080808"/><stop offset=".2842" stop-color="#0d0d0d"/><stop offset=".3131" stop-color="#181818"/><stop offset=".5491" stop-color="#7f7f7f"/><stop offset=".5829" stop-color="#878787"/><stop offset=".6407" stop-color="#8c8c8c"/><stop offset=".9971" stop-color="#939393"/></linearGradient>
<linearGradient id="d69" gradientUnits="userSpaceOnUse" x1="221.30" x2="273.3" y1="0" y2="0"><stop offset="0" stop-color="#676767"/><stop offset=".3558" stop-color="#707070"/><stop offset=".4183" stop-color="#767676"/><stop offset=".4471" stop-color="#7e7e7e"/><stop offset=".6827" stop-color="#e6e6e6"/><stop offset=".7163" stop-color="#f3f3f3"/><stop offset=".7356" stop-color="#f7f7f7"/><stop offset=".7644" stop-color="#ededed"/><stop offset=".8702" stop-color="#b9b9b9"/><stop offset=".9183" stop-color="#b3b3b3"/><stop offset=".9519" stop-color="#a8a8a8"/><stop offset=".976" stop-color="#999"/><stop offset="1" stop-color="#808080"/></linearGradient>
<linearGradient id="c70" gradientUnits="userSpaceOnUse" x1="79.1" x2="131.0" y1="0" y2="0"><stop offset="0" stop-color="#808080"/><stop offset=".0193" stop-color="#6a6a6a"/><stop offset=".0434" stop-color="#5b5b5b"/><stop offset=".0723" stop-color="#515151"/><stop offset=".1156" stop-color="#494949"/><stop offset=".2216" stop-color="#121212"/><stop offset=".2408" stop-color="#0a0a0a"/><stop offset=".2505" stop-color="#080808"/><stop offset=".2697" stop-color="#0d0d0d"/><stop offset=".3035" stop-color="#191919"/><stop offset=".5443" stop-color="#7f7f7f"/><stop offset=".578" stop-color="#878787"/><stop offset=".6358" stop-color="#8c8c8c"/><stop offset=".9971" stop-color="#939393"/></linearGradient>
<linearGradient id="d70" gradientUnits="userSpaceOnUse" x1="221.30" x2="273.3" y1="0" y2="0"><stop offset="0" stop-color="#676767"/><stop offset=".3558" stop-color="#707070"/><stop offset=".4183" stop-color="#767676"/><stop offset=".4519" stop-color="#7e7e7e"/><stop offset=".6923" stop-color="#e4e4e4"/><stop offset=".7308" stop-color="#f3f3f3"/><stop offset=".75" stop-color="#f7f7f7"/><stop offset=".7837" stop-color="#e9e9e9"/><stop offset=".8846" stop-color="#b4b4b4"/><stop offset=".9279" stop-color="#aeaeae"/><stop offset=".9567" stop-color="#a3a3a3"/><stop offset=".976" stop-color="#979797"/><stop offset="1" stop-color="#808080"/></linearGradient>
<linearGradient id="c71" gradientUnits="userSpaceOnUse" x1="79.1" x2="131.0" y1="0" y2="0"><stop offset="0" stop-color="#808080"/><stop offset=".0193" stop-color="#6b6b6b"/><stop offset=".0385" stop-color="#5f5f5f"/><stop offset=".0674" stop-color="#555"/><stop offset=".1012" stop-color="#4f4f4f"/><stop offset=".1975" stop-color="#1a1a1a"/><stop offset=".236" stop-color="#090909"/><stop offset=".2553" stop-color="#0c0c0c"/><stop offset=".289" stop-color="#191919"/><stop offset=".5395" stop-color="#7f7f7f"/><stop offset=".5732" stop-color="#868686"/><stop offset=".631" stop-color="#8c8c8c"/><stop offset=".9971" stop-color="#939393"/></linearGradient>
<linearGradient id="d71" gradientUnits="userSpaceOnUse" x1="221.30" x2="273.3" y1="0" y2="0"><stop offset="0" stop-color="#676767"/><stop offset=".3606" stop-color="#707070"/><stop offset=".4231" stop-color="#767676"/><stop offset=".4567" stop-color="#7e7e7e"/><stop offset=".7019" stop-color="#e3e3e3"/><stop offset=".7404" stop-color="#f2f2f2"/><stop offset=".7596" stop-color="#f6f6f6"/><stop offset=".7692" stop-color="#f5f5f5"/><stop offset=".7885" stop-color="#ececec"/><stop offset=".8942" stop-color="#b2b2b2"/><stop offset=".9327" stop-color="#aaa"/><stop offset=".9567" stop-color="#a1a1a1"/><stop offset=".976" stop-color="#969696"/><stop offset="1" stop-color="#808080"/></linearGradient>
<linearGradient id="c72" gradientUnits="userSpaceOnUse" x1="79.1" x2="131.0" y1="0" y2="0"><stop offset="0" stop-color="#808080"/><stop offset=".0145" stop-color="#707070"/><stop offset=".0337" stop-color="#636363"/><stop offset=".0578" stop-color="#595959"/><stop offset=".0915" stop-color="#525252"/><stop offset=".1927" stop-color="#181818"/><stop offset=".2168" stop-color="#0d0d0d"/><stop offset=".2264" stop-color="#0b0b0b"/><stop offset=".2457" stop-color="#0f0f0f"/><stop offset=".2794" stop-color="#1a1a1a"/><stop offset=".5347" stop-color="#7f7f7f"/><stop offset=".5684" stop-color="#868686"/><stop offset=".6262" stop-color="#8b8b8b"/><stop offset=".9971" stop-color="#929292"/></linearGradient>
<linearGradient id="d72" gradientUnits="userSpaceOnUse" x1="221.30" x2="273.3" y1="0" y2="0"><stop offset="0" stop-color="#676767"/><stop offset=".3654" stop-color="#717171"/><stop offset=".4279" stop-color="#767676"/><stop offset=".4615" stop-color="#7e7e7e"/><stop offset=".7163" stop-color="#e3e3e3"/><stop offset=".7548" stop-color="#f1f1f1"/><stop offset=".774" stop-color="#f5f5f5"/><stop offset=".8125" stop-color="#e3e3e3"/><stop offset=".9087" stop-color="#acacac"/><stop offset=".9375" stop-color="#a6a6a6"/><stop offset=".9615" stop-color="#9d9d9d"/><stop offset=".9808" stop-color="#919191"/><stop offset="1" stop-color="#808080"/></linearGradient>
<linearGradient id="c73" gradientUnits="userSpaceOnUse" x1="79.1" x2="131.0" y1="0" y2="0"><stop offset="0" stop-color="#808080"/><stop offset=".0145" stop-color="#717171"/><stop offset=".0337" stop-color="#656565"/><stop offset=".053" stop-color="#5d5d5d"/><stop offset=".0771" stop-color="#575757"/><stop offset=".183" stop-color="#1b1b1b"/><stop offset=".2071" stop-color="#101010"/><stop offset=".2168" stop-color="#0e0e0e"/><stop offset=".236" stop-color="#131313"/><stop offset=".2746" stop-color="#202020"/><stop offset=".5299" stop-color="#7f7f7f"/><stop offset=".5636" stop-color="#868686"/><stop offset=".6214" stop-color="#8b8b8b"/><stop offset=".9971" stop-color="#929292"/></linearGradient>
<linearGradient id="d73" gradientUnits="userSpaceOnUse" x1="221.30" x2="273.3" y1="0" y2="0"><stop offset="0" stop-color="#676767"/><stop offset=".3702" stop-color="#717171"/><stop offset=".4327" stop-color="#767676"/><stop offset=".4663" stop-color="#7e7e7e"/><stop offset=".7212" stop-color="#dedede"/><stop offset=".7644" stop-color="#ededed"/><stop offset=".7837" stop-color="#f1f1f1"/><stop offset=".7981" stop-color="#ededed"/><stop offset=".8221" stop-color="#e0e0e0"/><stop offset=".9183" stop-color="#a9a9a9"/><stop offset=".9471" stop-color="#a2a2a2"/><stop offset=".9663" stop-color="#999"/><stop offset=".9808" stop-color="#909090"/><stop offset="1" stop-color="#808080"/></linearGradient>
<linearGradient id="c74" gradientUnits="userSpaceOnUse" x1="79.1" x2="131.0" y1="0" y2="0"><stop offset="0" stop-color="#808080"/><stop offset=".0145" stop-color="#727272"/><stop offset=".0289" stop-color="#686868"/><stop offset=".0674" stop-color="#5b5b5b"/><stop offset=".1541" stop-color="#292929"/><stop offset=".1879" stop-color="#181818"/><stop offset=".2023" stop-color="#131313"/><stop offset=".2216" stop-color="#161616"/><stop offset=".2553" stop-color="#212121"/><stop offset=".525" stop-color="#7f7f7f"/><stop offset=".5636" stop-color="#878787"/><stop offset=".6214" stop-color="#8b8b8b"/><stop offset=".9971" stop-color="#929292"/></linearGradient>
<linearGradient id="d74" gradientUnits="userSpaceOnUse" x1="221.30" x2="273.3" y1="0" y2="0"><stop offset="0" stop-color="#676767"/><stop offset=".375" stop-color="#717171"/><stop offset=".4375" stop-color="#767676"/><stop offset=".4712" stop-color="#7e7e7e"/><stop offset=".7308" stop-color="#dadada"/><stop offset=".774" stop-color="#e8e8e8"/><stop offset=".7933" stop-color="#ececec"/><stop offset=".8077" stop-color="#e8e8e8"/><stop offset=".8317" stop-color="#dcdcdc"/><stop offset=".9327" stop-color="#a4a4a4"/><stop offset=".9663" stop-color="#989898"/><stop offset=".9808" stop-color="#8f8f8f"/><stop offset="1" stop-color="#808080"/></linearGradient>
<linearGradient id="c75" gradientUnits="userSpaceOnUse" x1="79.1" x2="131.0" y1="0" y2="0"><stop offset="0" stop-color="#808080"/><stop offset=".0145" stop-color="#737373"/><stop offset=".0289" stop-color="#6a6a6a"/><stop offset=".0578" stop-color="#5f5f5f"/><stop offset=".1349" stop-color="#333"/><stop offset=".1734" stop-color="#202020"/><stop offset=".1927" stop-color="#191919"/><stop offset=".2119" stop-color="#1c1c1c"/><stop offset=".2457" stop-color="#262626"/><stop offset=".5154" stop-color="#7e7e7e"/><stop offset=".5588" stop-color="#878787"/><stop offset=".6166" stop-color="#8b8b8b"/><stop offset=".9971" stop-color="#929292"/></linearGradient>
<linearGradient id="d75" gradientUnits="userSpaceOnUse" x1="221.30" x2="273.3" y1="0" y2="0"><stop offset="0" stop-color="#676767"/><stop offset=".3798" stop-color="#717171"/><stop offset=".4423" stop-color="#767676"/><stop offset=".476" stop-color="#7e7e7e"/><stop offset=".7548" stop-color="#dadada"/><stop offset=".8029" stop-color="#e6e6e6"/><stop offset=".8173" stop-color="#e2e2e2"/><stop offset=".8365" stop-color="#d9d9d9"/><stop offset=".8894" stop-color="#bebebe"/><stop offset=".9423" stop-color="#a0a0a0"/><stop offset=".9712" stop-color="#949494"/><stop offset="1" stop-color="#808080"/></linearGradient>
<linearGradient id="c76" gradientUnits="userSpaceOnUse" x1="79.1" x2="131.0" y1="0" y2="0"><stop offset="0" stop-color="#808080"/><stop offset=".0241" stop-color="#6d6d6d"/><stop offset=".053" stop-color="#616161"/><stop offset=".1156" stop-color="#3e3e3e"/><stop offset=".1686" stop-color="#252525"/><stop offset=".1879" stop-color="#1f1f1f"/><stop offset=".2457" stop-color="#2d2d2d"/><stop offset=".5106" stop-color="#7f7f7f"/><stop offset=".5539" stop-color="#878787"/><stop offset=".6118" stop-color="#8b8b8b"/><stop offset=".9971" stop-color="#929292"/></linearGradient>
<linearGradient id="d76" gradientUnits="userSpaceOnUse" x1="221.30" x2="273.3" y1="0" y2="0"><stop offset="0" stop-color="#676767"/><stop offset=".3846" stop-color="#717171"/><stop offset=".4423" stop-color="#757575"/><stop offset=".4808" stop-color="#7d7d7d"/><stop offset=".7644" stop-color="#d5d5d5"/><stop offset=".8125" stop-color="#e0e0e0"/><stop offset=".8365" stop-color="#d7d7d7"/><stop offset=".8846" stop-color="#c0c0c0"/><stop offset=".9471" stop-color="#9d9d9d"/><stop offset=".976" stop-color="#919191"/><stop offset="1" stop-color="#808080"/></linearGradient>
<linearGradient id="c77" gradientUnits="userSpaceOnUse" x1="79.1" x2="131.0" y1="0" y2="0"><stop offset="0" stop-color="#808080"/><stop offset=".0241" stop-color="#6e6e6e"/><stop offset=".0482" stop-color="#646464"/><stop offset=".106" stop-color="#454545"/><stop offset=".159" stop-color="#2d2d2d"/><stop offset=".183" stop-color="#252525"/><stop offset=".2408" stop-color="#323232"/><stop offset=".5058" stop-color="#7f7f7f"/><stop offset=".5491" stop-color="#888"/><stop offset=".6021" stop-color="#8b8b8b"/><stop offset=".9971" stop-color="#929292"/></linearGradient>
<linearGradient id="d77" gradientUnits="userSpaceOnUse" x1="221.30" x2="273.3" y1="0" y2="0"><stop offset="0" stop-color="#676767"/><stop offset=".3942" stop-color="#727272"/><stop offset=".4519" stop-color="#767676"/><stop offset=".4904" stop-color="#7e7e7e"/><stop offset=".7692" stop-color="#d0d0d0"/><stop offset=".8173" stop-color="#dadada"/><stop offset=".8462" stop-color="#cfcfcf"/><stop offset=".8942" stop-color="#b9b9b9"/><stop offset=".9519" stop-color="#999"/><stop offset=".976" stop-color="#909090"/><stop offset="1" stop-color="#808080"/></linearGradient>
<linearGradient id="c78" gradientUnits="userSpaceOnUse" x1="79.1" x2="131.0" y1="0" y2="0"><stop offset="0" stop-color="#808080"/><stop offset=".0193" stop-color="#727272"/><stop offset=".0434" stop-color="#686868"/><stop offset=".106" stop-color="#494949"/><stop offset=".159" stop-color="#323232"/><stop offset=".183" stop-color="#2b2b2b"/><stop offset=".2408" stop-color="#383838"/><stop offset=".4961" stop-color="#7e7e7e"/><stop offset=".5443" stop-color="#888"/><stop offset=".5973" stop-color="#8b8b8b"/><stop offset=".9971" stop-color="#929292"/></linearGradient>
<linearGradient id="d78" gradientUnits="userSpaceOnUse" x1="221.30" x2="273.3" y1="0" y2="0"><stop offset="0" stop-color="#676767"/><stop offset=".399" stop-color="#727272"/><stop offset=".4567" stop-color="#767676"/><stop offset=".4952" stop-color="#7e7e7e"/><stop offset=".7692" stop-color="#cacaca"/><stop offset=".8173" stop-color="#d4d4d4"/><stop offset=".8413" stop-color="#cdcdcd"/><stop offset=".8894" stop-color="#b8b8b8"/><stop offset=".9519" stop-color="#989898"/><stop offset=".976" stop-color="#8e8e8e"/><stop offset="1" stop-color="#808080"/></linearGradient>
<linearGradient id="c79" gradientUnits="userSpaceOnUse" x1="79.1" x2="131.0" y1="0" y2="0"><stop offset="0" stop-color="#808080"/><stop offset=".0193" stop-color="#737373"/><stop offset=".0434" stop-color="#6a6a6a"/><stop offset=".0963" stop-color="#515151"/><stop offset=".1493" stop-color="#3b3b3b"/><stop offset=".1782" stop-color="#323232"/><stop offset=".2216" stop-color="#393939"/><stop offset=".4913" stop-color="#7f7f7f"/><stop offset=".5347" stop-color="#878787"/><stop offset=".5877" stop-color="#8b8b8b"/><stop offset=".9971" stop-color="#929292"/></linearGradient>
<linearGradient id="d79" gradientUnits="userSpaceOnUse" x1="221.30" x2="273.3" y1="0" y2="0"><stop offset="0" stop-color="#686868"/><stop offset=".4038" stop-color="#727272"/><stop offset=".4615" stop-color="#757575"/><stop offset=".5" stop-color="#7d7d7d"/><stop offset=".7692" stop-color="#c4c4c4"/><stop offset=".8173" stop-color="#cdcdcd"/><stop offset=".8365" stop-color="#c9c9c9"/><stop offset=".8894" stop-color="#b4b4b4"/><stop offset=".976" stop-color="#8d8d8d"/><stop offset="1" stop-color="#808080"/></linearGradient>
<linearGradient id="c80" gradientUnits="userSpaceOnUse" x1="79.1" x2="131.0" y1="0" y2="0"><stop offset="0" stop-color="#808080"/><stop offset=".0193" stop-color="#747474"/><stop offset=".0963" stop-color="#545454"/><stop offset=".1493" stop-color="#414141"/><stop offset=".1782" stop-color="#393939"/><stop offset=".2168" stop-color="#3f3f3f"/><stop offset=".4817" stop-color="#7f7f7f"/><stop offset=".5299" stop-color="#888"/><stop offset=".5829" stop-color="#8a8a8a"/><stop offset=".9971" stop-color="#929292"/></linearGradient>
<linearGradient id="d80" gradientUnits="userSpaceOnUse" x1="221.30" x2="273.3" y1="0" y2="0"><stop offset="0" stop-color="#686868"/><stop offset=".4135" stop-color="#727272"/><stop offset=".4712" stop-color="#767676"/><stop offset=".5048" stop-color="#7c7c7c"/><stop offset=".7692" stop-color="#bdbdbd"/><stop offset=".8173" stop-color="#c6c6c6"/><stop offset=".8365" stop-color="#c2c2c2"/><stop offset=".8894" stop-color="#afafaf"/><stop offset=".976" stop-color="#8c8c8c"/><stop offset="1" stop-color="#808080"/></linearGradient>
<linearGradient id="c81" gradientUnits="userSpaceOnUse" x1="79.1" x2="131.0" y1="0" y2="0"><stop offset="0" stop-color="#808080"/><stop offset=".0193" stop-color="#757575"/><stop offset=".0963" stop-color="#585858"/><stop offset=".1541" stop-color="#464646"/><stop offset=".1782" stop-color="#404040"/><stop offset=".2312" stop-color="#494949"/><stop offset=".4721" stop-color="#7f7f7f"/><stop offset=".525" stop-color="#888"/><stop offset=".9971" stop-color="#929292"/></linearGradient>
<linearGradient id="d81" gradientUnits="userSpaceOnUse" x1="221.30" x2="273.3" y1="0" y2="0"><stop offset="0" stop-color="#686868"/><stop offset=".476" stop-color="#757575"/><stop offset=".5048" stop-color="#7a7a7a"/><stop offset=".774" stop-color="#b7b7b7"/><stop offset=".8221" stop-color="#bfbfbf"/><stop offset=".9038" stop-color="#a6a6a6"/><stop offset=".976" stop-color="#8b8b8b"/><stop offset="1" stop-color="#808080"/></linearGradient>
<linearGradient id="c82" gradientUnits="userSpaceOnUse" x1="79.1" x2="131.0" y1="0" y2="0"><stop offset="0" stop-color="#808080"/><stop offset=".0193" stop-color="#767676"/><stop offset=".0915" stop-color="#5d5d5d"/><stop offset=".1493" stop-color="#4d4d4d"/><stop offset=".1782" stop-color="#474747"/><stop offset=".2168" stop-color="#4d4d4d"/><stop offset=".4624" stop-color="#7f7f7f"/><stop offset=".5154" stop-color="#888"/><stop offset=".9971" stop-color="#929292"/></linearGradient>
<linearGradient id="d82" gradientUnits="userSpaceOnUse" x1="221.30" x2="273.3" y1="0" y2="0"><stop offset="0" stop-color="#686868"/><stop offset=".4808" stop-color="#757575"/><stop offset=".5096" stop-color="#797979"/><stop offset=".774" stop-color="#b1b1b1"/><stop offset=".8221" stop-color="#b8b8b8"/><stop offset=".9087" stop-color="#a1a1a1"/><stop offset=".976" stop-color="#8a8a8a"/><stop offset="1" stop-color="#808080"/></linearGradient>
<linearGradient id="c83" gradientUnits="userSpaceOnUse" x1="79.1" x2="131.0" y1="0" y2="0"><stop offset="0" stop-color="#808080"/><stop offset=".0241" stop-color="#757575"/><stop offset=".0867" stop-color="#626262"/><stop offset=".1493" stop-color="#535353"/><stop offset=".1782" stop-color="#4e4e4e"/><stop offset=".5106" stop-color="#888"/><stop offset=".9971" stop-color="#919191"/></linearGradient>
<linearGradient id="d83" gradientUnits="userSpaceOnUse" x1="221.30" x2="273.3" y1="0" y2="0"><stop offset="0" stop-color="#686868"/><stop offset=".4904" stop-color="#767676"/><stop offset=".7692" stop-color="#aaa"/><stop offset=".8221" stop-color="#b1b1b1"/><stop offset=".9135" stop-color="#9c9c9c"/><stop offset=".976" stop-color="#898989"/><stop offset="1" stop-color="#808080"/></linearGradient>
<linearGradient id="c84" gradientUnits="userSpaceOnUse" x1="79.1" x2="131.0" y1="0" y2="0"><stop offset="0" stop-color="#808080"/><stop offset=".0241" stop-color="#767676"/><stop offset=".0771" stop-color="#676767"/><stop offset=".1734" stop-color="#545454"/><stop offset=".2168" stop-color="#5a5a5a"/><stop offset=".501" stop-color="#888"/><stop offset=".9971" stop-color="#919191"/></linearGradient>
<linearGradient id="d84" gradientUnits="userSpaceOnUse" x1="221.30" x2="273.3" y1="0" y2="0"><stop offset="0" stop-color="#686868"/><stop offset=".5" stop-color="#767676"/><stop offset=".75" stop-color="#a0a0a0"/><stop offset=".8221" stop-color="#ababab"/><stop offset=".9183" stop-color="#989898"/><stop offset=".976" stop-color="#898989"/><stop offset="1" stop-color="#808080"/></linearGradient>
<linearGradient id="c85" gradientUnits="userSpaceOnUse" x1="79.1" x2="131.0" y1="0" y2="0"><stop offset="0" stop-color="#808080"/><stop offset=".0241" stop-color="#767676"/><stop offset=".0723" stop-color="#6b6b6b"/><stop offset=".1734" stop-color="#5a5a5a"/><stop offset=".4913" stop-color="#888"/><stop offset=".9971" stop-color="#919191"/></linearGradient>
<linearGradient id="d85" gradientUnits="userSpaceOnUse" x1="221.30" x2="273.3" y1="0" y2="0"><stop offset="0" stop-color="#686868"/><stop offset=".5048" stop-color="#767676"/><stop offset=".7548" stop-color="#9c9c9c"/><stop offset=".8269" stop-color="#a5a5a5"/><stop offset=".9279" stop-color="#949494"/><stop offset=".976" stop-color="#888"/><stop offset="1" stop-color="#808080"/></linearGradient>
<linearGradient id="c86" gradientUnits="userSpaceOnUse" x1="79.1" x2="131.0" y1="0" y2="0"><stop offset="0" stop-color="#808080"/><stop offset=".0241" stop-color="#777"/><stop offset=".0723" stop-color="#6c6c6c"/><stop offset=".1734" stop-color="#5e5e5e"/><stop offset=".4865" stop-color="#888"/><stop offset=".9971" stop-color="#919191"/></linearGradient>
<linearGradient id="d86" gradientUnits="userSpaceOnUse" x1="221.30" x2="273.3" y1="0" y2="0"><stop offset="0" stop-color="#686868"/><stop offset=".5144" stop-color="#767676"/><stop offset=".6394" stop-color="#898989"/><stop offset=".8269" stop-color="#a1a1a1"/><stop offset=".9279" stop-color="#929292"/><stop offset=".976" stop-color="#888"/><stop offset="1" stop-color="#808080"/></linearGradient>
<linearGradient id="c87" gradientUnits="userSpaceOnUse" x1="79.1" x2="131.0" y1="0" y2="0"><stop offset="0" stop-color="#808080"/><stop offset=".0241" stop-color="#787878"/><stop offset=".0674" stop-color="#6f6f6f"/><stop offset=".1686" stop-color="#626262"/><stop offset=".4769" stop-color="#888"/><stop offset=".9971" stop-color="#919191"/></linearGradient>
<linearGradient id="d87" gradientUnits="userSpaceOnUse" x1="221.30" x2="273.3" y1="0" y2="0"><stop offset="0" stop-color="#686868"/><stop offset=".524" stop-color="#767676"/><stop offset=".5865" stop-color="#808080"/><stop offset=".8269" stop-color="#9d9d9d"/><stop offset=".9279" stop-color="#919191"/><stop offset=".976" stop-color="#878787"/><stop offset="1" stop-color="#808080"/></linearGradient>
<linearGradient id="c88" gradientUnits="userSpaceOnUse" x1="79.1" x2="131.0" y1="0" y2="0"><stop offset="0" stop-color="#808080"/><stop offset=".0241" stop-color="#787878"/><stop offset=".0626" stop-color="#717171"/><stop offset=".1686" stop-color="#666"/><stop offset=".4094" stop-color="#7f7f7f"/><stop offset=".4672" stop-color="#878787"/><stop offset=".9971" stop-color="#919191"/></linearGradient>
<linearGradient id="d88" gradientUnits="userSpaceOnUse" x1="221.30" x2="273.3" y1="0" y2="0"><stop offset="0" stop-color="#686868"/><stop offset=".5288" stop-color="#767676"/><stop offset=".5625" stop-color="#797979"/><stop offset=".5962" stop-color="#808080"/><stop offset=".8269" stop-color="#999"/><stop offset=".9327" stop-color="#8f8f8f"/><stop offset=".976" stop-color="#878787"/><stop offset="1" stop-color="#808080"/></linearGradient>
<linearGradient id="c89" gradientUnits="userSpaceOnUse" x1="79.1" x2="131.0" y1="0" y2="0"><stop offset="0" stop-color="#808080"/><stop offset=".0241" stop-color="#787878"/><stop offset=".0626" stop-color="#727272"/><stop offset=".1686" stop-color="#686868"/><stop offset=".3998" stop-color="#808080"/><stop offset=".4576" stop-color="#878787"/><stop offset=".9971" stop-color="#919191"/></linearGradient>
<linearGradient id="d89" gradientUnits="userSpaceOnUse" x1="221.30" x2="273.3" y1="0" y2="0"><stop offset="0" stop-color="#686868"/><stop offset=".5385" stop-color="#767676"/><stop offset=".5721" stop-color="#797979"/><stop offset=".6058" stop-color="#808080"/><stop offset=".8317" stop-color="#979797"/><stop offset=".9327" stop-color="#8e8e8e"/><stop offset=".9712" stop-color="#878787"/><stop offset="1" stop-color="#808080"/></linearGradient>
<linearGradient id="c90" gradientUnits="userSpaceOnUse" x1="79.1" x2="131.0" y1="0" y2="0"><stop offset="0" stop-color="#808080"/><stop offset=".0241" stop-color="#797979"/><stop offset=".0626" stop-color="#737373"/><stop offset=".1638" stop-color="#6b6b6b"/><stop offset=".3854" stop-color="#7f7f7f"/><stop offset=".4143" stop-color="#848484"/><stop offset=".448" stop-color="#878787"/><stop offset=".9971" stop-color="#919191"/></linearGradient>
<linearGradient id="d90" gradientUnits="userSpaceOnUse" x1="221.30" x2="273.3" y1="0" y2="0"><stop offset="0" stop-color="#696969"/><stop offset=".5529" stop-color="#777"/><stop offset=".6154" stop-color="#808080"/><stop offset=".8317" stop-color="#949494"/><stop offset=".9375" stop-color="#8c8c8c"/><stop offset="1" stop-color="#808080"/></linearGradient>
<linearGradient id="c91" gradientUnits="userSpaceOnUse" x1="79.1" x2="131.0" y1="0" y2="0"><stop offset="0" stop-color="#808080"/><stop offset=".0578" stop-color="#747474"/><stop offset=".1638" stop-color="#6d6d6d"/><stop offset=".3757" stop-color="#7f7f7f"/><stop offset=".4046" stop-color="#848484"/><stop offset=".4383" stop-color="#878787"/><stop offset=".9971" stop-color="#919191"/></linearGradient>
<linearGradient id="d91" gradientUnits="userSpaceOnUse" x1="221.30" x2="273.3" y1="0" y2="0"><stop offset="0" stop-color="#696969"/><stop offset=".5625" stop-color="#777"/><stop offset=".5962" stop-color="#7a7a7a"/><stop offset=".625" stop-color="#808080"/><stop offset=".8317" stop-color="#929292"/><stop offset=".9375" stop-color="#8b8b8b"/><stop offset="1" stop-color="#808080"/></linearGradient>
<linearGradient id="c92" gradientUnits="userSpaceOnUse" x1="79.1" x2="131.0" y1="0" y2="0"><stop offset="0" stop-color="#808080"/><stop offset=".0578" stop-color="#757575"/><stop offset=".1638" stop-color="#6f6f6f"/><stop offset=".3613" stop-color="#7f7f7f"/><stop offset=".3902" stop-color="#848484"/><stop offset=".4239" stop-color="#868686"/><stop offset=".9971" stop-color="#919191"/></linearGradient>
<linearGradient id="d92" gradientUnits="userSpaceOnUse" x1="221.30" x2="273.3" y1="0" y2="0"><stop offset="0" stop-color="#696969"/><stop offset=".5721" stop-color="#777"/><stop offset=".6394" stop-color="#808080"/><stop offset=".8365" stop-color="#909090"/><stop offset=".9375" stop-color="#8a8a8a"/><stop offset="1" stop-color="#808080"/></linearGradient>
<linearGradient id="c93" gradientUnits="userSpaceOnUse" x1="79.1" x2="131.0" y1="0" y2="0"><stop offset="0" stop-color="#808080"/><stop offset=".0578" stop-color="#767676"/><stop offset=".159" stop-color="#717171"/><stop offset=".3468" stop-color="#7e7e7e"/><stop offset=".3757" stop-color="#838383"/><stop offset=".4143" stop-color="#868686"/><stop offset=".9971" stop-color="#919191"/></linearGradient>
<linearGradient id="d93" gradientUnits="userSpaceOnUse" x1="221.30" x2="273.3" y1="0" y2="0"><stop offset="0" stop-color="#696969"/><stop offset=".5865" stop-color="#787878"/><stop offset=".6202" stop-color="#7a7a7a"/><stop offset=".649" stop-color="#7f7f7f"/><stop offset=".8365" stop-color="#8e8e8e"/><stop offset=".9375" stop-color="#898989"/><stop offset="1" stop-color="#808080"/></linearGradient>
<linearGradient id="c94" gradientUnits="userSpaceOnUse" x1="79.1" x2="131.0" y1="0" y2="0"><stop offset="0" stop-color="#808080"/><stop offset=".0578" stop-color="#777"/><stop offset=".159" stop-color="#737373"/><stop offset=".3372" stop-color="#7f7f7f"/><stop offset=".3998" stop-color="#868686"/><stop offset=".9971" stop-color="#919191"/></linearGradient>
<linearGradient id="d94" gradientUnits="userSpaceOnUse" x1="221.30" x2="273.3" y1="0" y2="0"><stop offset="0" stop-color="#696969"/><stop offset=".5962" stop-color="#787878"/><stop offset=".6346" stop-color="#7b7b7b"/><stop offset=".6635" stop-color="#808080"/><stop offset=".8413" stop-color="#8c8c8c"/><stop offset=".9423" stop-color="#888"/><stop offset="1" stop-color="#808080"/></linearGradient>
<linearGradient id="c95" gradientUnits="userSpaceOnUse" x1="79.1" x2="131.0" y1="0" y2="0"><stop offset="0" stop-color="#808080"/><stop offset=".0578" stop-color="#787878"/><stop offset=".159" stop-color="#747474"/><stop offset=".3227" stop-color="#7f7f7f"/><stop offset=".3516" stop-color="#838383"/><stop offset=".3902" stop-color="#868686"/><stop offset=".9971" stop-color="#909090"/></linearGradient>
<linearGradient id="d95" gradientUnits="userSpaceOnUse" x1="221.30" x2="273.3" y1="0" y2="0"><stop offset="0" stop-color="#696969"/><stop offset=".6106" stop-color="#797979"/><stop offset=".649" stop-color="#7b7b7b"/><stop offset=".6779" stop-color="#808080"/><stop offset=".8413" stop-color="#8b8b8b"/><stop offset=".9375" stop-color="#878787"/><stop offset="1" stop-color="#808080"/></linearGradient>
<linearGradient id="c96" gradientUnits="userSpaceOnUse" x1="79.1" x2="131.0" y1="0" y2="0"><stop offset="0" stop-color="#808080"/><stop offset=".0578" stop-color="#797979"/><stop offset=".1541" stop-color="#767676"/><stop offset=".2987" stop-color="#7f7f7f"/><stop offset=".3035" stop-color="#7e7e7e"/><stop offset=".3372" stop-color="#838383"/><stop offset=".3805" stop-color="#858585"/><stop offset=".9971" stop-color="#909090"/></linearGradient>
<linearGradient id="d96" gradientUnits="userSpaceOnUse" x1="221.30" x2="273.3" y1="0" y2="0"><stop offset="0" stop-color="#696969"/><stop offset=".625" stop-color="#797979"/><stop offset=".6635" stop-color="#7c7c7c"/><stop offset=".6923" stop-color="#808080"/><stop offset=".8413" stop-color="#898989"/><stop offset=".9375" stop-color="#868686"/><stop offset="1" stop-color="#808080"/></linearGradient>
<linearGradient id="c97" gradientUnits="userSpaceOnUse" x1="79.1" x2="131.0" y1="0" y2="0"><stop offset="0" stop-color="#808080"/><stop offset=".0578" stop-color="#7a7a7a"/><stop offset=".1541" stop-color="#777"/><stop offset=".2842" stop-color="#7f7f7f"/><stop offset=".289" stop-color="#7e7e7e"/><stop offset=".3227" stop-color="#838383"/><stop offset=".3661" stop-color="#858585"/><stop offset=".9971" stop-color="#909090"/></linearGradient>
<linearGradient id="d97" gradientUnits="userSpaceOnUse" x1="221.30" x2="273.3" y1="0" y2="0"><stop offset="0" stop-color="#696969"/><stop offset=".6346" stop-color="#797979"/><stop offset=".6779" stop-color="#7c7c7c"/><stop offset=".7115" stop-color="#818181"/><stop offset=".8462" stop-color="#888"/><stop offset=".9423" stop-color="#858585"/><stop offset="1" stop-color="#808080"/></linearGradient>
<linearGradient id="c98" gradientUnits="userSpaceOnUse" x1="79.1" x2="131.0" y1="0" y2="0"><stop offset="0" stop-color="#808080"/><stop offset=".0578" stop-color="#7b7b7b"/><stop offset=".1493" stop-color="#787878"/><stop offset=".2649" stop-color="#7f7f7f"/><stop offset=".2697" stop-color="#7e7e7e"/><stop offset=".3035" stop-color="#828282"/><stop offset=".3516" stop-color="#858585"/><stop offset=".9971" stop-color="#909090"/></linearGradient>
<linearGradient id="d98" gradientUnits="userSpaceOnUse" x1="221.30" x2="273.3" y1="0" y2="0"><stop offset="0" stop-color="#696969"/><stop offset=".6538" stop-color="#7a7a7a"/><stop offset=".726" stop-color="#808080"/><stop offset=".8462" stop-color="#878787"/><stop offset=".9423" stop-color="#848484"/><stop offset="1" stop-color="#808080"/></linearGradient>
<linearGradient id="c99" gradientUnits="userSpaceOnUse" x1="79.1" x2="131.0" y1="0" y2="0"><stop offset="0" stop-color="#808080"/><stop offset=".1493" stop-color="#7a7a7a"/><stop offset=".2457" stop-color="#7f7f7f"/><stop offset=".2505" stop-color="#7e7e7e"/><stop offset=".2842" stop-color="#828282"/><stop offset=".3372" stop-color="#848484"/><stop offset=".9971" stop-color="#909090"/></linearGradient>
<linearGradient id="d99" gradientUnits="userSpaceOnUse" x1="221.30" x2="273.3" y1="0" y2="0"><stop offset="0" stop-color="#696969"/><stop offset=".6731" stop-color="#7b7b7b"/><stop offset=".7163" stop-color="#7d7d7d"/><stop offset=".75" stop-color="#818181"/><stop offset=".7548" stop-color="#808080"/><stop offset=".851" stop-color="#858585"/><stop offset="1" stop-color="#808080"/></linearGradient>
<linearGradient id="c100" gradientUnits="userSpaceOnUse" x1="79.1" x2="131.0" y1="0" y2="0"><stop offset="0" stop-color="#808080"/><stop offset=".1445" stop-color="#7b7b7b"/><stop offset=".2216" stop-color="#7f7f7f"/><stop offset=".2264" stop-color="#7d7d7d"/><stop offset=".2601" stop-color="#818181"/><stop offset=".3227" stop-color="#848484"/><stop offset=".9971" stop-color="#909090"/></linearGradient>
<linearGradient id="d100" gradientUnits="userSpaceOnUse" x1="221.30" x2="273.3" y1="0" y2="0"><stop offset="0" stop-color="#696969"/><stop offset=".6971" stop-color="#7b7b7b"/><stop offset=".851" stop-color="#848484"/><stop offset="1" stop-color="#808080"/></linearGradient>
<linearGradient id="c101" gradientUnits="userSpaceOnUse" x1="79.1" x2="131.0" y1="0" y2="0"><stop offset="0" stop-color="#808080"/><stop offset=".1445" stop-color="#7c7c7c"/><stop offset=".1927" stop-color="#7f7f7f"/><stop offset=".1975" stop-color="#7d7d7d"/><stop offset=".2697" stop-color="#828282"/><stop offset=".9971" stop-color="#909090"/></linearGradient>
<linearGradient id="d101" gradientUnits="userSpaceOnUse" x1="221.30" x2="273.3" y1="0" y2="0"><stop offset="0" stop-color="#696969"/><stop offset=".7404" stop-color="#7d7d7d"/><stop offset=".8558" stop-color="#838383"/><stop offset="1" stop-color="#808080"/></linearGradient>
<linearGradient id="c102" gradientUnits="userSpaceOnUse" x1="79.1" x2="131.0" y1="0" y2="0"><stop offset="0" stop-color="#808080"/><stop offset=".1349" stop-color="#7d7d7d"/><stop offset=".159" stop-color="#7f7f7f"/><stop offset=".1638" stop-color="#7d7d7d"/><stop offset=".2264" stop-color="#828282"/><stop offset=".9971" stop-color="#909090"/></linearGradient>
<linearGradient id="d102" gradientUnits="userSpaceOnUse" x1="221.30" x2="273.3" y1="0" y2="0"><stop offset="0" stop-color="#6a6a6a"/><stop offset=".7788" stop-color="#7d7d7d"/><stop offset=".8317" stop-color="#818181"/><stop offset=".8365" stop-color="#808080"/><stop offset=".8606" stop-color="#828282"/><stop offset="1" stop-color="#808080"/></linearGradient>
<linearGradient id="c103" gradientUnits="userSpaceOnUse" x1="79.1" x2="131.0" y1="0" y2="0"><stop offset="0" stop-color="#808080"/><stop offset=".1204" stop-color="#7f7f7f"/><stop offset=".1252" stop-color="#7d7d7d"/><stop offset=".183" stop-color="#818181"/><stop offset=".9971" stop-color="#909090"/></linearGradient>
<linearGradient id="d103" gradientUnits="userSpaceOnUse" x1="221.30" x2="273.3" y1="0" y2="0"><stop offset="0" stop-color="#6a6a6a"/><stop offset=".8221" stop-color="#7e7e7e"/><stop offset=".875" stop-color="#828282"/><stop offset=".8798" stop-color="#808080"/><stop offset="1" stop-color="#808080"/></linearGradient>
<linearGradient id="c104" gradientUnits="userSpaceOnUse" x1="79.1" x2="131.0" y1="0" y2="0"><stop offset="0" stop-color="#808080"/><stop offset=".0674" stop-color="#7f7f7f"/><stop offset=".0723" stop-color="#7c7c7c"/><stop offset=".1301" stop-color="#808080"/><stop offset=".9971" stop-color="#909090"/></linearGradient>
<linearGradient id="d104" gradientUnits="userSpaceOnUse" x1="221.30" x2="273.3" y1="0" y2="0"><stop offset="0" stop-color="#6a6a6a"/><stop offset=".875" stop-color="#7f7f7f"/><stop offset=".9231" stop-color="#828282"/><stop offset=".9279" stop-color="#808080"/><stop offset="1" stop-color="#808080"/></linearGradient>
<linearGradient id="c105" gradientUnits="userSpaceOnUse" x1="79.1" x2="131.0" y1="0" y2="0"><stop offset="0" stop-color="#808080"/><stop offset=".2697" stop-color="#828282"/><stop offset=".9971" stop-color="#909090"/></linearGradient>
<linearGradient id="d105" gradientUnits="userSpaceOnUse" x1="221.30" x2="273.3" y1="0" y2="0"><stop offset="0" stop-color="#6a6a6a"/><stop offset=".7163" stop-color="#7d7d7d"/><stop offset="1" stop-color="#808080"/></linearGradient>
<linearGradient id="c106" gradientUnits="userSpaceOnUse" x1="79.1" x2="131.0" y1="0" y2="0"><stop offset="0" stop-color="#808080"/><stop offset=".2697" stop-color="#828282"/><stop offset=".9971" stop-color="#909090"/></linearGradient>
<linearGradient id="d106" gradientUnits="userSpaceOnUse" x1="221.30" x2="273.3" y1="0" y2="0"><stop offset="0" stop-color="#6a6a6a"/><stop offset=".7163" stop-color="#7d7d7d"/><stop offset="1" stop-color="#808080"/></linearGradient>
<g id="crn" shape-rendering="crispEdges">
<rect x="79.1" y="22.60" width="51.90" height="1.6" fill="url(#c0)"/>
<rect x="221.30" y="22.60" width="52.00" height="1.6" fill="url(#d0)"/>
<rect x="79.1" y="23.60" width="51.90" height="1.6" fill="url(#c1)"/>
<rect x="221.30" y="23.60" width="52.00" height="1.6" fill="url(#d1)"/>
<rect x="79.1" y="24.60" width="51.90" height="1.6" fill="url(#c2)"/>
<rect x="221.30" y="24.60" width="52.00" height="1.6" fill="url(#d2)"/>
<rect x="79.1" y="25.60" width="51.90" height="1.6" fill="url(#c3)"/>
<rect x="221.30" y="25.60" width="52.00" height="1.6" fill="url(#d3)"/>
<rect x="79.1" y="26.60" width="51.90" height="1.6" fill="url(#c4)"/>
<rect x="221.30" y="26.60" width="52.00" height="1.6" fill="url(#d4)"/>
<rect x="79.1" y="27.60" width="51.90" height="1.6" fill="url(#c5)"/>
<rect x="221.30" y="27.60" width="52.00" height="1.6" fill="url(#d5)"/>
<rect x="79.1" y="28.60" width="51.90" height="1.6" fill="url(#c6)"/>
<rect x="221.30" y="28.60" width="52.00" height="1.6" fill="url(#d6)"/>
<rect x="79.1" y="29.60" width="51.90" height="1.6" fill="url(#c7)"/>
<rect x="221.30" y="29.60" width="52.00" height="1.6" fill="url(#d7)"/>
<rect x="79.1" y="30.60" width="51.90" height="1.6" fill="url(#c8)"/>
<rect x="221.30" y="30.60" width="52.00" height="1.6" fill="url(#d8)"/>
<rect x="79.1" y="31.60" width="51.90" height="1.6" fill="url(#c9)"/>
<rect x="221.30" y="31.60" width="52.00" height="1.6" fill="url(#d9)"/>
<rect x="79.1" y="32.60" width="51.90" height="1.6" fill="url(#c10)"/>
<rect x="221.30" y="32.60" width="52.00" height="1.6" fill="url(#d10)"/>
<rect x="79.1" y="33.60" width="51.90" height="1.6" fill="url(#c11)"/>
<rect x="221.30" y="33.60" width="52.00" height="1.6" fill="url(#d11)"/>
<rect x="79.1" y="34.60" width="51.90" height="1.6" fill="url(#c12)"/>
<rect x="221.30" y="34.60" width="52.00" height="1.6" fill="url(#d12)"/>
<rect x="79.1" y="35.60" width="51.90" height="1.6" fill="url(#c13)"/>
<rect x="221.30" y="35.60" width="52.00" height="1.6" fill="url(#d13)"/>
<rect x="79.1" y="36.60" width="51.90" height="1.6" fill="url(#c14)"/>
<rect x="221.30" y="36.60" width="52.00" height="1.6" fill="url(#d14)"/>
<rect x="79.1" y="37.60" width="51.90" height="1.6" fill="url(#c15)"/>
<rect x="221.30" y="37.60" width="52.00" height="1.6" fill="url(#d15)"/>
<rect x="79.1" y="38.60" width="51.90" height="1.6" fill="url(#c16)"/>
<rect x="221.30" y="38.60" width="52.00" height="1.6" fill="url(#d16)"/>
<rect x="79.1" y="39.60" width="51.90" height="1.6" fill="url(#c17)"/>
<rect x="221.30" y="39.60" width="52.00" height="1.6" fill="url(#d17)"/>
<rect x="79.1" y="40.60" width="51.90" height="1.6" fill="url(#c18)"/>
<rect x="221.30" y="40.60" width="52.00" height="1.6" fill="url(#d18)"/>
<rect x="79.1" y="41.60" width="51.90" height="1.6" fill="url(#c19)"/>
<rect x="221.30" y="41.60" width="52.00" height="1.6" fill="url(#d19)"/>
<rect x="79.1" y="42.60" width="51.90" height="1.6" fill="url(#c20)"/>
<rect x="221.30" y="42.60" width="52.00" height="1.6" fill="url(#d20)"/>
<rect x="79.1" y="43.60" width="51.90" height="1.6" fill="url(#c21)"/>
<rect x="221.30" y="43.60" width="52.00" height="1.6" fill="url(#d21)"/>
<rect x="79.1" y="44.60" width="51.90" height="1.6" fill="url(#c22)"/>
<rect x="221.30" y="44.60" width="52.00" height="1.6" fill="url(#d22)"/>
<rect x="79.1" y="45.60" width="51.90" height="1.6" fill="url(#c23)"/>
<rect x="221.30" y="45.60" width="52.00" height="1.6" fill="url(#d23)"/>
<rect x="79.1" y="46.60" width="51.90" height="1.6" fill="url(#c24)"/>
<rect x="221.30" y="46.60" width="52.00" height="1.6" fill="url(#d24)"/>
<rect x="79.1" y="47.60" width="51.90" height="1.6" fill="url(#c25)"/>
<rect x="221.30" y="47.60" width="52.00" height="1.6" fill="url(#d25)"/>
<rect x="79.1" y="48.60" width="51.90" height="1.6" fill="url(#c26)"/>
<rect x="221.30" y="48.60" width="52.00" height="1.6" fill="url(#d26)"/>
<rect x="79.1" y="49.60" width="51.90" height="1.6" fill="url(#c27)"/>
<rect x="221.30" y="49.60" width="52.00" height="1.6" fill="url(#d27)"/>
<rect x="79.1" y="50.60" width="51.90" height="1.6" fill="url(#c28)"/>
<rect x="221.30" y="50.60" width="52.00" height="1.6" fill="url(#d28)"/>
<rect x="79.1" y="51.60" width="51.90" height="1.6" fill="url(#c29)"/>
<rect x="221.30" y="51.60" width="52.00" height="1.6" fill="url(#d29)"/>
<rect x="79.1" y="52.60" width="51.90" height="1.6" fill="url(#c30)"/>
<rect x="221.30" y="52.60" width="52.00" height="1.6" fill="url(#d30)"/>
<rect x="79.1" y="53.60" width="51.90" height="1.6" fill="url(#c31)"/>
<rect x="221.30" y="53.60" width="52.00" height="1.6" fill="url(#d31)"/>
<rect x="79.1" y="54.60" width="51.90" height="1.6" fill="url(#c32)"/>
<rect x="221.30" y="54.60" width="52.00" height="1.6" fill="url(#d32)"/>
<rect x="79.1" y="55.60" width="51.90" height="1.6" fill="url(#c33)"/>
<rect x="221.30" y="55.60" width="52.00" height="1.6" fill="url(#d33)"/>
<rect x="79.1" y="56.60" width="51.90" height="1.6" fill="url(#c34)"/>
<rect x="221.30" y="56.60" width="52.00" height="1.6" fill="url(#d34)"/>
<rect x="79.1" y="57.60" width="51.90" height="1.6" fill="url(#c35)"/>
<rect x="221.30" y="57.60" width="52.00" height="1.6" fill="url(#d35)"/>
<rect x="79.1" y="58.60" width="51.90" height="1.6" fill="url(#c36)"/>
<rect x="221.30" y="58.60" width="52.00" height="1.6" fill="url(#d36)"/>
<rect x="79.1" y="59.60" width="51.90" height="1.6" fill="url(#c37)"/>
<rect x="221.30" y="59.60" width="52.00" height="1.6" fill="url(#d37)"/>
<rect x="79.1" y="60.60" width="51.90" height="1.6" fill="url(#c38)"/>
<rect x="221.30" y="60.60" width="52.00" height="1.6" fill="url(#d38)"/>
<rect x="79.1" y="61.60" width="51.90" height="1.6" fill="url(#c39)"/>
<rect x="221.30" y="61.60" width="52.00" height="1.6" fill="url(#d39)"/>
<rect x="79.1" y="62.60" width="51.90" height="1.6" fill="url(#c40)"/>
<rect x="221.30" y="62.60" width="52.00" height="1.6" fill="url(#d40)"/>
<rect x="79.1" y="63.60" width="51.90" height="1.6" fill="url(#c41)"/>
<rect x="221.30" y="63.60" width="52.00" height="1.6" fill="url(#d41)"/>
<rect x="79.1" y="64.60" width="51.90" height="1.6" fill="url(#c42)"/>
<rect x="221.30" y="64.60" width="52.00" height="1.6" fill="url(#d42)"/>
<rect x="79.1" y="65.60" width="51.90" height="1.6" fill="url(#c43)"/>
<rect x="221.30" y="65.60" width="52.00" height="1.6" fill="url(#d43)"/>
<rect x="79.1" y="66.60" width="51.90" height="1.6" fill="url(#c44)"/>
<rect x="221.30" y="66.60" width="52.00" height="1.6" fill="url(#d44)"/>
<rect x="79.1" y="67.60" width="51.90" height="1.6" fill="url(#c45)"/>
<rect x="221.30" y="67.60" width="52.00" height="1.6" fill="url(#d45)"/>
<rect x="79.1" y="68.60" width="51.90" height="1.6" fill="url(#c46)"/>
<rect x="221.30" y="68.60" width="52.00" height="1.6" fill="url(#d46)"/>
<rect x="79.1" y="69.60" width="51.90" height="1.6" fill="url(#c47)"/>
<rect x="221.30" y="69.60" width="52.00" height="1.6" fill="url(#d47)"/>
<rect x="79.1" y="70.60" width="51.90" height="1.6" fill="url(#c48)"/>
<rect x="221.30" y="70.60" width="52.00" height="1.6" fill="url(#d48)"/>
<rect x="79.1" y="71.60" width="51.90" height="1.6" fill="url(#c49)"/>
<rect x="221.30" y="71.60" width="52.00" height="1.6" fill="url(#d49)"/>
<rect x="79.1" y="72.60" width="51.90" height="1.6" fill="url(#c50)"/>
<rect x="221.30" y="72.60" width="52.00" height="1.6" fill="url(#d50)"/>
<rect x="79.1" y="73.60" width="51.90" height="1.6" fill="url(#c51)"/>
<rect x="221.30" y="73.60" width="52.00" height="1.6" fill="url(#d51)"/>
<rect x="79.1" y="74.60" width="51.90" height="1.6" fill="url(#c52)"/>
<rect x="221.30" y="74.60" width="52.00" height="1.6" fill="url(#d52)"/>
<rect x="79.1" y="75.60" width="51.90" height="1.6" fill="url(#c53)"/>
<rect x="221.30" y="75.60" width="52.00" height="1.6" fill="url(#d53)"/>
<rect x="79.1" y="76.60" width="51.90" height="1.6" fill="url(#c54)"/>
<rect x="221.30" y="76.60" width="52.00" height="1.6" fill="url(#d54)"/>
<rect x="79.1" y="77.60" width="51.90" height="1.6" fill="url(#c55)"/>
<rect x="221.30" y="77.60" width="52.00" height="1.6" fill="url(#d55)"/>
<rect x="79.1" y="78.60" width="51.90" height="1.6" fill="url(#c56)"/>
<rect x="221.30" y="78.60" width="52.00" height="1.6" fill="url(#d56)"/>
<rect x="79.1" y="79.60" width="51.90" height="1.6" fill="url(#c57)"/>
<rect x="221.30" y="79.60" width="52.00" height="1.6" fill="url(#d57)"/>
<rect x="79.1" y="80.60" width="51.90" height="1.6" fill="url(#c58)"/>
<rect x="221.30" y="80.60" width="52.00" height="1.6" fill="url(#d58)"/>
<rect x="79.1" y="81.60" width="51.90" height="1.6" fill="url(#c59)"/>
<rect x="221.30" y="81.60" width="52.00" height="1.6" fill="url(#d59)"/>
<rect x="79.1" y="82.60" width="51.90" height="1.6" fill="url(#c60)"/>
<rect x="221.30" y="82.60" width="52.00" height="1.6" fill="url(#d60)"/>
<rect x="79.1" y="83.60" width="51.90" height="1.6" fill="url(#c61)"/>
<rect x="221.30" y="83.60" width="52.00" height="1.6" fill="url(#d61)"/>
<rect x="79.1" y="84.60" width="51.90" height="1.6" fill="url(#c62)"/>
<rect x="221.30" y="84.60" width="52.00" height="1.6" fill="url(#d62)"/>
<rect x="79.1" y="85.60" width="51.90" height="1.6" fill="url(#c63)"/>
<rect x="221.30" y="85.60" width="52.00" height="1.6" fill="url(#d63)"/>
<rect x="79.1" y="86.60" width="51.90" height="1.6" fill="url(#c64)"/>
<rect x="221.30" y="86.60" width="52.00" height="1.6" fill="url(#d64)"/>
<rect x="79.1" y="87.60" width="51.90" height="1.6" fill="url(#c65)"/>
<rect x="221.30" y="87.60" width="52.00" height="1.6" fill="url(#d65)"/>
<rect x="79.1" y="88.60" width="51.90" height="1.6" fill="url(#c66)"/>
<rect x="221.30" y="88.60" width="52.00" height="1.6" fill="url(#d66)"/>
<rect x="79.1" y="89.60" width="51.90" height="1.6" fill="url(#c67)"/>
<rect x="221.30" y="89.60" width="52.00" height="1.6" fill="url(#d67)"/>
<rect x="79.1" y="90.60" width="51.90" height="1.6" fill="url(#c68)"/>
<rect x="221.30" y="90.60" width="52.00" height="1.6" fill="url(#d68)"/>
<rect x="79.1" y="91.60" width="51.90" height="1.6" fill="url(#c69)"/>
<rect x="221.30" y="91.60" width="52.00" height="1.6" fill="url(#d69)"/>
<rect x="79.1" y="92.60" width="51.90" height="1.6" fill="url(#c70)"/>
<rect x="221.30" y="92.60" width="52.00" height="1.6" fill="url(#d70)"/>
<rect x="79.1" y="93.60" width="51.90" height="1.6" fill="url(#c71)"/>
<rect x="221.30" y="93.60" width="52.00" height="1.6" fill="url(#d71)"/>
<rect x="79.1" y="94.60" width="51.90" height="1.6" fill="url(#c72)"/>
<rect x="221.30" y="94.60" width="52.00" height="1.6" fill="url(#d72)"/>
<rect x="79.1" y="95.60" width="51.90" height="1.6" fill="url(#c73)"/>
<rect x="221.30" y="95.60" width="52.00" height="1.6" fill="url(#d73)"/>
<rect x="79.1" y="96.60" width="51.90" height="1.6" fill="url(#c74)"/>
<rect x="221.30" y="96.60" width="52.00" height="1.6" fill="url(#d74)"/>
<rect x="79.1" y="97.60" width="51.90" height="1.6" fill="url(#c75)"/>
<rect x="221.30" y="97.60" width="52.00" height="1.6" fill="url(#d75)"/>
<rect x="79.1" y="98.60" width="51.90" height="1.6" fill="url(#c76)"/>
<rect x="221.30" y="98.60" width="52.00" height="1.6" fill="url(#d76)"/>
<rect x="79.1" y="99.60" width="51.90" height="1.6" fill="url(#c77)"/>
<rect x="221.30" y="99.60" width="52.00" height="1.6" fill="url(#d77)"/>
<rect x="79.1" y="100.60" width="51.90" height="1.6" fill="url(#c78)"/>
<rect x="221.30" y="100.60" width="52.00" height="1.6" fill="url(#d78)"/>
<rect x="79.1" y="101.60" width="51.90" height="1.6" fill="url(#c79)"/>
<rect x="221.30" y="101.60" width="52.00" height="1.6" fill="url(#d79)"/>
<rect x="79.1" y="102.60" width="51.90" height="1.6" fill="url(#c80)"/>
<rect x="221.30" y="102.60" width="52.00" height="1.6" fill="url(#d80)"/>
<rect x="79.1" y="103.60" width="51.90" height="1.6" fill="url(#c81)"/>
<rect x="221.30" y="103.60" width="52.00" height="1.6" fill="url(#d81)"/>
<rect x="79.1" y="104.60" width="51.90" height="1.6" fill="url(#c82)"/>
<rect x="221.30" y="104.60" width="52.00" height="1.6" fill="url(#d82)"/>
<rect x="79.1" y="105.60" width="51.90" height="1.6" fill="url(#c83)"/>
<rect x="221.30" y="105.60" width="52.00" height="1.6" fill="url(#d83)"/>
<rect x="79.1" y="106.60" width="51.90" height="1.6" fill="url(#c84)"/>
<rect x="221.30" y="106.60" width="52.00" height="1.6" fill="url(#d84)"/>
<rect x="79.1" y="107.60" width="51.90" height="1.6" fill="url(#c85)"/>
<rect x="221.30" y="107.60" width="52.00" height="1.6" fill="url(#d85)"/>
<rect x="79.1" y="108.60" width="51.90" height="1.6" fill="url(#c86)"/>
<rect x="221.30" y="108.60" width="52.00" height="1.6" fill="url(#d86)"/>
<rect x="79.1" y="109.60" width="51.90" height="1.6" fill="url(#c87)"/>
<rect x="221.30" y="109.60" width="52.00" height="1.6" fill="url(#d87)"/>
<rect x="79.1" y="110.60" width="51.90" height="1.6" fill="url(#c88)"/>
<rect x="221.30" y="110.60" width="52.00" height="1.6" fill="url(#d88)"/>
<rect x="79.1" y="111.60" width="51.90" height="1.6" fill="url(#c89)"/>
<rect x="221.30" y="111.60" width="52.00" height="1.6" fill="url(#d89)"/>
<rect x="79.1" y="112.60" width="51.90" height="1.6" fill="url(#c90)"/>
<rect x="221.30" y="112.60" width="52.00" height="1.6" fill="url(#d90)"/>
<rect x="79.1" y="113.60" width="51.90" height="1.6" fill="url(#c91)"/>
<rect x="221.30" y="113.60" width="52.00" height="1.6" fill="url(#d91)"/>
<rect x="79.1" y="114.60" width="51.90" height="1.6" fill="url(#c92)"/>
<rect x="221.30" y="114.60" width="52.00" height="1.6" fill="url(#d92)"/>
<rect x="79.1" y="115.60" width="51.90" height="1.6" fill="url(#c93)"/>
<rect x="221.30" y="115.60" width="52.00" height="1.6" fill="url(#d93)"/>
<rect x="79.1" y="116.60" width="51.90" height="1.6" fill="url(#c94)"/>
<rect x="221.30" y="116.60" width="52.00" height="1.6" fill="url(#d94)"/>
<rect x="79.1" y="117.60" width="51.90" height="1.6" fill="url(#c95)"/>
<rect x="221.30" y="117.60" width="52.00" height="1.6" fill="url(#d95)"/>
<rect x="79.1" y="118.60" width="51.90" height="1.6" fill="url(#c96)"/>
<rect x="221.30" y="118.60" width="52.00" height="1.6" fill="url(#d96)"/>
<rect x="79.1" y="119.60" width="51.90" height="1.6" fill="url(#c97)"/>
<rect x="221.30" y="119.60" width="52.00" height="1.6" fill="url(#d97)"/>
<rect x="79.1" y="120.60" width="51.90" height="1.6" fill="url(#c98)"/>
<rect x="221.30" y="120.60" width="52.00" height="1.6" fill="url(#d98)"/>
<rect x="79.1" y="121.60" width="51.90" height="1.6" fill="url(#c99)"/>
<rect x="221.30" y="121.60" width="52.00" height="1.6" fill="url(#d99)"/>
<rect x="79.1" y="122.60" width="51.90" height="1.6" fill="url(#c100)"/>
<rect x="221.30" y="122.60" width="52.00" height="1.6" fill="url(#d100)"/>
<rect x="79.1" y="123.60" width="51.90" height="1.6" fill="url(#c101)"/>
<rect x="221.30" y="123.60" width="52.00" height="1.6" fill="url(#d101)"/>
<rect x="79.1" y="124.60" width="51.90" height="1.6" fill="url(#c102)"/>
<rect x="221.30" y="124.60" width="52.00" height="1.6" fill="url(#d102)"/>
<rect x="79.1" y="125.60" width="51.90" height="1.6" fill="url(#c103)"/>
<rect x="221.30" y="125.60" width="52.00" height="1.6" fill="url(#d103)"/>
<rect x="79.1" y="126.60" width="51.90" height="1.6" fill="url(#c104)"/>
<rect x="221.30" y="126.60" width="52.00" height="1.6" fill="url(#d104)"/>
<rect x="79.1" y="127.60" width="51.90" height="1.6" fill="url(#c105)"/>
<rect x="221.30" y="127.60" width="52.00" height="1.6" fill="url(#d105)"/>
<rect x="79.1" y="128.60" width="51.90" height="1.6" fill="url(#c106)"/>
<rect x="221.30" y="128.60" width="52.00" height="1.6" fill="url(#d106)"/>
</g>
</defs>
<g filter="url(#jet)">
<rect x="79.1" y="22.6" width="194.20" height="175.00" fill="url(#b0)"/>
<rect x="79.1" y="22.6" width="194.20" height="175.00" fill="url(#b1)" mask="url(#m1)"/>
<rect x="79.1" y="60" width="194.20" height="137.60" fill="url(#b2)" mask="url(#m2)"/>
<rect x="79.1" y="94" width="194.20" height="103.60" fill="url(#b3)" mask="url(#m3)"/>
<rect x="79.1" y="130" width="194.20" height="67.60" fill="url(#b4)" mask="url(#m4)"/>
<rect x="79.1" y="158" width="194.20" height="39.60" fill="url(#b5)" mask="url(#m5)"/>
<use href="#crn"/>
</g>
<g fill="none" stroke="#000" stroke-width="1.25" stroke-linejoin="round">
<path d="M95.5,22.6 94.1,30.2 93.4,33.6 92.6,36.8 91.7,39.9 90.7,42.8 89.7,45.6 88.6,48.1 87.3,51.0 85.8,53.8 84.6,55.7 82.7,58.2 82.2,58.8 81.3,59.5 80.5,59.8 79.1,60.1"/>
<path d="M256.8,22.6 257.4,26.4 258.2,30.5 259.0,33.9 259.9,37.4 260.8,40.6 261.9,43.7 263.0,46.5 264.2,49.4"/>
<path d="M267.3,55.1 269.6,58.2 270.1,58.8 271.0,59.5 271.8,59.8 273.2,60.1"/>
<path d="M104.2,22.6 103.4,28.5 102.5,34.4"/>
<path d="M101.1,41.0 99.2,48.4 96.9,55.8 96.0,58.3 94.1,63.5 93.5,65.0 92.7,66.4 91.2,68.7 89.1,72.0 88.2,73.1 87.4,73.8 85.8,74.9 83.6,76.0 81.8,76.8 79.1,77.5"/>
<path d="M248.1,22.6 248.8,28.1 249.7,34.0"/>
<path d="M251.1,40.7 253.0,48.0 255.4,55.8 256.3,58.3 258.2,63.5 258.8,65.0 259.6,66.4 261.1,68.7 263.2,72.0 264.1,73.1 264.9,73.8 266.5,74.9 268.7,76.0 270.5,76.8 273.2,77.5"/>
<path d="M118.9,22.6 118.6,27.9 118.1,33.7 117.5,39.4 116.9,44.2 114.7,58.7 112.7,68.8"/>
<path d="M111.4,75.5 109.9,82.2 107.5,92.8 106.6,96.2 105.8,99.1 104.7,101.9 103.2,105.3 100.7,110.1 98.8,113.5 96.9,116.4 94.7,119.2 93.0,121.2 90.8,123.1 88.5,124.5 86.7,125.5 84.6,126.5 83.3,126.9 81.7,127.4 79.1,127.9"/>
<path d="M233.4,22.6 233.9,29.8 234.6,38.0 235.3,43.3 236.1,49.5"/>
<path d="M237.2,56.3 237.9,60.6 240.7,74.5 242.8,84.1 245.5,95.7 246.5,99.1 247.6,101.9 249.6,106.3 252.7,112.0 254.7,115.4 257.2,118.8 259.3,121.2 261.5,123.1 263.8,124.5 266.6,126.0"/>
</g>
<path d="M176.05,22.6 V40.4 M176.05,45.2 V125.2 M176.05,130 V196" stroke="#1c3a20" stroke-width="1.4"/>
<line x1="176.05" x2="176.05" y1="195" y2="199.8" stroke="#000" stroke-width="1.4"/>
<line x1="78.75" x2="78.75" y1="22.3" y2="60.6" stroke="#222" stroke-width="1.15"/>
<line x1="78.95" x2="78.95" y1="60.6" y2="77.3" stroke="#fff" stroke-width="1.3"/>
<line x1="79.15" x2="79.15" y1="77.2" y2="199.8" stroke="#000" stroke-width="1.5"/>
<line x1="273.4" x2="273.4" y1="22.3" y2="199.8" stroke="#000" stroke-width="1.3"/>
<line x1="78.2" x2="274" y1="22.400000000000002" y2="22.400000000000002" stroke="#555" stroke-width="0.6" opacity="0.7"/>
<rect x="80" y="197.5" width="192.7" height="1.9" fill="#fff"/>
<rect x="80" y="199.3" width="192.7" height="1.2" fill="#d9d9d9"/>
<circle cx="91.4" cy="93.6" r="2.5" fill="#fff"/>
<circle cx="127.55" cy="93.6" r="2.5" fill="#fff"/>
<circle cx="164.1" cy="93.6" r="2.5" fill="#fff"/>
<circle cx="188.4" cy="93.6" r="2.5" fill="#fff"/>
<circle cx="224.65" cy="93.6" r="2.5" fill="#fff"/>
<circle cx="261.9" cy="93.6" r="2.5" fill="#fff"/>
<circle cx="91.4" cy="164.55" r="2.5" fill="#fff"/>
<circle cx="127.55" cy="164.55" r="2.5" fill="#fff"/>
<circle cx="164.1" cy="164.55" r="2.5" fill="#fff"/>
<circle cx="188.4" cy="164.55" r="2.5" fill="#fff"/>
<circle cx="224.65" cy="164.55" r="2.5" fill="#fff"/>
<circle cx="261.9" cy="164.55" r="2.5" fill="#fff"/>
<ellipse transform="translate(269.2,128.4) rotate(35)" rx="1.9" ry="1.35" fill="none" stroke="#1f2f1c" stroke-width="0.85"/>
<ellipse transform="translate(79.4,41.7) rotate(0)" rx="1.9" ry="1.35" fill="none" stroke="#1f2f1c" stroke-width="0.85"/>
<ellipse transform="translate(102.2,37.9) rotate(25)" rx="1.9" ry="1.35" fill="none" stroke="#1f2f1c" stroke-width="0.85"/>
<ellipse transform="translate(111.7,71.9) rotate(25)" rx="1.9" ry="1.35" fill="none" stroke="#1f2f1c" stroke-width="0.85"/>
<ellipse transform="translate(79.4,112.6) rotate(0)" rx="1.9" ry="1.35" fill="none" stroke="#1f2f1c" stroke-width="0.85"/>
<ellipse transform="translate(176.1,42.8) rotate(0)" rx="1.9" ry="1.35" fill="none" stroke="#1f2f1c" stroke-width="0.85"/>
<ellipse transform="translate(176.1,127.6) rotate(0)" rx="1.9" ry="1.35" fill="none" stroke="#1f2f1c" stroke-width="0.85"/>
<ellipse transform="translate(236.9,52.9) rotate(-25)" rx="1.9" ry="1.35" fill="none" stroke="#1f2f1c" stroke-width="0.85"/>
<ellipse transform="translate(250.3,37.4) rotate(-25)" rx="1.9" ry="1.35" fill="none" stroke="#1f2f1c" stroke-width="0.85"/>
<ellipse transform="translate(264.6,52.9) rotate(-35)" rx="1.9" ry="1.35" fill="none" stroke="#1f2f1c" stroke-width="0.85"/>
<text x="73.7" y="206.70" text-anchor="end" font-family="Liberation Serif, serif" font-size="20" fill="#222" stroke="#222" stroke-width="0.25">0</text>
<text x="73.7" y="171.50" text-anchor="end" font-family="Liberation Serif, serif" font-size="20" fill="#222" stroke="#222" stroke-width="0.25">0.02</text>
<text x="73.7" y="136.30" text-anchor="end" font-family="Liberation Serif, serif" font-size="20" fill="#222" stroke="#222" stroke-width="0.25">0.04</text>
<text x="73.7" y="101.10" text-anchor="end" font-family="Liberation Serif, serif" font-size="20" fill="#222" stroke="#222" stroke-width="0.25">0.06</text>
<text x="73.7" y="65.90" text-anchor="end" font-family="Liberation Serif, serif" font-size="20" fill="#222" stroke="#222" stroke-width="0.25">0.08</text>
<text x="73.7" y="30.70" text-anchor="end" font-family="Liberation Serif, serif" font-size="20" fill="#222" stroke="#222" stroke-width="0.25">0.1</text>
<text transform="translate(84.20,216.60) rotate(-30)" text-anchor="end" y="6.5" font-family="Liberation Serif, serif" font-size="20" fill="#222" stroke="#222" stroke-width="0.25">0</text>
<text transform="translate(132.60,216.60) rotate(-30)" text-anchor="end" y="6.5" font-family="Liberation Serif, serif" font-size="20" fill="#222" stroke="#222" stroke-width="0.25">π/2</text>
<text transform="translate(180.80,216.60) rotate(-30)" text-anchor="end" y="6.5" font-family="Liberation Serif, serif" font-size="20" fill="#222" stroke="#222" stroke-width="0.25">π</text>
<text transform="translate(229.30,216.60) rotate(-30)" text-anchor="end" y="6.5" font-family="Liberation Serif, serif" font-size="20" fill="#222" stroke="#222" stroke-width="0.25">3π/2</text>
<text transform="translate(277.90,216.60) rotate(-30)" text-anchor="end" y="6.5" font-family="Liberation Serif, serif" font-size="20" fill="#222" stroke="#222" stroke-width="0.25">2π</text>
<text x="176.5" y="262" text-anchor="middle" font-family="Liberation Serif, serif" font-style="italic" font-size="21" fill="#222">ϕ</text>
<g transform="rotate(-90)" font-family="Liberation Serif, serif" font-weight="bold" fill="#222"><text x="-139.1" y="24.8" font-size="22.5" textLength="31.4" lengthAdjust="spacingAndGlyphs">Γ/T</text><text x="-104.0" y="31.9" font-size="14.5" textLength="13" lengthAdjust="spacingAndGlyphs">c0</text><text x="-104.8" y="14.3" font-size="15.5" textLength="21" lengthAdjust="spacingAndGlyphs">(m)</text></g>
<text x="246.5" y="189.5" font-family="Liberation Serif, serif" font-weight="bold" font-size="20.5" fill="#fff">(a)</text>
<linearGradient id="cbg" x1="0" x2="0" y1="1" y2="0"><stop offset="0" stop-color="#000080"/><stop offset=".125" stop-color="#00f"/><stop offset=".375" stop-color="#0ff"/><stop offset=".625" stop-color="#ff0"/><stop offset=".875" stop-color="#f00"/><stop offset="1" stop-color="#800000"/></linearGradient>
<rect x="288.6" y="23.2" width="10.2" height="176.6" fill="url(#cbg)" stroke="#555" stroke-width="0.6"/>
<line x1="296.6" x2="298.8" y1="23.30" y2="23.30" stroke="#333" stroke-width="0.8"/>
<text x="304" y="30.20" font-family="Liberation Serif, serif" font-size="20" fill="#222" stroke="#222" stroke-width="0.25">0.3</text>
<line x1="296.6" x2="298.8" y1="82.13" y2="82.13" stroke="#333" stroke-width="0.8"/>
<text x="304" y="89.03" font-family="Liberation Serif, serif" font-size="20" fill="#222" stroke="#222" stroke-width="0.25">0.1</text>
<line x1="296.6" x2="298.8" y1="140.96" y2="140.96" stroke="#333" stroke-width="0.8"/>
<text x="304" y="147.86" font-family="Liberation Serif, serif" font-size="20" fill="#222" stroke="#222" stroke-width="0.25">-0.1</text>
<line x1="296.6" x2="298.8" y1="199.79" y2="199.79" stroke="#333" stroke-width="0.8"/>
<text x="304" y="206.69" font-family="Liberation Serif, serif" font-size="20" fill="#222" stroke="#222" stroke-width="0.25">-0.3</text>
<clipPath id="cb"><rect x="401.5" y="19.8" width="251.0" height="171.79999999999998"/></clipPath>
<line x1="433.50" x2="433.50" y1="19.8" y2="191.6" stroke="#eeeeee" stroke-width="1"/>
<line x1="464.50" x2="464.50" y1="19.8" y2="191.6" stroke="#eeeeee" stroke-width="1"/>
<line x1="496.50" x2="496.50" y1="19.8" y2="191.6" stroke="#eeeeee" stroke-width="1"/>
<line x1="527.50" x2="527.50" y1="19.8" y2="191.6" stroke="#eeeeee" stroke-width="1"/>
<line x1="558.50" x2="558.50" y1="19.8" y2="191.6" stroke="#eeeeee" stroke-width="1"/>
<line x1="590.50" x2="590.50" y1="19.8" y2="191.6" stroke="#eeeeee" stroke-width="1"/>
<line x1="621.50" x2="621.50" y1="19.8" y2="191.6" stroke="#eeeeee" stroke-width="1"/>
<line x1="401.5" x2="652.5" y1="148.50" y2="148.50" stroke="#eeeeee" stroke-width="1"/>
<line x1="401.5" x2="652.5" y1="105.50" y2="105.50" stroke="#eeeeee" stroke-width="1"/>
<line x1="401.5" x2="652.5" y1="62.50" y2="62.50" stroke="#eeeeee" stroke-width="1"/>
<g clip-path="url(#cb)" fill="none" stroke-width="1.9" stroke-linejoin="round">
<path d="M401.6,104.6 411.8,104.7 422.0,105.0 434.1,105.6 438.9,106.0 445.9,106.9 448.4,107.3 450.9,107.9 455.2,109.1 458.8,110.5 460.0,111.0 460.7,111.2 461.2,111.1 461.7,110.9 462.1,110.6 462.4,110.2 462.8,109.4 463.5,107.6 464.3,104.6 465.1,107.6 465.8,109.4 466.2,110.2 466.5,110.6 466.9,110.9 467.4,111.1 467.9,111.2 468.6,111.0 472.5,109.4 474.2,108.8 478.7,107.7 482.9,106.9 488.4,106.1 492.9,105.7 499.4,105.3 506.7,105.0 513.6,104.8 520.4,104.7 527.2,104.6 534.0,104.7 540.9,104.8 547.8,105.0 554.8,105.3 561.2,105.7 565.0,106.0 569.7,106.6 572.4,107.1 575.2,107.6 577.9,108.3 580.6,109.0 584.3,110.5 585.5,111.0 586.2,111.2 586.7,111.1 587.2,110.9 587.6,110.6 587.9,110.2 588.3,109.4 589.0,107.6 589.8,104.6 590.6,107.6 591.3,109.4 591.7,110.2 592.0,110.6 592.4,110.9 592.9,111.1 593.4,111.2 594.1,111.0 595.3,110.5 598.9,109.1 603.2,107.9 605.7,107.3 608.2,106.9 615.2,106.0 620.0,105.6 632.1,105.0 642.3,104.7 652.5,104.6" stroke="#000000"/>
<path d="M401.6,106.4 411.8,106.3 422.0,106.0 434.1,105.4 438.9,105.0 445.9,104.1 448.4,103.7 450.9,103.1 455.2,101.9 458.8,100.5 460.0,100.0 460.7,99.8 461.2,99.9 461.7,100.1 462.1,100.4 462.4,100.8 462.8,101.6 463.5,103.4 464.3,106.4 465.1,103.4 465.8,101.6 466.2,100.8 466.5,100.4 466.9,100.1 467.4,99.9 467.9,99.8 468.6,100.0 472.5,101.6 474.2,102.2 478.7,103.3 482.9,104.1 488.4,104.9 492.9,105.3 499.4,105.7 506.7,106.0 513.6,106.2 520.4,106.3 527.2,106.4 534.0,106.3 540.9,106.2 547.8,106.0 554.8,105.7 561.2,105.3 565.0,105.0 569.7,104.4 572.4,103.9 575.2,103.4 577.9,102.7 580.6,102.0 584.3,100.5 585.5,100.0 586.2,99.8 586.7,99.9 587.2,100.1 587.6,100.4 587.9,100.8 588.3,101.6 589.0,103.4 589.8,106.4 590.6,103.4 591.3,101.6 591.7,100.8 592.0,100.4 592.4,100.1 592.9,99.9 593.4,99.8 594.1,100.0 595.3,100.5 598.9,101.9 603.2,103.1 605.7,103.7 608.2,104.1 615.2,105.0 620.0,105.4 632.1,106.0 642.3,106.3 652.5,106.4" stroke="#000000" stroke-dasharray="1.7 1.6"/>
<path d="M401.6,99.9 405.5,100.0 409.5,100.3 413.5,100.7 417.4,101.3 420.9,102.0 424.5,102.9 428.7,104.1 432.9,105.5 434.1,105.7 435.4,106.0 436.9,106.5 438.6,107.2 440.9,108.3 442.1,109.0 443.5,109.8 444.8,110.8 446.1,112.0 447.5,113.3 448.8,114.7 449.9,116.2 451.2,118.2 452.4,120.4 453.7,122.9 454.6,125.1 455.6,127.6 456.5,130.3 457.5,134.3 458.5,139.5 459.5,145.6 460.7,154.9 461.4,159.6 461.7,161.0 461.8,161.4 461.9,161.5 462.0,161.4 462.2,161.0 462.5,159.0 462.8,156.0 463.0,152.5 464.3,105.5 465.6,152.5 465.8,156.0 466.1,159.0 466.4,161.0 466.6,161.4 466.7,161.5 466.8,161.4 466.9,161.0 467.2,159.6 467.9,154.9 469.1,145.6 470.1,139.5 471.1,134.3 472.1,130.3 473.0,127.6 474.0,125.1 474.9,122.9 476.2,120.4 477.4,118.2 478.7,116.2 479.8,114.7 481.1,113.3 482.5,112.0 483.8,110.8 485.1,109.8 486.5,109.0 487.7,108.3 490.0,107.2 491.7,106.5 493.2,106.0 494.5,105.7 495.7,105.5 499.9,104.1 504.1,102.9 507.7,102.0 511.2,101.3 515.2,100.7 519.1,100.3 523.1,100.0 527.0,99.9 531.0,100.0 535.0,100.3 538.9,100.7 542.9,101.3 546.4,102.0 550.0,102.9 554.2,104.1 558.4,105.5 559.6,105.7 560.9,106.0 562.4,106.5 564.1,107.2 566.4,108.3 567.6,109.0 569.0,109.8 570.3,110.8 571.6,112.0 573.0,113.3 574.3,114.7 575.4,116.2 576.7,118.2 577.9,120.4 579.2,122.9 580.1,125.1 581.1,127.6 582.0,130.3 583.0,134.3 584.0,139.5 585.0,145.6 586.2,154.9 586.9,159.6 587.2,161.0 587.3,161.4 587.4,161.5 587.5,161.4 587.7,161.0 588.0,159.0 588.3,156.0 588.5,152.5 589.8,105.5 591.1,152.5 591.3,156.0 591.6,159.0 591.9,161.0 592.1,161.4 592.2,161.5 592.3,161.4 592.4,161.0 592.7,159.6 593.4,154.9 594.6,145.6 595.6,139.5 596.6,134.3 597.6,130.3 598.5,127.6 599.5,125.1 600.4,122.9 601.7,120.4 602.9,118.2 604.2,116.2 605.3,114.7 606.6,113.3 608.0,112.0 609.3,110.8 610.6,109.8 612.0,109.0 613.2,108.3 615.5,107.2 617.2,106.5 618.7,106.0 620.0,105.7 621.2,105.5 625.4,104.1 629.6,102.9 633.2,102.0 636.7,101.3 640.7,100.7 644.6,100.3 648.6,100.0 652.5,99.9" stroke="#00ff00"/>
<path d="M401.6,111.1 405.5,111.0 409.5,110.7 413.4,110.3 417.4,109.7 420.9,109.0 424.5,108.1 428.7,106.9 432.9,105.5 434.1,105.3 435.4,105.0 436.9,104.5 438.6,103.8 440.9,102.7 442.1,102.0 443.5,101.2 444.8,100.2 446.1,99.0 447.5,97.7 448.8,96.3 449.9,94.8 451.2,92.8 452.4,90.6 453.7,88.1 454.6,85.9 455.6,83.4 456.5,80.7 457.5,76.7 458.5,71.5 459.5,65.4 460.7,56.1 461.4,51.4 461.7,50.0 461.8,49.6 461.9,49.5 462.0,49.6 462.2,50.0 462.5,52.0 462.8,55.0 463.0,58.5 464.3,105.5 465.6,58.5 465.8,55.0 466.1,52.0 466.4,50.0 466.6,49.6 466.7,49.5 466.8,49.6 466.9,50.0 467.2,51.4 467.9,56.1 469.1,65.4 470.1,71.5 471.1,76.7 472.1,80.7 473.0,83.4 474.0,85.9 474.9,88.1 476.2,90.6 477.4,92.8 478.7,94.8 479.8,96.3 481.1,97.7 482.5,99.0 483.8,100.2 485.1,101.2 486.5,102.0 487.7,102.7 490.0,103.8 491.7,104.5 493.2,105.0 494.5,105.3 495.7,105.5 499.9,106.9 504.1,108.1 507.7,109.0 511.2,109.7 515.1,110.3 519.1,110.7 523.1,111.0 527.0,111.1 531.0,111.0 535.0,110.7 539.0,110.3 542.9,109.7 546.4,109.0 550.0,108.1 554.2,106.9 558.4,105.5 559.6,105.3 560.9,105.0 562.4,104.5 564.1,103.8 566.4,102.7 567.6,102.0 569.0,101.2 570.3,100.2 571.6,99.0 573.0,97.7 574.3,96.3 575.4,94.8 576.7,92.8 577.9,90.6 579.2,88.1 580.1,85.9 581.1,83.4 582.0,80.7 583.0,76.7 584.0,71.5 585.0,65.4 586.2,56.1 586.9,51.4 587.2,50.0 587.3,49.6 587.4,49.5 587.5,49.6 587.7,50.0 588.0,52.0 588.3,55.0 588.5,58.5 589.8,105.5 591.1,58.5 591.3,55.0 591.6,52.0 591.9,50.0 592.1,49.6 592.2,49.5 592.3,49.6 592.4,50.0 592.7,51.4 593.4,56.1 594.6,65.4 595.6,71.5 596.6,76.7 597.6,80.7 598.5,83.4 599.5,85.9 600.4,88.1 601.7,90.6 602.9,92.8 604.2,94.8 605.3,96.3 606.6,97.7 608.0,99.0 609.3,100.2 610.6,101.2 612.0,102.0 613.2,102.7 615.5,103.8 617.2,104.5 618.7,105.0 620.0,105.3 621.2,105.5 625.4,106.9 629.6,108.1 633.2,109.0 636.7,109.7 640.6,110.3 644.6,110.7 648.6,111.0 652.5,111.1" stroke="#00ff00" stroke-dasharray="1.7 1.6"/>
<path d="M401.6,66.4 403.2,66.5 404.9,66.9 406.6,67.4 408.3,68.2 410.0,69.2 411.6,70.4 413.2,71.8 414.9,73.5 416.6,75.4 418.3,77.6 420.0,79.9 421.6,82.4 423.3,85.1 425.0,88.2 426.7,91.4 428.3,94.9 430.6,99.9 432.9,105.5 436.9,119.3 438.8,126.3 440.5,133.2 441.3,136.9 443.2,145.9 444.0,149.5 449.3,169.3 450.4,172.3 451.2,174.2 451.5,174.6 452.3,175.5 452.6,175.8 453.0,175.9 453.3,175.9 453.7,175.6 454.7,174.4 455.3,173.2 456.0,171.3 457.0,168.1 457.8,164.7 458.7,160.9 459.4,156.6 460.0,151.5 461.9,133.0 463.1,119.8 464.3,105.5 465.5,119.8 466.7,133.6 468.6,152.1 469.3,157.0 470.1,161.5 470.9,165.2 471.8,168.5 473.0,172.2 473.6,173.9 474.0,174.5 474.3,175.0 474.8,175.5 475.2,175.8 475.6,175.9 475.9,175.9 476.3,175.5 476.9,174.9 477.3,174.4 477.7,173.7 478.9,170.7 479.7,168.0 481.7,160.3 483.8,152.6 484.8,148.7 485.6,145.0 487.6,135.2 489.7,126.8 491.7,119.1 495.7,105.5 497.8,100.4 499.9,95.6 502.1,91.2 504.1,87.2 506.0,84.0 508.0,80.9 509.9,78.1 511.8,75.6 513.7,73.4 515.6,71.6 517.5,70.0 519.5,68.7 521.4,67.7 523.3,67.0 525.3,66.5 527.2,66.4 529.1,66.6 531.0,67.0 532.9,67.8 534.8,68.8 536.3,69.8 537.7,70.9 539.2,72.2 540.6,73.7 542.0,75.3 543.5,77.1 544.9,79.1 546.4,81.2 547.8,83.5 549.3,86.0 552.1,91.4 555.0,97.5 557.9,104.3 558.4,105.5 559.8,110.2 562.5,119.5 564.1,125.6 566.4,134.9 568.5,145.3 569.3,149.0 570.3,152.9 572.4,160.1 574.6,168.5 575.4,171.0 576.1,173.0 576.6,174.1 576.9,174.6 577.8,175.5 578.1,175.8 578.5,175.9 578.8,175.9 579.2,175.6 580.2,174.4 580.8,173.2 581.5,171.3 582.5,168.1 583.3,164.7 584.2,160.9 584.9,156.6 585.5,151.5 587.4,133.0 588.6,119.8 589.8,105.5 591.1,120.6 592.3,134.3 594.1,152.1 594.5,155.3 594.8,157.4 595.6,161.8 596.5,165.5 597.4,168.9 598.6,172.6 599.3,174.3 600.2,175.3 600.5,175.7 600.9,175.9 601.2,175.9 601.5,175.8 602.0,175.4 602.7,174.6 603.2,173.6 604.4,170.7 605.2,167.8 607.2,160.3 609.3,152.6 610.3,148.7 611.1,145.0 613.1,135.2 615.2,126.8 617.2,119.1 621.2,105.5 623.4,100.2 625.6,95.3 627.3,91.8 629.0,88.5 630.7,85.5 632.3,82.6 634.0,80.0 635.7,77.7 637.4,75.6 639.1,73.6 640.8,71.9 642.4,70.5 644.1,69.3 645.8,68.2 647.5,67.4 649.2,66.9 650.9,66.5 652.5,66.4" stroke="#ff0000"/>
<path d="M401.6,144.6 403.2,144.5 404.9,144.1 406.6,143.6 408.3,142.8 409.9,141.8 411.6,140.6 413.2,139.2 414.9,137.5 416.6,135.6 418.2,133.5 419.9,131.2 421.6,128.6 423.3,125.9 425.0,122.8 426.7,119.6 428.3,116.1 430.6,111.1 432.9,105.5 436.9,91.7 438.8,84.7 440.5,77.8 441.3,74.1 443.2,65.1 444.0,61.5 449.3,41.7 450.4,38.7 451.2,36.8 451.5,36.4 452.3,35.5 452.6,35.2 453.0,35.1 453.3,35.1 453.7,35.4 454.7,36.6 455.3,37.8 456.0,39.7 457.0,42.9 457.8,46.3 458.7,50.1 459.4,54.4 460.0,59.5 461.9,78.0 463.1,91.2 464.3,105.5 465.6,90.4 466.8,76.7 468.6,58.9 469.0,55.7 469.3,53.6 470.1,49.2 471.0,45.5 471.9,42.1 473.1,38.4 473.8,36.7 474.7,35.7 475.0,35.3 475.4,35.1 475.7,35.1 476.0,35.2 476.5,35.6 477.2,36.4 477.7,37.4 478.9,40.3 479.7,43.2 481.7,50.7 483.8,58.4 484.8,62.3 485.6,66.0 487.6,75.8 489.7,84.2 491.7,91.9 495.7,105.5 497.9,110.8 500.1,115.7 501.8,119.2 503.5,122.5 505.2,125.5 506.8,128.4 508.5,131.0 510.2,133.4 511.9,135.4 513.6,137.4 515.3,139.1 516.9,140.5 518.6,141.7 520.3,142.8 522.0,143.6 523.7,144.1 525.4,144.5 527.0,144.6 528.7,144.5 530.4,144.1 532.1,143.6 533.8,142.8 535.5,141.7 537.2,140.5 538.8,139.1 540.5,137.4 542.2,135.4 543.9,133.3 545.6,130.9 547.3,128.4 548.9,125.5 550.6,122.5 552.3,119.2 554.0,115.7 556.2,110.8 558.4,105.5 562.4,91.9 564.4,84.2 566.5,75.8 568.5,66.0 569.3,62.3 570.3,58.4 572.4,50.7 574.4,43.2 575.2,40.3 576.4,37.4 576.9,36.4 577.6,35.6 578.1,35.2 578.4,35.1 578.7,35.1 579.1,35.3 579.4,35.7 580.3,36.7 581.0,38.4 582.2,42.1 583.1,45.5 584.0,49.2 584.8,53.6 585.1,55.7 585.5,58.9 587.3,76.7 588.5,90.4 589.8,105.5 591.1,90.4 592.3,76.7 594.1,58.9 594.5,55.7 594.8,53.6 595.6,49.2 596.5,45.5 597.3,42.3 598.5,38.6 599.3,36.8 600.0,35.8 600.5,35.4 600.8,35.1 601.2,35.1 601.5,35.2 601.8,35.4 602.2,35.9 602.7,36.5 603.0,37.1 603.9,39.2 604.9,41.9 610.1,61.5 610.9,65.1 612.8,74.1 613.5,77.5 615.2,84.4 617.1,91.5 621.2,105.5 623.4,110.8 625.6,115.7 627.3,119.2 629.0,122.5 630.7,125.5 632.3,128.4 634.0,131.0 635.7,133.3 637.4,135.4 639.1,137.4 640.8,139.1 642.4,140.5 644.1,141.7 645.8,142.8 647.5,143.6 649.2,144.1 650.9,144.5 652.5,144.6" stroke="#ff0000" stroke-dasharray="1.7 1.6"/>
</g>
<rect x="401.5" y="19.8" width="251.00" height="171.80" fill="none" stroke="#8a8a8a" stroke-width="1"/>
<path d="M401.50,191.6 v-2.6 M401.50,19.8 v2.6" stroke="#6a6a6a" stroke-width="1"/>
<path d="M433.50,191.6 v-2.6 M433.50,19.8 v2.6" stroke="#6a6a6a" stroke-width="1"/>
<path d="M464.50,191.6 v-2.6 M464.50,19.8 v2.6" stroke="#6a6a6a" stroke-width="1"/>
<path d="M496.50,191.6 v-2.6 M496.50,19.8 v2.6" stroke="#6a6a6a" stroke-width="1"/>
<path d="M527.50,191.6 v-2.6 M527.50,19.8 v2.6" stroke="#6a6a6a" stroke-width="1"/>
<path d="M558.50,191.6 v-2.6 M558.50,19.8 v2.6" stroke="#6a6a6a" stroke-width="1"/>
<path d="M590.50,191.6 v-2.6 M590.50,19.8 v2.6" stroke="#6a6a6a" stroke-width="1"/>
<path d="M621.50,191.6 v-2.6 M621.50,19.8 v2.6" stroke="#6a6a6a" stroke-width="1"/>
<path d="M652.50,191.6 v-2.6 M652.50,19.8 v2.6" stroke="#6a6a6a" stroke-width="1"/>
<path d="M401.5,191.60 h2.6 M652.5,191.60 h-2.6" stroke="#6a6a6a" stroke-width="1"/>
<path d="M401.5,148.50 h2.6 M652.5,148.50 h-2.6" stroke="#6a6a6a" stroke-width="1"/>
<path d="M401.5,105.50 h2.6 M652.5,105.50 h-2.6" stroke="#6a6a6a" stroke-width="1"/>
<path d="M401.5,62.50 h2.6 M652.5,62.50 h-2.6" stroke="#6a6a6a" stroke-width="1"/>
<path d="M401.5,19.80 h2.6 M652.5,19.80 h-2.6" stroke="#6a6a6a" stroke-width="1"/>
<text x="397.20" y="198.70" text-anchor="end" font-family="Liberation Serif, serif" font-size="18.5" fill="#222" stroke="#222" stroke-width="0.25">-0.4</text>
<text x="397.20" y="155.75" text-anchor="end" font-family="Liberation Serif, serif" font-size="18.5" fill="#222" stroke="#222" stroke-width="0.25">-0.2</text>
<text x="397.20" y="112.80" text-anchor="end" font-family="Liberation Serif, serif" font-size="18.5" fill="#222" stroke="#222" stroke-width="0.25">0</text>
<text x="397.20" y="69.85" text-anchor="end" font-family="Liberation Serif, serif" font-size="18.5" fill="#222" stroke="#222" stroke-width="0.25">0.2</text>
<text x="397.20" y="26.90" text-anchor="end" font-family="Liberation Serif, serif" font-size="18.5" fill="#222" stroke="#222" stroke-width="0.25">0.4</text>
<text transform="translate(409.35,203.30) rotate(-45)" text-anchor="end" y="6.1" font-family="Liberation Serif, serif" font-size="18.5" fill="#222" stroke="#222" stroke-width="0.25">-1</text>
<text transform="translate(440.73,203.30) rotate(-45)" text-anchor="end" y="6.1" font-family="Liberation Serif, serif" font-size="18.5" fill="#222" stroke="#222" stroke-width="0.25">-0.75</text>
<text transform="translate(472.10,203.30) rotate(-45)" text-anchor="end" y="6.1" font-family="Liberation Serif, serif" font-size="18.5" fill="#222" stroke="#222" stroke-width="0.25">-0.5</text>
<text transform="translate(503.48,203.30) rotate(-45)" text-anchor="end" y="6.1" font-family="Liberation Serif, serif" font-size="18.5" fill="#222" stroke="#222" stroke-width="0.25">-0.25</text>
<text transform="translate(534.85,203.30) rotate(-45)" text-anchor="end" y="6.1" font-family="Liberation Serif, serif" font-size="18.5" fill="#222" stroke="#222" stroke-width="0.25">0</text>
<text transform="translate(566.23,203.30) rotate(-45)" text-anchor="end" y="6.1" font-family="Liberation Serif, serif" font-size="18.5" fill="#222" stroke="#222" stroke-width="0.25">0.25</text>
<text transform="translate(597.60,203.30) rotate(-45)" text-anchor="end" y="6.1" font-family="Liberation Serif, serif" font-size="18.5" fill="#222" stroke="#222" stroke-width="0.25">0.5</text>
<text transform="translate(628.98,203.30) rotate(-45)" text-anchor="end" y="6.1" font-family="Liberation Serif, serif" font-size="18.5" fill="#222" stroke="#222" stroke-width="0.25">0.75</text>
<text transform="translate(660.35,203.30) rotate(-45)" text-anchor="end" y="6.1" font-family="Liberation Serif, serif" font-size="18.5" fill="#222" stroke="#222" stroke-width="0.25">1</text>
<text transform="translate(359.00,105.80) rotate(-90)" text-anchor="middle" y="4" font-family="Liberation Serif, serif" font-style="italic" font-size="18.3" fill="#222" stroke="#222" stroke-width="0.4">η</text>
<text transform="translate(507.10,255.00) scale(0.82,1)" font-family="Liberation Serif, serif" stroke="#222" stroke-width="0.7" font-size="18.5" fill="#222">Φ</text>
<text transform="translate(519.40,255.00) scale(1.1,1)" font-family="Liberation Serif, serif" stroke="#222" stroke-width="0.8" font-size="18.5" fill="#222">/</text>
<text transform="translate(526.70,255.00) scale(0.82,1)" font-family="Liberation Serif, serif" stroke="#222" stroke-width="0.7" font-size="18.5" fill="#222">Φ</text>
<text transform="translate(540.00,263.80) scale(1.0,1)" font-family="Liberation Serif, serif" font-weight="bold" font-size="15" fill="#222">0</text>
<text x="624.30" y="40.00" font-family="Liberation Serif, serif" font-weight="bold" font-size="19" fill="#111">(b)</text>
<clipPath id="cc"><rect x="56.0" y="289.0" width="250.89999999999998" height="172.0"/></clipPath>
<line x1="87.50" x2="87.50" y1="289.0" y2="461.0" stroke="#eeeeee" stroke-width="1"/>
<line x1="118.50" x2="118.50" y1="289.0" y2="461.0" stroke="#eeeeee" stroke-width="1"/>
<line x1="150.50" x2="150.50" y1="289.0" y2="461.0" stroke="#eeeeee" stroke-width="1"/>
<line x1="181.50" x2="181.50" y1="289.0" y2="461.0" stroke="#eeeeee" stroke-width="1"/>
<line x1="212.50" x2="212.50" y1="289.0" y2="461.0" stroke="#eeeeee" stroke-width="1"/>
<line x1="244.50" x2="244.50" y1="289.0" y2="461.0" stroke="#eeeeee" stroke-width="1"/>
<line x1="275.50" x2="275.50" y1="289.0" y2="461.0" stroke="#eeeeee" stroke-width="1"/>
<line x1="56.0" x2="306.9" y1="417.50" y2="417.50" stroke="#eeeeee" stroke-width="1"/>
<line x1="56.0" x2="306.9" y1="374.50" y2="374.50" stroke="#eeeeee" stroke-width="1"/>
<line x1="56.0" x2="306.9" y1="331.50" y2="331.50" stroke="#eeeeee" stroke-width="1"/>
<g clip-path="url(#cc)" fill="none" stroke-width="1.9" stroke-linejoin="round">
<path d="M55.9,429.4 62.1,429.3 64.8,429.2 65.7,429.1 67.0,428.8 68.3,428.2 69.8,427.5 71.4,426.5 72.2,425.8 73.1,424.8 74.1,423.3 75.4,421.1 76.0,420.0 76.7,418.5 78.2,414.8 79.7,410.0 82.4,400.3 84.6,391.2 85.3,388.3 85.8,385.4 86.2,383.0 87.6,372.6 89.9,358.6 90.8,352.9 91.3,348.6 92.5,338.1 93.8,328.4 94.7,321.7 95.5,317.3 96.7,312.2 97.2,310.4 97.7,309.0 98.2,308.0 98.6,307.4 99.2,306.9 99.8,306.8 100.2,306.9 100.6,307.1 101.1,307.7 101.5,308.2 102.1,309.4 104.1,314.0 105.8,318.2 107.6,323.6 109.2,328.4 110.5,332.6 111.5,336.7 112.3,340.1 118.6,374.7 125.0,339.8 126.2,334.7 127.7,329.6 129.4,324.2 131.8,317.4 133.5,313.1 135.5,308.7 136.1,307.7 136.8,307.0 137.3,306.8 137.6,306.8 138.1,307.0 138.6,307.3 138.9,307.7 139.4,308.6 139.7,309.3 140.5,311.9 141.6,316.7 142.3,320.5 143.2,326.5 144.7,337.6 145.9,348.6 146.4,352.4 147.3,358.2 149.6,372.2 150.1,375.6 151.1,383.4 151.7,386.8 152.7,391.7 155.0,400.8 157.6,410.0 159.0,414.5 160.5,418.3 161.2,419.8 161.8,421.0 163.1,423.2 164.1,424.7 165.0,425.8 165.8,426.5 167.4,427.5 168.9,428.2 170.2,428.7 171.4,429.1 172.4,429.2 174.8,429.3 181.1,429.4 187.4,429.3 190.3,429.2 191.2,429.1 192.5,428.8 193.8,428.2 195.2,427.5 196.8,426.5 197.7,425.8 198.5,424.8 199.5,423.3 200.9,421.1 201.5,420.0 202.2,418.5 203.7,414.6 205.1,410.2 207.6,401.0 210.0,391.7 211.0,386.8 211.6,383.4 212.6,375.6 213.1,372.2 215.4,358.2 216.3,352.4 216.8,348.6 218.0,337.6 219.5,326.5 220.4,320.5 221.1,316.7 222.2,311.7 223.1,309.2 223.4,308.4 223.9,307.6 224.2,307.2 224.8,306.9 225.2,306.8 225.5,306.8 225.9,307.1 226.6,307.7 226.9,308.1 227.3,308.8 229.3,313.3 231.0,317.6 233.3,324.3 235.1,329.8 236.5,335.0 237.7,339.8 244.1,374.7 250.4,340.1 251.4,336.0 252.6,331.3 254.3,325.9 256.8,318.6 258.6,314.0 260.5,309.6 261.3,308.0 261.6,307.7 262.2,307.1 262.5,306.9 262.8,306.8 263.2,306.8 263.6,307.0 264.1,307.4 264.5,308.0 265.0,309.0 265.5,310.4 266.1,312.4 266.7,314.7 267.2,317.3 267.7,319.8 268.6,326.0 270.0,337.1 271.4,348.6 271.9,352.9 272.8,358.6 275.1,372.2 275.6,375.6 276.6,383.4 277.3,387.4 278.3,392.3 280.6,401.3 283.1,410.2 284.5,414.6 286.0,418.5 286.7,420.0 287.3,421.1 288.6,423.3 289.6,424.8 290.5,425.8 291.3,426.5 292.9,427.5 294.4,428.2 295.7,428.8 297.0,429.1 297.9,429.2 300.6,429.3 306.8,429.4" stroke="#000000"/>
<path d="M55.9,320.0 62.1,320.1 64.8,320.2 65.7,320.3 67.0,320.6 68.3,321.2 69.8,321.9 71.4,322.9 72.2,323.6 73.1,324.6 74.1,326.1 75.4,328.3 76.0,329.4 76.7,330.9 78.2,334.6 79.7,339.4 82.4,349.1 84.6,358.2 85.3,361.1 85.8,364.0 86.2,366.4 87.6,376.8 89.9,390.8 90.8,396.5 91.3,400.8 92.5,411.3 93.8,421.0 94.7,427.7 95.5,432.1 96.7,437.2 97.2,439.0 97.7,440.4 98.2,441.4 98.6,442.0 99.2,442.5 99.8,442.6 100.2,442.5 100.6,442.3 101.1,441.7 101.5,441.2 102.1,440.0 104.1,435.4 105.8,431.2 107.6,425.8 109.2,421.0 110.5,416.8 111.5,412.7 112.3,409.3 118.6,374.7 125.0,409.6 126.2,414.7 127.7,419.8 129.4,425.2 131.8,432.0 133.5,436.3 135.5,440.7 136.1,441.7 136.8,442.4 137.3,442.6 137.6,442.6 138.1,442.4 138.6,442.1 138.9,441.7 139.4,440.8 139.7,440.1 140.5,437.5 141.6,432.7 142.3,428.9 143.2,422.9 144.7,411.8 145.9,400.8 146.4,397.0 147.3,391.2 149.6,377.2 150.1,373.8 151.1,366.0 151.7,362.6 152.7,357.7 155.0,348.6 157.6,339.4 159.0,334.9 160.5,331.1 161.2,329.6 161.8,328.4 163.1,326.2 164.1,324.7 165.0,323.6 165.8,322.9 167.4,321.9 168.9,321.2 170.2,320.7 171.4,320.3 172.4,320.2 174.8,320.1 181.1,320.0 187.4,320.1 190.3,320.2 191.2,320.3 192.5,320.6 193.8,321.2 195.2,321.9 196.8,322.9 197.7,323.6 198.5,324.6 199.5,326.1 200.9,328.3 201.5,329.4 202.2,330.9 203.7,334.8 205.1,339.2 207.6,348.4 210.0,357.7 211.0,362.6 211.6,366.0 212.6,373.8 213.1,377.2 215.4,391.2 216.3,397.0 216.8,400.8 218.0,411.8 219.5,422.9 220.4,428.9 221.1,432.7 222.2,437.7 223.1,440.2 223.4,441.0 223.9,441.8 224.2,442.2 224.8,442.5 225.2,442.6 225.5,442.6 225.9,442.3 226.6,441.7 226.9,441.3 227.3,440.6 229.3,436.1 231.0,431.8 233.3,425.1 235.1,419.6 236.5,414.4 237.7,409.6 244.1,374.7 250.4,409.3 251.4,413.4 252.6,418.1 254.3,423.5 256.8,430.8 258.6,435.4 260.5,439.8 261.3,441.4 261.6,441.7 262.2,442.3 262.5,442.5 262.8,442.6 263.2,442.6 263.6,442.4 264.1,442.0 264.5,441.4 265.0,440.4 265.5,439.0 266.1,437.0 266.7,434.7 267.2,432.1 267.7,429.6 268.6,423.4 270.0,412.3 271.4,400.8 271.9,396.5 272.8,390.8 275.1,377.2 275.6,373.8 276.6,366.0 277.3,362.0 278.3,357.1 280.6,348.1 283.1,339.2 284.5,334.8 286.0,330.9 286.7,329.4 287.3,328.3 288.6,326.1 289.6,324.6 290.5,323.6 291.3,322.9 292.9,321.9 294.4,321.2 295.7,320.6 297.0,320.3 297.9,320.2 300.6,320.1 306.8,320.0" stroke="#000000" stroke-dasharray="1.7 1.6"/>
<path d="M55.9,364.4 58.1,364.4 60.4,364.6 62.6,365.0 64.9,365.4 67.2,366.0 69.6,366.7 72.0,367.6 74.6,368.6 77.3,369.8 80.2,371.1 87.5,374.8 88.8,375.7 90.1,376.8 91.5,378.2 93.0,379.9 95.8,383.2 97.4,385.6 101.6,393.0 104.1,397.3 105.0,399.0 105.8,400.7 106.5,402.6 107.3,405.0 108.6,409.4 110.3,416.6 112.9,428.3 113.5,429.9 113.8,430.3 114.0,430.4 114.1,430.3 114.3,430.1 114.6,429.5 114.9,428.7 115.2,427.6 115.8,422.8 116.5,415.8 117.1,407.9 117.7,397.2 118.1,387.7 118.6,374.7 119.1,387.7 119.6,397.2 120.2,407.9 120.8,415.8 121.4,422.8 122.0,427.2 122.4,428.9 122.8,429.9 123.0,430.2 123.2,430.4 123.4,430.3 123.6,430.0 124.3,428.3 126.9,416.6 128.7,409.4 129.9,405.0 130.7,402.6 131.5,400.7 132.2,399.0 133.1,397.3 135.7,393.0 139.8,385.6 141.5,383.2 144.2,379.9 145.7,378.2 147.2,376.8 148.5,375.7 149.8,374.8 157.1,371.1 160.0,369.8 162.7,368.6 165.2,367.6 167.7,366.7 170.1,366.0 172.4,365.4 174.6,365.0 176.9,364.6 179.2,364.4 181.3,364.4 183.5,364.4 185.8,364.6 188.1,365.0 190.3,365.4 192.6,366.0 195.0,366.7 197.5,367.6 200.0,368.6 202.7,369.8 205.6,371.1 212.9,374.8 214.2,375.7 215.5,376.8 217.0,378.2 218.5,379.9 221.2,383.2 222.9,385.6 227.0,393.0 229.6,397.3 230.5,399.0 231.2,400.7 232.0,402.6 232.8,405.0 234.0,409.4 235.8,416.6 238.4,428.3 239.0,429.9 239.2,430.3 239.4,430.4 239.6,430.3 239.7,430.1 240.1,429.5 240.4,428.7 240.6,427.6 241.3,422.8 241.9,415.8 242.5,407.9 243.1,397.2 243.6,387.7 244.1,374.7 244.6,387.7 245.0,397.2 245.6,407.9 246.2,415.8 246.9,422.8 247.5,427.6 247.8,428.7 248.1,429.5 248.4,430.1 248.6,430.3 248.7,430.4 248.9,430.3 249.2,429.9 249.8,428.3 252.4,416.6 254.1,409.4 255.4,405.0 256.2,402.6 256.9,400.7 257.7,399.0 258.6,397.3 261.1,393.0 265.3,385.6 266.9,383.2 269.7,379.9 271.2,378.2 272.6,376.8 273.9,375.7 275.2,374.8 282.5,371.1 285.4,369.8 288.1,368.6 290.7,367.6 293.1,366.7 295.5,366.0 297.8,365.4 300.1,365.0 302.3,364.6 304.6,364.4 306.8,364.4" stroke="#00ff00"/>
<path d="M55.9,385.0 58.1,385.0 60.4,384.8 62.6,384.4 64.9,384.0 67.2,383.4 69.6,382.7 72.0,381.8 74.6,380.8 77.3,379.6 80.2,378.3 87.5,374.6 88.8,373.7 90.1,372.6 91.5,371.2 93.0,369.5 95.8,366.2 97.4,363.8 101.6,356.4 104.1,352.1 105.0,350.4 105.8,348.7 106.5,346.8 107.3,344.4 108.6,340.0 110.3,332.8 112.9,321.1 113.5,319.5 113.8,319.1 114.0,319.0 114.1,319.1 114.3,319.3 114.6,319.9 114.9,320.7 115.2,321.8 115.8,326.6 116.5,333.6 117.1,341.5 117.7,352.2 118.1,361.7 118.6,374.7 119.1,361.7 119.6,352.2 120.2,341.5 120.8,333.6 121.4,326.6 122.0,322.2 122.4,320.5 122.8,319.5 123.0,319.2 123.2,319.0 123.4,319.1 123.6,319.4 124.3,321.1 126.9,332.8 128.7,340.0 129.9,344.4 130.7,346.8 131.5,348.7 132.2,350.4 133.1,352.1 135.7,356.4 139.8,363.8 141.5,366.2 144.2,369.5 145.7,371.2 147.2,372.6 148.5,373.7 149.8,374.6 157.1,378.3 160.0,379.6 162.7,380.8 165.2,381.8 167.7,382.7 170.1,383.4 172.4,384.0 174.6,384.4 176.9,384.8 179.2,385.0 181.3,385.0 183.5,385.0 185.8,384.8 188.1,384.4 190.3,384.0 192.6,383.4 195.0,382.7 197.5,381.8 200.0,380.8 202.7,379.6 205.6,378.3 212.9,374.6 214.2,373.7 215.5,372.6 217.0,371.2 218.5,369.5 221.2,366.2 222.9,363.8 227.0,356.4 229.6,352.1 230.5,350.4 231.2,348.7 232.0,346.8 232.8,344.4 234.0,340.0 235.8,332.8 238.4,321.1 239.0,319.5 239.2,319.1 239.4,319.0 239.6,319.1 239.7,319.3 240.1,319.9 240.4,320.7 240.6,321.8 241.3,326.6 241.9,333.6 242.5,341.5 243.1,352.2 243.6,361.7 244.1,374.7 244.6,361.7 245.0,352.2 245.6,341.5 246.2,333.6 246.9,326.6 247.5,321.8 247.8,320.7 248.1,319.9 248.4,319.3 248.6,319.1 248.7,319.0 248.9,319.1 249.2,319.5 249.8,321.1 252.4,332.8 254.1,340.0 255.4,344.4 256.2,346.8 256.9,348.7 257.7,350.4 258.6,352.1 261.1,356.4 265.3,363.8 266.9,366.2 269.7,369.5 271.2,371.2 272.6,372.6 273.9,373.7 275.2,374.6 282.5,378.3 285.4,379.6 288.1,380.8 290.7,381.8 293.1,382.7 295.5,383.4 297.8,384.0 300.1,384.4 302.3,384.8 304.6,385.0 306.8,385.0" stroke="#00ff00" stroke-dasharray="1.7 1.6"/>
<path d="M55.9,330.2 57.6,330.4 59.3,330.8 61.0,331.6 62.7,332.7 64.4,334.1 66.1,335.9 67.9,338.0 69.7,340.4 71.5,343.1 73.3,346.1 75.2,349.5 77.2,353.3 79.3,357.4 81.5,362.0 87.3,374.7 88.6,379.0 90.1,384.4 91.7,390.7 93.5,398.4 94.8,404.7 97.0,417.2 99.1,427.8 99.7,431.1 100.4,433.8 101.8,438.4 102.4,440.1 103.0,441.4 103.6,442.3 104.2,443.0 104.8,443.6 105.3,443.7 105.6,443.6 106.0,443.4 107.0,442.5 107.5,441.6 108.0,440.3 109.6,436.1 110.7,432.8 111.7,429.1 112.5,425.4 113.2,421.5 113.9,416.6 114.8,410.3 115.6,403.9 117.1,390.3 118.6,374.7 120.2,391.0 121.7,404.4 122.5,410.8 123.5,417.4 124.2,422.2 124.9,426.1 125.8,429.9 126.8,433.4 127.9,436.8 129.6,441.2 130.0,442.0 130.3,442.5 131.2,443.4 131.6,443.6 131.9,443.7 132.2,443.6 132.5,443.5 133.1,443.0 133.7,442.3 134.1,441.6 134.6,440.7 135.7,437.7 137.0,433.3 138.2,427.8 140.2,417.2 142.4,405.0 143.7,398.6 145.5,391.0 147.1,384.4 148.6,379.0 150.0,374.7 155.8,362.0 158.0,357.4 160.0,353.3 162.0,349.5 163.9,346.1 165.7,343.1 167.6,340.4 169.4,338.0 171.1,335.9 172.9,334.1 174.6,332.7 176.3,331.6 178.0,330.8 179.7,330.4 181.3,330.2 183.0,330.4 184.7,330.8 186.4,331.6 188.1,332.7 189.8,334.1 191.6,335.9 193.3,338.0 195.1,340.4 197.0,343.1 198.8,346.1 200.7,349.5 202.7,353.3 204.7,357.4 206.9,362.0 212.7,374.7 214.1,379.0 215.6,384.4 217.2,391.0 219.0,398.6 220.3,405.0 222.5,417.2 224.5,427.8 225.7,433.3 227.0,437.7 228.1,440.7 228.6,441.6 229.0,442.3 229.6,443.0 230.2,443.5 230.5,443.6 230.8,443.7 231.1,443.6 231.5,443.4 232.4,442.5 232.7,442.0 233.1,441.2 234.8,436.8 235.9,433.4 236.9,429.9 237.8,426.1 238.5,422.2 239.2,417.4 240.2,410.8 241.0,404.4 242.5,391.0 244.1,374.7 245.6,391.0 247.1,404.4 248.0,410.8 248.9,417.4 249.7,422.2 250.3,426.1 251.2,429.9 252.2,433.4 253.3,436.6 255.0,441.1 255.7,442.4 256.5,443.3 256.9,443.6 257.2,443.7 257.5,443.7 257.8,443.6 258.3,443.2 259.1,442.4 259.4,441.9 259.9,441.0 260.4,439.6 261.0,438.1 262.4,433.6 263.0,431.1 263.6,427.8 265.7,417.2 267.9,404.7 269.2,398.4 271.0,390.7 272.6,384.4 274.1,379.0 275.4,374.7 281.2,362.0 283.4,357.4 285.5,353.3 287.5,349.5 289.4,346.1 291.2,343.1 293.0,340.4 294.8,338.0 296.6,335.9 298.3,334.1 300.0,332.7 301.7,331.6 303.4,330.8 305.1,330.4 306.8,330.2" stroke="#ff0000"/>
<path d="M55.9,419.2 57.6,419.0 59.3,418.6 61.0,417.8 62.7,416.7 64.4,415.3 66.1,413.5 67.9,411.4 69.7,409.0 71.5,406.3 73.3,403.3 75.2,399.9 77.2,396.1 79.3,392.0 81.5,387.4 87.3,374.7 88.6,370.4 90.1,365.0 91.7,358.7 93.5,351.0 94.8,344.7 97.0,332.2 99.1,321.6 99.7,318.3 100.4,315.6 101.8,311.0 102.4,309.3 103.0,308.0 103.6,307.1 104.2,306.4 104.8,305.8 105.3,305.7 105.6,305.8 106.0,306.0 107.0,306.9 107.5,307.8 108.0,309.1 109.6,313.3 110.7,316.6 111.7,320.3 112.5,324.0 113.2,327.9 113.9,332.8 114.8,339.1 115.6,345.5 117.1,359.1 118.6,374.7 120.2,358.4 121.7,345.0 122.5,338.6 123.5,332.0 124.2,327.2 124.9,323.3 125.8,319.5 126.8,316.0 127.9,312.6 129.6,308.2 130.0,307.4 130.3,306.9 131.2,306.0 131.6,305.8 131.9,305.7 132.2,305.8 132.5,305.9 133.1,306.4 133.7,307.1 134.1,307.8 134.6,308.7 135.7,311.7 137.0,316.1 138.2,321.6 140.2,332.2 142.4,344.4 143.7,350.8 145.5,358.4 147.1,365.0 148.6,370.4 150.0,374.7 155.8,387.4 158.0,392.0 160.0,396.1 162.0,399.9 163.9,403.3 165.7,406.3 167.6,409.0 169.4,411.4 171.1,413.5 172.9,415.3 174.6,416.7 176.3,417.8 178.0,418.6 179.7,419.0 181.3,419.2 183.0,419.0 184.7,418.6 186.4,417.8 188.1,416.7 189.8,415.3 191.6,413.5 193.3,411.4 195.1,409.0 197.0,406.3 198.8,403.3 200.7,399.9 202.7,396.1 204.7,392.0 206.9,387.4 212.7,374.7 214.1,370.4 215.6,365.0 217.2,358.4 219.0,350.8 220.3,344.4 222.5,332.2 224.5,321.6 225.7,316.1 227.0,311.7 228.1,308.7 228.6,307.8 229.0,307.1 229.6,306.4 230.2,305.9 230.5,305.8 230.8,305.7 231.1,305.8 231.5,306.0 232.4,306.9 232.7,307.4 233.1,308.2 234.8,312.6 235.9,316.0 236.9,319.5 237.8,323.3 238.5,327.2 239.2,332.0 240.2,338.6 241.0,345.0 242.5,358.4 244.1,374.7 245.6,358.4 247.1,345.0 248.0,338.6 248.9,332.0 249.7,327.2 250.3,323.3 251.2,319.5 252.2,316.0 253.3,312.8 255.0,308.3 255.7,307.0 256.5,306.1 256.9,305.8 257.2,305.7 257.5,305.7 257.8,305.8 258.3,306.2 259.1,307.0 259.4,307.5 259.9,308.4 260.4,309.8 261.0,311.3 262.4,315.8 263.0,318.3 263.6,321.6 265.7,332.2 267.9,344.7 269.2,351.0 271.0,358.7 272.6,365.0 274.1,370.4 275.4,374.7 281.2,387.4 283.4,392.0 285.5,396.1 287.5,399.9 289.4,403.3 291.2,406.3 293.0,409.0 294.8,411.4 296.6,413.5 298.3,415.3 300.0,416.7 301.7,417.8 303.4,418.6 305.1,419.0 306.8,419.2" stroke="#ff0000" stroke-dasharray="1.7 1.6"/>
</g>
<rect x="56.0" y="289.0" width="250.90" height="172.00" fill="none" stroke="#8a8a8a" stroke-width="1"/>
<path d="M56.00,461.0 v-2.6 M56.00,289.0 v2.6" stroke="#6a6a6a" stroke-width="1"/>
<path d="M87.50,461.0 v-2.6 M87.50,289.0 v2.6" stroke="#6a6a6a" stroke-width="1"/>
<path d="M118.50,461.0 v-2.6 M118.50,289.0 v2.6" stroke="#6a6a6a" stroke-width="1"/>
<path d="M150.50,461.0 v-2.6 M150.50,289.0 v2.6" stroke="#6a6a6a" stroke-width="1"/>
<path d="M181.50,461.0 v-2.6 M181.50,289.0 v2.6" stroke="#6a6a6a" stroke-width="1"/>
<path d="M212.50,461.0 v-2.6 M212.50,289.0 v2.6" stroke="#6a6a6a" stroke-width="1"/>
<path d="M244.50,461.0 v-2.6 M244.50,289.0 v2.6" stroke="#6a6a6a" stroke-width="1"/>
<path d="M275.50,461.0 v-2.6 M275.50,289.0 v2.6" stroke="#6a6a6a" stroke-width="1"/>
<path d="M306.90,461.0 v-2.6 M306.90,289.0 v2.6" stroke="#6a6a6a" stroke-width="1"/>
<path d="M56.0,461.00 h2.6 M306.9,461.00 h-2.6" stroke="#6a6a6a" stroke-width="1"/>
<path d="M56.0,417.50 h2.6 M306.9,417.50 h-2.6" stroke="#6a6a6a" stroke-width="1"/>
<path d="M56.0,374.50 h2.6 M306.9,374.50 h-2.6" stroke="#6a6a6a" stroke-width="1"/>
<path d="M56.0,331.50 h2.6 M306.9,331.50 h-2.6" stroke="#6a6a6a" stroke-width="1"/>
<path d="M56.0,289.00 h2.6 M306.9,289.00 h-2.6" stroke="#6a6a6a" stroke-width="1"/>
<text x="51.70" y="468.10" text-anchor="end" font-family="Liberation Serif, serif" font-size="18.5" fill="#222" stroke="#222" stroke-width="0.25">-0.4</text>
<text x="51.70" y="425.10" text-anchor="end" font-family="Liberation Serif, serif" font-size="18.5" fill="#222" stroke="#222" stroke-width="0.25">-0.2</text>
<text x="51.70" y="382.10" text-anchor="end" font-family="Liberation Serif, serif" font-size="18.5" fill="#222" stroke="#222" stroke-width="0.25">0</text>
<text x="51.70" y="339.10" text-anchor="end" font-family="Liberation Serif, serif" font-size="18.5" fill="#222" stroke="#222" stroke-width="0.25">0.2</text>
<text x="51.70" y="296.10" text-anchor="end" font-family="Liberation Serif, serif" font-size="18.5" fill="#222" stroke="#222" stroke-width="0.25">0.4</text>
<text transform="translate(63.85,472.70) rotate(-45)" text-anchor="end" y="6.1" font-family="Liberation Serif, serif" font-size="18.5" fill="#222" stroke="#222" stroke-width="0.25">-1</text>
<text transform="translate(95.21,472.70) rotate(-45)" text-anchor="end" y="6.1" font-family="Liberation Serif, serif" font-size="18.5" fill="#222" stroke="#222" stroke-width="0.25">-0.75</text>
<text transform="translate(126.57,472.70) rotate(-45)" text-anchor="end" y="6.1" font-family="Liberation Serif, serif" font-size="18.5" fill="#222" stroke="#222" stroke-width="0.25">-0.5</text>
<text transform="translate(157.94,472.70) rotate(-45)" text-anchor="end" y="6.1" font-family="Liberation Serif, serif" font-size="18.5" fill="#222" stroke="#222" stroke-width="0.25">-0.25</text>
<text transform="translate(189.30,472.70) rotate(-45)" text-anchor="end" y="6.1" font-family="Liberation Serif, serif" font-size="18.5" fill="#222" stroke="#222" stroke-width="0.25">0</text>
<text transform="translate(220.66,472.70) rotate(-45)" text-anchor="end" y="6.1" font-family="Liberation Serif, serif" font-size="18.5" fill="#222" stroke="#222" stroke-width="0.25">0.25</text>
<text transform="translate(252.02,472.70) rotate(-45)" text-anchor="end" y="6.1" font-family="Liberation Serif, serif" font-size="18.5" fill="#222" stroke="#222" stroke-width="0.25">0.5</text>
<text transform="translate(283.39,472.70) rotate(-45)" text-anchor="end" y="6.1" font-family="Liberation Serif, serif" font-size="18.5" fill="#222" stroke="#222" stroke-width="0.25">0.75</text>
<text transform="translate(314.75,472.70) rotate(-45)" text-anchor="end" y="6.1" font-family="Liberation Serif, serif" font-size="18.5" fill="#222" stroke="#222" stroke-width="0.25">1</text>
<text transform="translate(13.50,375.10) rotate(-90)" text-anchor="middle" y="4" font-family="Liberation Serif, serif" font-style="italic" font-size="18.3" fill="#222" stroke="#222" stroke-width="0.4">η</text>
<text transform="translate(161.55,524.40) scale(0.82,1)" font-family="Liberation Serif, serif" stroke="#222" stroke-width="0.7" font-size="18.5" fill="#222">Φ</text>
<text transform="translate(173.85,524.40) scale(1.1,1)" font-family="Liberation Serif, serif" stroke="#222" stroke-width="0.8" font-size="18.5" fill="#222">/</text>
<text transform="translate(181.15,524.40) scale(0.82,1)" font-family="Liberation Serif, serif" stroke="#222" stroke-width="0.7" font-size="18.5" fill="#222">Φ</text>
<text transform="translate(194.45,533.20) scale(1.0,1)" font-family="Liberation Serif, serif" font-weight="bold" font-size="15" fill="#222">0</text>
<text x="278.70" y="309.20" font-family="Liberation Serif, serif" font-weight="bold" font-size="19" fill="#111">(c)</text>
<clipPath id="cd"><rect x="401.5" y="289.0" width="251.0" height="172.0"/></clipPath>
<line x1="433.50" x2="433.50" y1="289.0" y2="461.0" stroke="#eeeeee" stroke-width="1"/>
<line x1="464.50" x2="464.50" y1="289.0" y2="461.0" stroke="#eeeeee" stroke-width="1"/>
<line x1="496.50" x2="496.50" y1="289.0" y2="461.0" stroke="#eeeeee" stroke-width="1"/>
<line x1="527.50" x2="527.50" y1="289.0" y2="461.0" stroke="#eeeeee" stroke-width="1"/>
<line x1="558.50" x2="558.50" y1="289.0" y2="461.0" stroke="#eeeeee" stroke-width="1"/>
<line x1="590.50" x2="590.50" y1="289.0" y2="461.0" stroke="#eeeeee" stroke-width="1"/>
<line x1="621.50" x2="621.50" y1="289.0" y2="461.0" stroke="#eeeeee" stroke-width="1"/>
<line x1="401.5" x2="652.5" y1="453.50" y2="453.50" stroke="#eeeeee" stroke-width="1"/>
<line x1="401.5" x2="652.5" y1="414.50" y2="414.50" stroke="#eeeeee" stroke-width="1"/>
<line x1="401.5" x2="652.5" y1="374.50" y2="374.50" stroke="#eeeeee" stroke-width="1"/>
<line x1="401.5" x2="652.5" y1="335.50" y2="335.50" stroke="#eeeeee" stroke-width="1"/>
<line x1="401.5" x2="652.5" y1="296.50" y2="296.50" stroke="#eeeeee" stroke-width="1"/>
<g clip-path="url(#cd)" fill="none" stroke-width="1.9" stroke-linejoin="round">
<path d="M401.6,421.6 404.2,419.9 406.7,418.0 408.8,416.1 413.5,411.6 415.7,409.7 417.8,408.2 419.7,407.1 421.1,406.4 422.4,406.0 423.8,405.8 425.0,405.7 426.3,405.8 427.5,406.1 428.6,406.6 429.7,407.3 430.7,408.0 431.7,409.0 432.7,410.1 433.6,411.3 434.4,412.5 435.1,413.9 435.8,415.4 436.5,417.2 437.5,420.2 438.6,424.2 442.1,439.0 443.3,443.9 444.7,448.3 445.3,450.3 446.0,451.8 446.6,453.2 447.2,454.2 447.8,455.0 448.4,455.6 448.9,455.9 449.5,456.1 450.1,456.0 450.7,455.6 451.5,454.9 452.4,453.6 453.3,452.1 454.2,450.0 455.3,447.4 456.4,444.3 457.6,440.6 458.9,436.6 461.0,429.3 463.3,420.9 465.2,413.4 469.6,395.4 471.7,387.1 473.7,380.0 475.6,374.2 476.7,371.4 477.7,368.9 478.8,366.7 479.8,365.0 480.8,363.6 481.8,362.7 482.3,362.3 482.8,362.1 483.3,361.9 483.8,361.9 484.6,362.0 485.4,362.4 486.2,363.0 487.1,363.9 488.0,365.0 488.9,366.5 489.8,368.2 490.8,370.1 492.7,374.5 494.8,380.0 497.0,386.2 502.7,402.8 504.3,407.2 505.7,410.9 507.3,414.6 508.9,417.6 510.3,419.9 511.0,420.8 511.8,421.7 512.9,422.7 514.1,423.5 515.3,424.0 516.5,424.4 517.9,424.5 519.4,424.4 521.0,424.2 522.6,423.7 524.4,422.9 526.4,422.0 528.4,420.7 530.4,419.3 531.9,418.2 533.4,416.9 538.5,412.1 540.5,410.3 542.8,408.5 544.9,407.2 546.3,406.6 547.5,406.1 548.7,405.8 549.9,405.7 551.1,405.7 552.2,405.9 553.3,406.2 554.3,406.7 555.4,407.4 556.4,408.2 557.4,409.2 558.4,410.4 559.3,411.6 560.1,412.8 560.8,414.3 561.5,415.9 562.6,418.8 563.7,422.7 564.9,427.5 568.1,441.0 569.1,444.8 570.0,447.9 571.2,451.1 572.3,453.5 572.9,454.4 573.4,455.2 574.0,455.7 574.5,456.0 574.9,456.0 575.2,456.0 575.6,455.9 576.1,455.7 576.9,455.0 577.7,453.9 578.6,452.4 579.5,450.5 580.5,448.0 581.6,445.2 583.0,441.2 584.3,436.8 585.8,432.0 587.3,426.6 589.9,416.5 596.4,390.2 598.3,383.3 600.0,377.6 601.1,374.2 602.2,371.4 603.2,368.9 604.2,366.8 605.2,365.1 606.2,363.7 607.2,362.7 608.2,362.1 609.1,361.9 609.5,361.9 610.0,362.0 610.9,362.4 611.9,363.2 612.9,364.3 613.9,365.7 615.0,367.5 616.1,369.7 618.0,374.2 620.3,380.0 622.5,386.2 628.0,402.1 630.7,409.6 632.2,413.1 633.5,416.0 634.8,418.3 636.0,420.2 636.8,421.1 637.6,422.0 638.4,422.7 639.2,423.3 640.1,423.7 640.9,424.1 641.9,424.4 642.8,424.5 643.9,424.5 645.0,424.4 646.1,424.2 647.3,423.9 648.6,423.5 649.9,423.0 652.5,421.6" stroke="#000000"/>
<path d="M401.6,327.7 403.0,326.9 404.3,326.3 405.6,325.8 406.8,325.4 408.0,325.1 409.2,324.9 410.3,324.8 411.4,324.8 412.3,325.0 413.3,325.2 414.2,325.6 415.0,326.1 415.9,326.7 416.7,327.5 417.5,328.4 418.2,329.4 419.5,331.3 420.8,333.6 422.1,336.5 423.5,340.0 426.2,347.4 431.5,362.7 433.6,368.8 435.7,374.2 437.6,378.6 438.6,380.7 439.6,382.6 440.5,384.1 441.4,385.3 442.3,386.2 443.2,386.9 444.0,387.3 444.8,387.4 445.3,387.4 445.8,387.2 446.3,387.0 446.8,386.6 447.7,385.7 448.7,384.4 449.7,382.7 450.7,380.7 451.8,378.2 452.9,375.4 454.8,369.7 456.8,362.6 459.0,354.1 463.5,335.6 465.5,327.7 467.9,318.9 470.2,311.1 471.5,307.0 472.8,303.2 474.0,300.3 475.0,298.0 475.9,296.2 476.9,294.8 477.7,293.8 478.2,293.5 478.6,293.3 479.2,293.3 479.8,293.4 480.4,293.9 481.1,294.6 481.7,295.6 482.3,296.8 482.9,298.2 483.6,300.1 484.7,303.4 485.8,307.5 489.3,322.4 490.5,327.1 491.7,330.9 492.9,334.0 493.5,335.5 494.3,336.9 495.0,338.1 495.9,339.2 496.9,340.3 497.8,341.2 498.8,342.0 499.8,342.6 500.9,343.1 501.9,343.4 503.1,343.6 504.3,343.6 505.5,343.4 506.7,343.1 507.9,342.7 509.2,342.1 511.3,340.8 513.6,339.0 515.6,337.2 520.7,332.4 522.2,331.1 523.7,330.0 525.6,328.6 527.7,327.4 529.6,326.4 531.4,325.6 533.1,325.2 534.6,324.9 536.1,324.8 537.5,324.9 538.8,325.3 540.0,325.8 541.2,326.6 542.3,327.6 543.1,328.5 543.8,329.4 545.2,331.7 546.8,334.7 548.4,338.4 549.8,342.1 551.4,346.5 557.1,363.1 559.2,369.1 561.3,374.5 563.1,378.8 564.1,380.7 565.0,382.3 565.8,383.8 566.6,384.9 567.5,385.9 568.3,386.6 569.1,387.1 569.8,387.4 570.3,387.4 570.8,387.4 571.4,387.2 571.9,386.9 572.9,386.1 574.0,384.8 575.1,383.1 576.1,381.0 577.2,378.4 578.4,375.4 580.3,369.5 582.4,362.2 584.5,353.9 588.9,335.9 590.8,328.4 593.1,320.0 595.2,312.7 596.5,308.7 597.7,305.0 598.8,301.9 599.9,299.3 600.8,297.2 601.7,295.7 602.6,294.4 603.4,293.7 604.0,293.3 604.6,293.2 605.2,293.4 605.7,293.7 606.3,294.3 606.9,295.1 607.5,296.1 608.1,297.5 608.8,299.0 609.4,301.0 610.8,305.4 612.0,310.3 615.5,325.1 616.6,329.1 617.6,332.1 618.3,333.9 619.0,335.4 619.7,336.8 620.5,338.0 621.4,339.2 622.4,340.3 623.4,341.3 624.4,342.0 625.5,342.7 626.6,343.2 627.8,343.5 629.1,343.6 630.3,343.5 631.7,343.3 633.0,342.9 634.4,342.2 636.3,341.1 638.4,339.6 640.6,337.7 645.3,333.2 647.4,331.3 649.9,329.4 652.5,327.7" stroke="#000000" stroke-dasharray="1.7 1.6"/>
<path d="M401.6,357.6 403.3,357.7 405.1,357.9 406.8,358.2 408.5,358.6 410.3,359.1 412.0,359.7 413.7,360.4 415.4,361.1 417.9,362.5 420.5,364.0 422.9,365.7 430.7,371.2 433.8,373.3 437.0,375.3 439.6,376.8 441.3,377.6 442.8,378.0 444.2,378.2 445.1,378.1 446.0,377.9 446.9,377.4 447.9,376.8 448.8,376.0 449.7,375.0 450.7,373.9 451.6,372.6 452.6,371.1 453.5,369.5 455.4,365.8 457.2,361.7 462.0,350.1 463.5,347.0 464.8,344.5 465.6,343.1 466.4,341.9 467.2,340.8 468.0,340.0 468.8,339.3 469.6,338.8 470.3,338.5 471.1,338.3 471.6,338.3 472.1,338.4 473.1,338.8 474.2,339.5 475.4,340.6 476.5,342.0 477.8,343.7 483.1,351.9 484.4,353.8 485.6,355.3 486.8,356.7 488.0,357.8 489.3,358.7 490.7,359.4 492.3,359.9 494.2,360.3 499.5,360.9 501.0,361.0 502.5,361.1 504.7,360.9 507.2,360.6 509.8,360.1 518.0,358.5 520.7,358.0 523.2,357.8 525.9,357.6 528.5,357.7 531.1,358.0 533.6,358.5 536.0,359.2 538.3,360.0 540.7,361.0 543.0,362.2 544.8,363.3 546.8,364.5 555.6,370.9 558.3,372.7 561.1,374.4 564.2,376.3 566.0,377.2 567.6,377.9 569.0,378.2 570.0,378.2 571.0,378.0 572.0,377.7 573.0,377.1 574.0,376.3 575.0,375.3 576.0,374.1 577.1,372.7 578.0,371.2 578.9,369.6 580.9,365.8 582.7,361.7 587.5,350.2 588.9,347.1 590.2,344.7 591.7,342.2 592.4,341.2 593.2,340.4 593.9,339.6 594.6,339.1 595.4,338.7 596.1,338.4 596.6,338.3 597.2,338.3 597.8,338.4 598.3,338.6 599.4,339.3 600.7,340.4 601.8,341.7 603.2,343.5 608.8,352.1 610.1,354.1 611.3,355.6 612.7,357.1 614.0,358.2 615.3,359.0 616.8,359.7 617.8,360.0 619.1,360.2 624.2,360.9 626.6,361.1 629.0,361.0 631.2,360.8 633.5,360.5 642.0,358.7 645.7,358.1 649.3,357.7 652.5,357.6" stroke="#00ff00"/>
<path d="M401.6,391.7 404.8,391.6 408.4,391.2 412.1,390.6 420.6,388.8 422.9,388.5 425.1,388.3 427.5,388.2 429.9,388.4 435.0,389.1 436.3,389.3 437.3,389.6 438.8,390.3 440.1,391.1 441.4,392.2 442.8,393.7 444.0,395.2 445.3,397.2 450.9,405.8 452.3,407.6 453.4,408.9 454.7,410.0 455.8,410.7 456.3,410.9 456.9,411.0 457.5,411.0 458.0,410.9 458.7,410.6 459.5,410.2 460.2,409.7 460.9,408.9 461.7,408.1 462.4,407.1 464.0,404.5 465.2,402.1 466.6,399.1 471.3,387.8 473.1,383.8 475.0,380.0 476.8,377.0 477.8,375.6 478.7,374.4 479.7,373.3 480.7,372.5 481.6,371.9 482.6,371.5 483.5,371.2 484.4,371.1 485.1,371.1 485.9,371.3 487.5,371.8 489.2,372.6 492.0,374.2 495.0,376.1 498.1,378.2 507.5,384.9 509.5,386.1 511.4,387.2 513.6,388.4 515.9,389.3 518.1,390.1 520.5,390.8 523.0,391.3 525.6,391.6 528.2,391.7 530.9,391.5 533.4,391.3 536.1,390.8 544.3,389.2 546.9,388.7 549.4,388.4 551.6,388.2 553.1,388.3 554.6,388.4 559.9,389.0 561.8,389.4 563.4,389.9 564.8,390.6 566.1,391.5 567.3,392.6 568.5,394.0 569.7,395.5 571.0,397.4 576.2,405.5 577.4,407.2 578.5,408.4 579.5,409.5 580.5,410.2 581.4,410.7 582.3,410.9 583.0,411.0 583.7,410.8 584.4,410.5 585.2,410.1 585.9,409.4 586.7,408.7 587.4,407.8 588.2,406.7 589.7,404.2 591.2,401.0 592.9,397.2 598.0,385.2 599.5,381.8 601.0,379.0 602.0,377.4 603.0,376.0 603.9,374.8 604.9,373.7 605.8,372.8 606.7,372.1 607.7,371.6 608.6,371.3 609.3,371.1 609.9,371.1 610.7,371.1 611.4,371.3 613.1,371.8 615.1,372.9 618.9,375.1 622.6,377.5 625.6,379.5 631.4,383.8 634.0,385.5 636.6,387.1 639.2,388.4 640.9,389.1 642.5,389.8 644.1,390.3 645.8,390.8 647.5,391.1 649.2,391.4 650.9,391.6 652.5,391.7" stroke="#00ff00" stroke-dasharray="1.7 1.6"/>
<path d="M401.6,333.7 402.4,333.5 403.3,333.4 405.1,333.3 407.1,333.5 409.1,334.1 410.8,334.8 412.5,335.9 414.2,337.1 415.8,338.7 417.0,340.1 418.2,341.7 419.4,343.5 420.6,345.4 422.9,349.8 427.7,359.3 429.7,363.3 432.2,367.7 434.7,371.4 436.1,373.4 437.6,375.3 438.9,376.8 440.2,378.0 441.3,378.9 442.4,379.6 443.4,379.9 444.4,380.1 445.4,379.9 446.4,379.5 447.4,378.8 448.4,377.8 449.4,376.6 450.4,375.0 451.4,373.3 452.4,371.1 453.4,369.0 454.4,366.5 456.4,360.9 458.5,354.2 462.8,340.0 464.6,334.2 466.7,328.1 468.6,322.9 469.8,320.1 471.0,317.7 472.1,315.5 473.2,313.6 474.2,312.2 475.2,311.1 476.2,310.4 476.7,310.1 477.1,310.0 477.6,310.0 478.0,310.0 478.5,310.1 478.9,310.4 479.4,310.7 479.7,311.2 480.5,312.3 481.2,314.0 482.1,316.1 484.9,325.0 486.6,329.7 487.9,333.1 489.1,335.8 490.5,338.6 491.3,339.9 492.1,341.0 492.9,342.1 493.7,343.0 494.6,343.8 495.5,344.6 496.6,345.3 497.7,346.0 498.8,346.4 499.9,346.8 501.0,347.0 502.1,347.1 503.3,347.0 504.5,346.7 505.6,346.4 506.8,345.9 508.0,345.3 509.4,344.6 511.7,343.1 517.8,339.0 520.8,336.9 524.0,335.1 525.2,334.4 526.3,334.0 527.4,333.6 528.6,333.4 529.7,333.3 530.9,333.3 532.3,333.5 533.5,333.7 534.8,334.1 536.0,334.7 537.1,335.3 538.2,336.0 539.3,336.8 540.4,337.8 541.4,338.9 542.4,340.0 543.4,341.3 544.4,342.8 546.0,345.3 547.7,348.4 553.5,360.0 555.9,364.4 558.6,369.0 559.9,371.0 561.2,372.9 562.4,374.4 563.6,375.8 564.7,377.1 565.8,378.1 566.7,378.8 567.6,379.4 568.5,379.8 569.4,380.0 570.5,380.0 571.5,379.7 572.5,379.1 573.6,378.1 574.7,376.8 575.8,375.1 576.9,373.3 578.0,371.0 578.9,368.9 579.9,366.4 582.0,360.7 584.0,354.2 590.0,334.6 591.9,328.8 593.8,323.9 594.9,321.1 595.9,318.7 597.0,316.5 598.1,314.6 599.1,313.1 600.0,311.8 600.9,311.0 601.8,310.3 602.3,310.1 602.9,310.0 603.4,310.0 603.9,310.1 604.4,310.4 604.9,310.7 605.3,311.2 605.7,311.9 606.6,313.5 607.4,315.8 610.6,325.5 612.5,330.7 614.0,334.4 615.3,337.4 616.2,338.9 617.1,340.3 618.0,341.6 619.0,342.8 620.0,343.8 621.2,344.7 622.4,345.5 623.6,346.1 624.6,346.5 625.6,346.8 626.6,347.0 627.7,347.1 628.8,347.0 629.8,346.8 631.0,346.4 632.2,346.0 634.0,345.1 636.2,343.8 644.0,338.5 647.5,336.2 650.4,334.6 651.5,334.1 652.5,333.7" stroke="#ff0000"/>
<path d="M401.6,415.6 402.6,415.2 403.7,414.7 406.6,413.1 410.1,410.8 417.9,405.5 420.1,404.2 421.9,403.3 423.1,402.9 424.3,402.5 425.3,402.3 426.4,402.2 427.5,402.3 428.5,402.5 429.5,402.8 430.5,403.2 431.7,403.8 432.9,404.6 434.1,405.5 435.1,406.5 436.1,407.7 437.0,409.0 437.9,410.4 438.8,411.9 440.1,414.9 441.6,418.6 443.5,423.8 446.7,433.5 447.5,435.8 448.4,437.4 448.8,438.1 449.2,438.6 449.7,438.9 450.2,439.2 450.7,439.3 451.2,439.3 451.8,439.2 452.3,439.0 453.2,438.3 454.1,437.4 455.1,436.1 456.1,434.6 457.1,432.6 458.2,430.5 459.3,428.1 460.4,425.3 462.2,420.4 464.2,414.5 470.0,395.3 472.1,388.8 474.1,383.1 476.0,378.6 477.0,376.4 478.1,374.5 479.2,372.8 480.2,371.5 481.2,370.5 482.2,369.8 483.2,369.4 484.2,369.2 485.1,369.3 485.9,369.6 486.9,370.1 487.9,370.9 489.0,371.8 490.1,373.0 491.3,374.4 492.7,376.1 494.0,377.9 495.4,380.0 498.1,384.7 500.5,389.1 506.4,400.9 508.1,404.0 509.7,406.5 510.7,408.0 511.7,409.3 512.7,410.5 513.8,411.6 514.9,412.5 515.9,413.4 517.1,414.1 518.2,414.7 519.4,415.2 520.6,415.6 521.9,415.8 523.2,416.0 524.4,416.0 525.6,415.9 526.7,415.7 527.8,415.3 528.9,414.9 530.1,414.2 533.3,412.4 536.3,410.3 542.4,406.2 544.7,404.7 546.1,404.0 547.3,403.4 548.5,402.9 549.6,402.6 550.8,402.3 552.0,402.2 553.1,402.3 554.2,402.5 555.3,402.9 556.4,403.3 557.5,404.0 558.6,404.7 559.4,405.4 560.2,406.2 561.8,407.9 563.2,410.0 564.5,412.4 566.0,415.8 567.6,419.8 569.2,424.5 571.9,432.6 573.0,435.6 573.7,437.1 574.4,438.1 575.1,438.9 575.9,439.3 576.3,439.3 576.7,439.3 577.6,439.1 578.5,438.5 579.4,437.6 580.5,436.3 581.5,434.8 582.5,432.9 583.7,430.6 584.8,428.1 586.0,425.1 587.2,421.9 588.4,418.3 590.7,411.1 596.8,391.3 598.6,385.8 600.3,381.4 601.3,378.9 602.4,376.6 603.5,374.7 604.5,373.0 605.6,371.6 606.6,370.6 607.6,369.9 608.6,369.4 609.6,369.2 610.7,369.4 611.8,369.8 613.0,370.6 614.3,371.6 615.7,373.0 617.2,374.8 618.7,376.9 620.0,378.8 621.4,380.8 624.1,385.5 626.3,389.6 631.3,399.7 633.7,404.1 634.9,406.0 636.0,407.8 637.2,409.3 638.5,410.8 640.1,412.3 641.7,413.5 643.4,414.5 645.1,415.3 647.0,415.8 649.0,416.0 650.9,415.9 652.5,415.6" stroke="#ff0000" stroke-dasharray="1.7 1.6"/>
</g>
<rect x="401.5" y="289.0" width="251.00" height="172.00" fill="none" stroke="#8a8a8a" stroke-width="1"/>
<path d="M401.50,461.0 v-2.6 M401.50,289.0 v2.6" stroke="#6a6a6a" stroke-width="1"/>
<path d="M433.50,461.0 v-2.6 M433.50,289.0 v2.6" stroke="#6a6a6a" stroke-width="1"/>
<path d="M464.50,461.0 v-2.6 M464.50,289.0 v2.6" stroke="#6a6a6a" stroke-width="1"/>
<path d="M496.50,461.0 v-2.6 M496.50,289.0 v2.6" stroke="#6a6a6a" stroke-width="1"/>
<path d="M527.50,461.0 v-2.6 M527.50,289.0 v2.6" stroke="#6a6a6a" stroke-width="1"/>
<path d="M558.50,461.0 v-2.6 M558.50,289.0 v2.6" stroke="#6a6a6a" stroke-width="1"/>
<path d="M590.50,461.0 v-2.6 M590.50,289.0 v2.6" stroke="#6a6a6a" stroke-width="1"/>
<path d="M621.50,461.0 v-2.6 M621.50,289.0 v2.6" stroke="#6a6a6a" stroke-width="1"/>
<path d="M652.50,461.0 v-2.6 M652.50,289.0 v2.6" stroke="#6a6a6a" stroke-width="1"/>
<path d="M401.5,453.50 h2.6 M652.5,453.50 h-2.6" stroke="#6a6a6a" stroke-width="1"/>
<path d="M401.5,414.50 h2.6 M652.5,414.50 h-2.6" stroke="#6a6a6a" stroke-width="1"/>
<path d="M401.5,374.50 h2.6 M652.5,374.50 h-2.6" stroke="#6a6a6a" stroke-width="1"/>
<path d="M401.5,335.50 h2.6 M652.5,335.50 h-2.6" stroke="#6a6a6a" stroke-width="1"/>
<path d="M401.5,296.50 h2.6 M652.5,296.50 h-2.6" stroke="#6a6a6a" stroke-width="1"/>
<text x="397.20" y="460.28" text-anchor="end" font-family="Liberation Serif, serif" font-size="18.5" fill="#222" stroke="#222" stroke-width="0.25">-0.2</text>
<text x="397.20" y="421.19" text-anchor="end" font-family="Liberation Serif, serif" font-size="18.5" fill="#222" stroke="#222" stroke-width="0.25">-0.1</text>
<text x="397.20" y="382.10" text-anchor="end" font-family="Liberation Serif, serif" font-size="18.5" fill="#222" stroke="#222" stroke-width="0.25">0</text>
<text x="397.20" y="343.01" text-anchor="end" font-family="Liberation Serif, serif" font-size="18.5" fill="#222" stroke="#222" stroke-width="0.25">0.1</text>
<text x="397.20" y="303.92" text-anchor="end" font-family="Liberation Serif, serif" font-size="18.5" fill="#222" stroke="#222" stroke-width="0.25">0.2</text>
<text transform="translate(409.35,472.70) rotate(-45)" text-anchor="end" y="6.1" font-family="Liberation Serif, serif" font-size="18.5" fill="#222" stroke="#222" stroke-width="0.25">-1</text>
<text transform="translate(440.73,472.70) rotate(-45)" text-anchor="end" y="6.1" font-family="Liberation Serif, serif" font-size="18.5" fill="#222" stroke="#222" stroke-width="0.25">-0.75</text>
<text transform="translate(472.10,472.70) rotate(-45)" text-anchor="end" y="6.1" font-family="Liberation Serif, serif" font-size="18.5" fill="#222" stroke="#222" stroke-width="0.25">-0.5</text>
<text transform="translate(503.48,472.70) rotate(-45)" text-anchor="end" y="6.1" font-family="Liberation Serif, serif" font-size="18.5" fill="#222" stroke="#222" stroke-width="0.25">-0.25</text>
<text transform="translate(534.85,472.70) rotate(-45)" text-anchor="end" y="6.1" font-family="Liberation Serif, serif" font-size="18.5" fill="#222" stroke="#222" stroke-width="0.25">0</text>
<text transform="translate(566.23,472.70) rotate(-45)" text-anchor="end" y="6.1" font-family="Liberation Serif, serif" font-size="18.5" fill="#222" stroke="#222" stroke-width="0.25">0.25</text>
<text transform="translate(597.60,472.70) rotate(-45)" text-anchor="end" y="6.1" font-family="Liberation Serif, serif" font-size="18.5" fill="#222" stroke="#222" stroke-width="0.25">0.5</text>
<text transform="translate(628.98,472.70) rotate(-45)" text-anchor="end" y="6.1" font-family="Liberation Serif, serif" font-size="18.5" fill="#222" stroke="#222" stroke-width="0.25">0.75</text>
<text transform="translate(660.35,472.70) rotate(-45)" text-anchor="end" y="6.1" font-family="Liberation Serif, serif" font-size="18.5" fill="#222" stroke="#222" stroke-width="0.25">1</text>
<text transform="translate(359.00,375.10) rotate(-90)" text-anchor="middle" y="4" font-family="Liberation Serif, serif" font-style="italic" font-size="18.3" fill="#222" stroke="#222" stroke-width="0.4">η</text>
<text transform="translate(507.10,524.40) scale(0.82,1)" font-family="Liberation Serif, serif" stroke="#222" stroke-width="0.7" font-size="18.5" fill="#222">Φ</text>
<text transform="translate(519.40,524.40) scale(1.1,1)" font-family="Liberation Serif, serif" stroke="#222" stroke-width="0.8" font-size="18.5" fill="#222">/</text>
<text transform="translate(526.70,524.40) scale(0.82,1)" font-family="Liberation Serif, serif" stroke="#222" stroke-width="0.7" font-size="18.5" fill="#222">Φ</text>
<text transform="translate(540.00,533.20) scale(1.0,1)" font-family="Liberation Serif, serif" font-weight="bold" font-size="15" fill="#222">0</text>
<text x="624.30" y="309.20" font-family="Liberation Serif, serif" font-weight="bold" font-size="19" fill="#111">(d)</text>
</g>
</svg>
</body></html>
